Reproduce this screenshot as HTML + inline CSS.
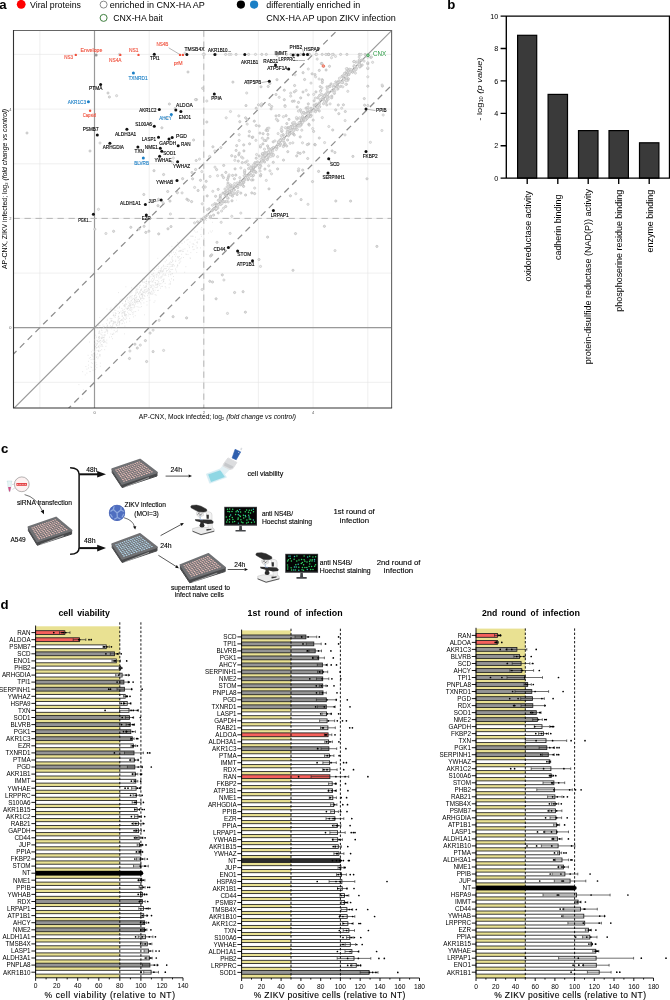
<!DOCTYPE html>
<html lang="en"><head><meta charset="utf-8"><title>Figure</title>
<style>html,body{margin:0;padding:0;background:#fff}body{width:670px;height:1000px;overflow:hidden;font-family:"Liberation Sans",sans-serif}svg{display:block}text{white-space:pre}#pc text{stroke:#000;stroke-width:.12px}</style>
</head><body>
<svg width="670" height="1000" viewBox="0 0 670 1000" font-family="'Liberation Sans', Arial, sans-serif">
<rect width="670" height="1000" fill="#fff"/>
<g id="pa"><text x="-0.7" y="9" font-size="13.2" fill="#000" font-weight="bold">a</text>
<circle cx="21.2" cy="4.3" r="4.4" fill="#f00"/>
<text x="30" y="7.6" font-size="8.8" fill="#000" textLength="51" lengthAdjust="spacingAndGlyphs">Viral proteins</text>
<circle cx="103.6" cy="4.6" r="3.5" fill="#fff" stroke="#8a8a8a" stroke-width="1"/>
<text x="109.8" y="7.6" font-size="8.8" fill="#000" textLength="95" lengthAdjust="spacingAndGlyphs">enriched in CNX-HA AP</text>
<circle cx="103.6" cy="17.9" r="3.5" fill="#fff" stroke="#3f7f3f" stroke-width="1"/>
<text x="113.2" y="20.9" font-size="8.8" fill="#000" textLength="49.6" lengthAdjust="spacingAndGlyphs">CNX-HA bait</text>
<circle cx="240.9" cy="4.6" r="4.1" fill="#000"/>
<circle cx="254.1" cy="4.6" r="4.1" fill="#1a7fc6"/>
<text x="266.3" y="7.6" font-size="8.8" fill="#000" textLength="94" lengthAdjust="spacingAndGlyphs">differentially enriched in</text>
<text x="266.3" y="20.9" font-size="8.8" fill="#000" textLength="129.4" lengthAdjust="spacingAndGlyphs">CNX-HA AP upon ZIKV infection</text>
<clipPath id="ca"><rect x="13.5" y="30.5" width="378.1" height="377.5"/></clipPath>
<g clip-path="url(#ca)">
<path d="M39.9 30.5V408.0M13.5 382.3H391.6M94.5 30.5V408.0M13.5 327.7H391.6M149.2 30.5V408.0M13.5 273.1H391.6M203.8 30.5V408.0M13.5 218.4H391.6M258.4 30.5V408.0M13.5 163.8H391.6M313.1 30.5V408.0M13.5 109.1H391.6M367.8 30.5V408.0M13.5 54.4H391.6" stroke="#e4e4e4" stroke-width="0.6" fill="none"/>
<path d="M94.5 30.5V408.0M13.5 327.7H391.6" stroke="#999" stroke-width="1.2" fill="none"/>
<path d="M203.8 30.5V408.0M13.5 218.4H391.6" stroke="#b4b4b4" stroke-width="1" stroke-dasharray="6.3 4.7" fill="none"/>
<path d="M197.3 243h.01M126.2 317.3h.01M136.3 301.7h.01M152.1 284.8h.01M110.9 318.8h.01M137.3 292.2h.01M138.4 293.8h.01M93.7 359.1h.01M172 273.7h.01M157 275.3h.01M117.8 308h.01M134.6 295.9h.01M158.8 281.7h.01M128.1 300.8h.01M127.6 308.6h.01M97.2 347.3h.01M155.1 287.6h.01M144.5 295.7h.01M145.6 287.3h.01M97.1 350.6h.01M191.1 236.2h.01M142.6 279h.01M125.4 301.4h.01M210.2 231.1h.01M135 304.4h.01M98.6 351.4h.01M119.8 318.3h.01M85.2 374.9h.01M171.9 259.1h.01M122.9 310.5h.01M113.9 321.4h.01M175.8 260.2h.01M91.9 354.5h.01M157.4 284.8h.01M88.1 355.3h.01M119.7 312.6h.01M101.4 344.9h.01M188 254.5h.01M197.5 242h.01M126.8 308.6h.01M166.6 260.2h.01M130.5 296.5h.01M159 270.8h.01M113.2 315.4h.01M96.4 347.7h.01M93.5 353.5h.01M152.5 281.4h.01M212.6 222.3h.01M155 300.9h.01M118.8 316.3h.01M201.9 220.1h.01M148.2 293.4h.01M144.2 298.7h.01M144.9 281.9h.01M130 301.6h.01M124.5 311.5h.01M95.8 335.2h.01M153.4 276.2h.01M134.5 295.5h.01M180.8 261.2h.01M127.9 306.6h.01M91 359.6h.01M135.9 295.5h.01M197.6 231.9h.01M128.2 302.6h.01M107.6 326.6h.01M99.2 333.2h.01M104.2 341.4h.01M131.2 303.2h.01M99.8 332.8h.01M193.1 249.7h.01M132.3 312.7h.01M141.2 294.4h.01M183.4 257.5h.01M187.7 244.3h.01M130.1 302.8h.01M150.5 293.1h.01M159.3 272.4h.01M136.9 296.6h.01M99 350.3h.01M158.7 268.3h.01M164.3 268.4h.01M151.8 286h.01M107.7 331.7h.01M134.4 300.1h.01M119.6 301h.01M127.5 297.8h.01M177.7 242.4h.01M191 236.2h.01M162.6 286.4h.01M156 280.5h.01M161.6 277.8h.01M138.1 289.2h.01M135 288.2h.01M112.7 325.2h.01M136.9 299.3h.01M211.5 217.1h.01M170.6 271.7h.01M124.5 313.7h.01M123.1 318.4h.01M107.2 320.6h.01M151.6 291.4h.01M150.9 276.3h.01M99 345.9h.01M152.8 275.8h.01M115.2 306h.01M185.8 254.1h.01M142.6 298.1h.01M193 236.4h.01M121 320.5h.01M124.6 312.6h.01M148.5 288.3h.01M173 260.7h.01M157.3 287.3h.01M106 342.2h.01M144.6 287.3h.01M139.6 287.3h.01M124.9 326.1h.01M115.8 310.3h.01M196 232.2h.01M126.7 318.6h.01M111.6 336.7h.01M153.3 273.1h.01M142.1 296.2h.01M134.7 299.2h.01M163.3 265.1h.01M157.3 283.7h.01M149.2 284.2h.01M172.6 261.6h.01M146.5 281.7h.01M116.3 306.1h.01M127.4 297.9h.01M118.8 313.6h.01M144.8 292.2h.01M99.8 317.4h.01M91.3 355.2h.01M142.6 291.6h.01M100.4 350.7h.01M89.3 358.3h.01M148.1 290.5h.01M119.5 325h.01M153.5 290.3h.01M118.2 319.3h.01M102.8 335.2h.01M98.5 350.4h.01M119.8 321.4h.01M130.7 307.5h.01M112.3 334.5h.01M128.1 316h.01M99.7 355.6h.01M138.2 307.1h.01M93.2 354.1h.01M131.5 311.2h.01M161 268.6h.01M176.2 254.1h.01M196.8 248h.01M94.8 350.1h.01M164.1 275.3h.01M177.7 264.8h.01M170 266.8h.01M106.3 330.8h.01M154.2 278.7h.01M201.7 227.4h.01M100 356.2h.01M157.6 284.4h.01M175.7 256.2h.01M113.1 312.9h.01M156.1 295.2h.01M102.9 324.9h.01M112.4 326.4h.01M113.8 314.5h.01M141.7 294.1h.01M137 306.6h.01M172.7 265h.01M111.5 321.2h.01M134 301.9h.01M170.5 281.8h.01M153.7 273.8h.01M97.6 353.9h.01M158.2 282h.01M119.6 322.1h.01M149.1 297.6h.01M144.9 296.3h.01M179.2 263.3h.01M142.9 298h.01M94.7 360.8h.01M98.5 346.4h.01M165.1 283.4h.01M131.6 307.7h.01M173.3 252.2h.01M146.7 281.6h.01M110 322.1h.01M172.6 256.6h.01M111.1 318.7h.01M90.4 357.5h.01M211.2 215.7h.01M96.8 364.7h.01M160.6 278h.01M169.5 255.4h.01M142.7 281.6h.01M95 343.7h.01M173.7 279.9h.01M96.3 348h.01M100.3 366.3h.01M125.3 304.7h.01M167.1 270.5h.01M151.2 287.1h.01M169.4 271.1h.01M122.7 303.4h.01M129.3 305.6h.01M97.8 328.8h.01M126.7 304.4h.01M155.1 275h.01M124.3 304.5h.01M153.4 280.7h.01M116.5 324.8h.01M119.5 312.6h.01M143.7 291.2h.01M131 305.3h.01M158.9 272.4h.01M140.7 285.2h.01M197.5 247.8h.01M129.1 306.1h.01M128 308.5h.01M98.8 339.3h.01M142.4 294.6h.01M157.7 280.5h.01M110.4 325.8h.01M136.5 297.6h.01M163.1 270.8h.01M134.5 299.7h.01M120.8 299.4h.01M169.1 268.2h.01M143.1 292.6h.01M152 292.8h.01M174.6 254.5h.01M180.4 250.6h.01M125.6 300.8h.01M122.4 320h.01M144.6 290h.01M131 293.2h.01M91.3 362.7h.01M179.8 247.6h.01M141 303.9h.01M159.5 262.9h.01M101.5 330.1h.01M179.6 250.7h.01M119.3 323.2h.01M134.9 302.4h.01M97.2 344.1h.01M137.3 301.4h.01M130.3 306.2h.01M134.3 305.5h.01M150.1 281.4h.01M139.9 285.7h.01M171.4 278.8h.01M122.6 323.3h.01M103.6 342.4h.01M135.7 303.2h.01M152.7 288.7h.01M179.1 251.5h.01M163.7 269.4h.01M93.6 359.3h.01M152.8 289.7h.01M192.5 247h.01M141.4 294.3h.01M122.9 312.8h.01M150 292.3h.01M122.7 310.1h.01M161.1 286.4h.01M137.2 289.2h.01M184.7 272.3h.01M155.8 284.9h.01M117.6 330.7h.01M160.4 271.5h.01M173.4 276.5h.01M116.1 304h.01M124.3 323h.01M88.6 361.3h.01M169.9 263.8h.01M115.3 317.3h.01M85.9 366.5h.01M89.5 342h.01M129.8 298.9h.01M169.1 287.7h.01M135.7 292.2h.01M151.5 280h.01M102.8 346.5h.01M98.5 337.7h.01M168.6 276.2h.01M153.9 279.7h.01M134.3 297h.01M180.5 258.8h.01M107.5 325.3h.01M124.6 319.1h.01M175.7 261.5h.01M198.1 239.3h.01M140.8 298.7h.01M195.3 227.1h.01M118.2 317.3h.01M152.1 294.2h.01M132.1 304.4h.01M96.9 356.9h.01M148.4 288.7h.01M171.3 264.9h.01M135 302.1h.01M138.7 299.4h.01M186.6 254.3h.01M99.4 336.8h.01M102.8 340.9h.01M116 324.2h.01M101.8 338.6h.01M182.3 251.6h.01M144 278.2h.01M107.3 319.3h.01M117.6 323.6h.01M236.4 200.2h.01M117.7 328.9h.01M114.2 330.3h.01M150.8 287.2h.01M162.1 271.5h.01M145.8 283.4h.01M107.7 330.6h.01M101 346.5h.01M156.6 274.6h.01M139.6 300.7h.01M93 350.2h.01M177.8 256.8h.01M165.1 266.3h.01M125.5 301.2h.01M131.1 300.5h.01M145.4 293.1h.01M115.5 313.8h.01M98.5 346.9h.01M145.9 286.1h.01M98.6 333.2h.01M151.8 281.9h.01M100.3 354.8h.01M136 290.4h.01M130 295.1h.01M201.1 229.1h.01M104.3 332.3h.01M100.1 343.1h.01M117.5 321.2h.01M100.4 340.7h.01M119.5 306.8h.01M151.8 286h.01M170.8 274.9h.01M194 244.6h.01M110.9 309.4h.01M227 202h.01M208.6 233.1h.01M130.2 304.9h.01M82.7 371.7h.01M138.7 294.2h.01M141.5 306.6h.01M86.9 369.1h.01M142.4 296.7h.01M129.5 309.3h.01M109.1 327h.01M161.6 270.8h.01M171.3 251.1h.01M123 313.1h.01M146.1 285.9h.01M118 325.6h.01M111.9 320.8h.01M136.5 289.1h.01M157.5 290.5h.01M118.2 320.4h.01M90.9 367h.01M158.4 290.3h.01M99.4 354.4h.01M141.8 289.2h.01M194.1 249.4h.01M137 301h.01M102.2 337.6h.01M97.1 340.8h.01M176.9 267.1h.01M141 290.3h.01M156.3 277.2h.01M172 257.8h.01M137 291h.01M124.7 305.7h.01M104.2 326.3h.01M78 414.4h.01M97.9 358.7h.01M134.2 307.1h.01M129.3 306.1h.01M149.8 277.3h.01M132.9 314.6h.01M141.8 294.5h.01M163.7 280.3h.01M112.4 338.7h.01M129.2 296.9h.01M94.4 351.4h.01M171.2 253.1h.01M143.1 287.9h.01M156.3 287.6h.01M190.3 258.6h.01M171.9 246.4h.01M132.6 302.6h.01M164.2 279.1h.01M98 341.2h.01M149.5 282h.01M140.1 297.7h.01M95.9 354.9h.01M178.8 251.2h.01M110.7 321h.01M161.3 269.1h.01M125.3 314.4h.01M172.7 266.4h.01M184.9 248.9h.01M113.6 323.5h.01M99 341.7h.01M133.3 303.9h.01M171.7 269.6h.01M129.4 318.4h.01M119.6 307.8h.01M153.1 291h.01M83.3 389.8h.01M111.2 326.5h.01M98.1 342.1h.01M142.9 282.4h.01M112.4 334.2h.01M104.2 336.9h.01M126.4 322.1h.01M101.3 337.4h.01M137.9 301.2h.01M115.4 332h.01M124.9 315.4h.01M115.2 312.6h.01M169.2 256.2h.01M137.3 292.3h.01M159.6 285.4h.01M155.4 282.5h.01M108.6 313.3h.01M158.9 283.5h.01M153.1 288.2h.01M150.4 293.8h.01M125.5 319.4h.01M125.9 303.5h.01M167.8 266.5h.01M206.6 220.5h.01M113.5 321.7h.01M158.1 272.3h.01M127 299.3h.01M163.7 271.1h.01M153.7 285.2h.01M175.6 269h.01M78.9 384.6h.01M119.6 321.7h.01M105 341.7h.01M137.9 303.2h.01M115.3 322h.01M116.2 313.4h.01M161.6 267.4h.01M204.2 238.4h.01M82.1 399h.01M129 310.5h.01M147.4 295.7h.01M135.8 298.3h.01M125.4 306.1h.01M96.1 343.2h.01M104.7 341h.01M163.7 281.5h.01M171.2 252.1h.01M138.9 301.6h.01M111.6 320.7h.01M140.4 289.9h.01M130.2 308.1h.01M154.1 286.2h.01M140.1 292.1h.01M116.6 325h.01M148.4 292.4h.01M102.2 336.9h.01M162.5 275h.01M179.4 259.2h.01M103.3 339.8h.01M154.1 292.2h.01M102.1 332.6h.01M174.5 265.9h.01M173.6 280h.01M128.5 307.8h.01M172.8 265.9h.01M122.1 316.5h.01M113.8 334.1h.01M118.1 311.4h.01M135.8 297.6h.01M129.9 304h.01M141.7 290.1h.01M116.5 327.4h.01M162.3 270.9h.01M168.4 269.6h.01M122.9 298.9h.01M101.7 349.7h.01M166.2 268.4h.01M175.9 270.1h.01M135.7 311.6h.01M102.4 345h.01M146.7 283.6h.01M190 242.1h.01M92.2 359.2h.01M155.1 294.6h.01M131.7 300.2h.01M107.4 333.2h.01M152.6 269.3h.01M101.8 328.4h.01M148.6 281.7h.01M178.7 246.1h.01M142.1 300.6h.01M106.9 309h.01M92.9 356.4h.01M100.8 334h.01M95.6 366.1h.01M192.2 243.9h.01M130.3 314.5h.01M101.3 334.8h.01M102.1 341.5h.01M105.6 332h.01M126.4 299.1h.01M98.5 337.7h.01M199.7 239.1h.01M115.1 322.7h.01M109.9 309.9h.01M145.1 291.3h.01M186.9 240.1h.01M185.9 266.7h.01M120.7 320.4h.01M146.5 286.1h.01M142.4 293.7h.01M157.8 258.3h.01M150.1 270.7h.01M103.7 340.4h.01M99.7 347.9h.01M143.9 292.7h.01M99.9 325.4h.01M182 243.4h.01M141.5 294h.01M104 342.5h.01M129.1 314.5h.01M124.5 333.9h.01M133.2 313h.01M171.6 262.5h.01M97.3 341h.01M93 370.2h.01M150.6 285.4h.01M132 292.1h.01M140.6 290.9h.01M156.8 284.7h.01M132.6 299.4h.01M163 266.8h.01M103.3 327.3h.01M140.5 299.2h.01M111.7 328.8h.01M104.1 335.2h.01M161.7 280.7h.01M156.9 268.9h.01M93.7 357.1h.01M98.6 327.9h.01M148.6 273.3h.01M176.7 250.1h.01M114.5 310.1h.01M131.8 301.2h.01M98.8 346.9h.01M223.8 196.2h.01M157.8 286.3h.01M166.4 271.7h.01M163.6 281.5h.01M167.3 264.5h.01M157.6 274h.01M125.4 301.7h.01M163.4 274h.01M140 307.3h.01M183.4 251.4h.01M113.5 315.6h.01M124.9 315.7h.01M161.7 276.2h.01M181.2 250.3h.01M144.2 282.5h.01M115.6 322.2h.01M134 311.7h.01M119.1 318.5h.01M200.9 234.5h.01M169.3 280h.01M183.1 249.3h.01M149.7 292.9h.01M119.4 312.8h.01M179.4 256.5h.01M193.4 243.8h.01M158.7 266.3h.01M140.7 302.4h.01M177.5 265.8h.01M128.8 308.1h.01M163.5 265.8h.01M114.8 321.8h.01M103.3 337.5h.01M159.6 273.5h.01M148.9 281.9h.01M200.1 218.4h.01M127.8 308.7h.01M139.8 295.3h.01M97 340.3h.01M90.1 371.5h.01M96.4 357.4h.01M154.3 275.9h.01M101.3 344.7h.01M173.1 264.3h.01M190.1 257.8h.01M131 297.8h.01M196.1 245.9h.01M143.7 285.8h.01M177.8 265.7h.01M133.3 304.8h.01M170.2 269.6h.01M105.9 346.3h.01M158.5 276h.01M124.2 309.5h.01M133.5 316.9h.01M159.1 277.5h.01M141.1 294.9h.01M132.2 307.8h.01M165.1 274.8h.01M169.1 284.2h.01M100.8 342.8h.01M160.4 270.3h.01M160 283.9h.01M112.8 323.6h.01M152.3 274.4h.01M99.2 341.6h.01M190.8 252.6h.01M127.4 312.2h.01M134.5 299h.01M178.2 258h.01M132 298h.01M160.5 288.2h.01M98.5 325.5h.01M121.6 319.8h.01M100.8 340.3h.01M132 309.8h.01M176.4 271.9h.01M151.1 294.1h.01M168.8 274.5h.01M105.2 335.1h.01M109.3 323h.01M123.8 305.8h.01M156.7 276.8h.01M148.9 289.4h.01M139.2 301.4h.01M158.4 272.3h.01M135.3 294.7h.01M139.4 300.7h.01M181.7 254.3h.01M119.4 322.8h.01M144.8 290h.01M192.7 236.2h.01M144.4 314.8h.01M162.5 271.9h.01M118.4 322.1h.01M200.5 247.9h.01M90 371.6h.01M98.8 336.7h.01M102 330.7h.01M196.8 252.5h.01M154.3 270.5h.01M128.7 305.7h.01M97.4 343.5h.01M151.7 274.5h.01M141.4 289.1h.01M115.7 315.2h.01M94.7 339.9h.01M104.7 349.7h.01M149.1 278.6h.01M145.8 289.6h.01M139.2 293.1h.01M131.8 296.2h.01M96 362.6h.01M135.8 293.7h.01M103.9 327.2h.01M139.4 296.5h.01M152.5 278.4h.01M117.1 331.9h.01M99.5 340.8h.01M169.1 272.1h.01M148.7 283.1h.01M118.4 292.6h.01M79 397.4h.01M135 300.4h.01M160.8 276.8h.01M175.4 252.7h.01M114.1 315.5h.01M116 327.6h.01M124.2 305.4h.01M172.7 269.4h.01M99.1 331.6h.01M135.2 315.7h.01M106.8 340.1h.01M147 284.3h.01M100.3 363.1h.01M152.9 282.1h.01M123.1 312.1h.01M129.9 304.2h.01M154.4 277.3h.01M177.9 257h.01M94.7 352h.01M171.2 266.5h.01M158.9 278.9h.01M125.9 286.8h.01M184.5 242h.01M146.6 286.9h.01M182.1 251h.01M119.9 322.9h.01M107.3 325.4h.01M181.5 257.9h.01M210.3 217.6h.01M162.9 282.7h.01M170.4 284.2h.01M123.5 317.7h.01M103.1 337.6h.01M131.6 287.8h.01M188 239.5h.01M96.8 367.6h.01M122.5 316h.01M95.4 369.3h.01M142.5 295.3h.01M170.7 274.4h.01M98.8 351.4h.01M121.9 308.4h.01M180.4 251.3h.01M137.2 301.9h.01M96.5 337.2h.01M96 327.8h.01M88.5 365.1h.01M165.3 274.1h.01M114.2 316.8h.01M172.4 273.7h.01M169.7 262.9h.01M116.9 325.5h.01M123.3 321.3h.01M167 270.5h.01M142.1 280.7h.01M148.1 293.9h.01M95.6 346.7h.01M170 264.5h.01M109.4 337.2h.01M88.6 368h.01M119.2 324.4h.01M153 293.8h.01M211.2 232.2h.01M126 315.4h.01M99.4 338.5h.01M212.5 230.9h.01M146.1 281.6h.01M132.4 304.9h.01M104.1 339.2h.01M104.1 337.6h.01M189.1 245.9h.01M129.8 321.2h.01M116.5 331.3h.01M118.9 321.2h.01M195 240h.01M118.5 316.3h.01M153.6 276.2h.01M147.3 290.1h.01M147 305h.01M106.2 329.7h.01M165.9 287.9h.01M195.5 237.2h.01M138.6 299.5h.01M107 329.4h.01M101.2 338.6h.01M146.9 288.9h.01M130.4 305.2h.01M133.6 298.7h.01M139.4 301.4h.01M98.3 357.1h.01M165.7 268.7h.01M144.2 279.4h.01M136.6 293h.01M146.4 291.3h.01M170.5 261.9h.01M140.8 299h.01M106.6 323.7h.01M179.9 262.4h.01M125.5 311.3h.01M111 308h.01M96.7 345.1h.01M137 286.7h.01M102 338.6h.01M123.1 320.1h.01M154.9 282.7h.01M144 292.6h.01M173.2 264.7h.01M146.4 280.1h.01M125.1 315.2h.01M122 299.2h.01M125.2 308h.01M161 283.7h.01M140.2 292.8h.01M124.9 313.2h.01M165.2 261.8h.01M141.5 298.2h.01M121 311.2h.01M96.3 345h.01M154 302.4h.01M143.9 302.9h.01M143.7 295h.01M121.4 313.2h.01M112 318.7h.01M129.3 303.7h.01M143.5 298.8h.01M134.9 299.6h.01M133.8 307.9h.01M122 315.1h.01M149.7 289.8h.01M144.9 287.3h.01M113.8 333.2h.01M163 279.8h.01M165.2 286.6h.01M168.3 254.8h.01M131 309.2h.01M130.5 310.4h.01M100 345.1h.01M162.1 276.7h.01M86.9 373.1h.01M124.4 306.5h.01M127.1 307.9h.01M167 266.3h.01M134.8 301.9h.01M107.1 330.8h.01M99.8 337.3h.01M113.7 322.5h.01M139.7 291.9h.01M138.3 310.2h.01M135.8 300.7h.01M118.8 319h.01M132.2 295.6h.01M170.1 283.4h.01M104.8 334.8h.01M139.8 297.4h.01M196.7 242.3h.01M155.8 283.4h.01M123.8 311.7h.01M160.2 270.4h.01M114.4 322.9h.01M137.1 299.6h.01M192.9 246.6h.01M201.6 236.3h.01M92.9 355.4h.01M163.2 279.2h.01M204.8 245.9h.01M115.2 306.6h.01M146.9 301.5h.01M189.5 247.6h.01M121.9 323.8h.01M158 284.5h.01M134.8 306.7h.01M92.3 363.4h.01M146.3 292.1h.01M128.8 313.3h.01M168.4 264.2h.01M208.9 217.5h.01M161 272.2h.01M127.2 309.5h.01M155.1 290.1h.01M147.3 291.6h.01M172.5 260.1h.01M99.1 351.3h.01M99.7 331h.01M91.7 367.5h.01M159.8 274.8h.01M136.5 302.1h.01M109.5 323.1h.01M112.2 320.9h.01M124.4 314.6h.01M106.6 326.9h.01M125.9 316.1h.01M121.7 319.9h.01M187.7 251h.01M149.9 300.2h.01M110 318.3h.01M115.6 315.5h.01M178.2 257.1h.01M150.9 287.7h.01M149 282.2h.01M165.9 275.5h.01M194.3 230.8h.01M99.4 336.4h.01M110.8 333.9h.01M91.4 351.8h.01M155.9 285h.01M126.6 314.5h.01M117.2 322.5h.01M113.1 324.8h.01M159 272.8h.01M129.2 297.4h.01M122.7 312.8h.01M178.9 260.6h.01M106.9 343.1h.01M95.5 346.6h.01M223.7 207.6h.01" stroke="#d6d6d6" stroke-width="0.65" stroke-linecap="round" fill="none"/>
<path d="M13.5 408.7L391.6 30.6" stroke="#999" stroke-width="1.2" fill="none"/>
<path d="M13.5 354L391.6 -24M13.5 463.3L391.6 85.3" stroke="#8c8c8c" stroke-width="1.25" stroke-dasharray="6.3 4.7" stroke-dashoffset="2" fill="none"/>
<g fill="#e2e2e2" stroke="#b4b4b4" stroke-width="0.6"><circle cx="359.5" cy="63.7" r="1.1"/><circle cx="293.8" cy="125.1" r="1.1"/><circle cx="329.5" cy="86" r="1.1"/><circle cx="230.5" cy="184.8" r="1.1"/><circle cx="283.9" cy="138.5" r="1.1"/><circle cx="297.3" cy="118.8" r="1.1"/><circle cx="291.1" cy="127.1" r="1.1"/><circle cx="226.1" cy="195.3" r="1.1"/><circle cx="251.9" cy="170.1" r="1.1"/><circle cx="220.3" cy="197" r="1.1"/><circle cx="292.6" cy="123.3" r="1.1"/><circle cx="278.3" cy="142" r="1.1"/><circle cx="231.6" cy="187.1" r="1.1"/><circle cx="330.1" cy="86.4" r="1.1"/><circle cx="319.6" cy="95.4" r="1.1"/><circle cx="253.4" cy="168.6" r="1.1"/><circle cx="326.9" cy="92.6" r="1.1"/><circle cx="237.3" cy="185.9" r="1.1"/><circle cx="302.8" cy="117.9" r="1.1"/><circle cx="302.4" cy="116.8" r="1.1"/><circle cx="359.3" cy="61.8" r="1.1"/><circle cx="337.7" cy="85.8" r="1.1"/><circle cx="314.1" cy="100.8" r="1.1"/><circle cx="230.4" cy="194.4" r="1.1"/><circle cx="352.5" cy="71.8" r="1.1"/><circle cx="289.2" cy="133" r="1.1"/><circle cx="342.6" cy="82.6" r="1.1"/><circle cx="313.8" cy="110.3" r="1.1"/><circle cx="232.5" cy="196.1" r="1.1"/><circle cx="353.9" cy="66.5" r="1.1"/><circle cx="323.5" cy="103.7" r="1.1"/><circle cx="293.6" cy="134.1" r="1.1"/><circle cx="346.3" cy="75.5" r="1.1"/><circle cx="310.6" cy="109.7" r="1.1"/><circle cx="248" cy="179.7" r="1.1"/><circle cx="277.1" cy="147.9" r="1.1"/><circle cx="244.8" cy="180.1" r="1.1"/><circle cx="243.4" cy="182.5" r="1.1"/><circle cx="267.6" cy="145.9" r="1.1"/><circle cx="225.6" cy="194.8" r="1.1"/><circle cx="311" cy="108.2" r="1.1"/><circle cx="210.4" cy="217.6" r="1.1"/><circle cx="243.7" cy="182.4" r="1.1"/><circle cx="313.2" cy="120.1" r="1.1"/><circle cx="319.3" cy="111" r="1.1"/><circle cx="365.1" cy="54.4" r="1.1"/><circle cx="327.5" cy="95" r="1.1"/><circle cx="310" cy="115.1" r="1.1"/><circle cx="245.7" cy="177.5" r="1.1"/><circle cx="213.1" cy="209.6" r="1.1"/><circle cx="338.6" cy="81" r="1.1"/><circle cx="253.3" cy="168.8" r="1.1"/><circle cx="252.6" cy="176.2" r="1.1"/><circle cx="326" cy="102.3" r="1.1"/><circle cx="337" cy="83.7" r="1.1"/><circle cx="283.1" cy="135.3" r="1.1"/><circle cx="230.9" cy="191.4" r="1.1"/><circle cx="238.9" cy="183.2" r="1.1"/><circle cx="311.2" cy="115.4" r="1.1"/><circle cx="221" cy="201.2" r="1.1"/><circle cx="301.9" cy="122.3" r="1.1"/><circle cx="280.1" cy="140.1" r="1.1"/><circle cx="276.4" cy="146.7" r="1.1"/><circle cx="234.4" cy="189.9" r="1.1"/><circle cx="256.1" cy="165" r="1.1"/><circle cx="272.8" cy="154" r="1.1"/><circle cx="254.9" cy="163.4" r="1.1"/><circle cx="301.2" cy="119.9" r="1.1"/><circle cx="301.3" cy="124.8" r="1.1"/><circle cx="273.4" cy="147.5" r="1.1"/><circle cx="322.7" cy="98.3" r="1.1"/><circle cx="253" cy="170.8" r="1.1"/><circle cx="264.6" cy="161.9" r="1.1"/><circle cx="334.4" cy="87.7" r="1.1"/><circle cx="207.2" cy="215.2" r="1.1"/><circle cx="356.5" cy="68.3" r="1.1"/><circle cx="304.9" cy="113.3" r="1.1"/><circle cx="303.9" cy="120.5" r="1.1"/><circle cx="259.2" cy="156" r="1.1"/><circle cx="249.1" cy="175.1" r="1.1"/><circle cx="293" cy="129.8" r="1.1"/><circle cx="352.6" cy="72.2" r="1.1"/><circle cx="234.4" cy="178.8" r="1.1"/><circle cx="291.3" cy="128.4" r="1.1"/><circle cx="335.8" cy="81.8" r="1.1"/><circle cx="328.8" cy="92.1" r="1.1"/><circle cx="346" cy="73.6" r="1.1"/><circle cx="284" cy="145.1" r="1.1"/><circle cx="349" cy="73.9" r="1.1"/><circle cx="233.9" cy="193.6" r="1.1"/><circle cx="237.1" cy="194.5" r="1.1"/><circle cx="225.4" cy="201.8" r="1.1"/><circle cx="217" cy="207.8" r="1.1"/><circle cx="228.6" cy="189.4" r="1.1"/><circle cx="205.2" cy="216.8" r="1.1"/><circle cx="254.1" cy="171.8" r="1.1"/><circle cx="360.4" cy="65.4" r="1.1"/><circle cx="295.9" cy="124.5" r="1.1"/><circle cx="216.4" cy="204.1" r="1.1"/><circle cx="341.9" cy="76.5" r="1.1"/><circle cx="325.3" cy="94.6" r="1.1"/><circle cx="307.9" cy="112.5" r="1.1"/><circle cx="323" cy="99.4" r="1.1"/><circle cx="264.9" cy="152.3" r="1.1"/><circle cx="302.9" cy="120.7" r="1.1"/><circle cx="370.7" cy="57.4" r="1.1"/><circle cx="343.7" cy="78.5" r="1.1"/><circle cx="301.5" cy="120" r="1.1"/><circle cx="222.9" cy="193.2" r="1.1"/><circle cx="366.1" cy="55.3" r="1.1"/><circle cx="348.4" cy="78.8" r="1.1"/><circle cx="216" cy="209.1" r="1.1"/><circle cx="291.3" cy="129.4" r="1.1"/><circle cx="212" cy="210.9" r="1.1"/><circle cx="317.9" cy="97.7" r="1.1"/><circle cx="288.4" cy="131.4" r="1.1"/><circle cx="222.6" cy="201.2" r="1.1"/><circle cx="306.3" cy="119.2" r="1.1"/><circle cx="307.4" cy="112.4" r="1.1"/><circle cx="262.1" cy="160.3" r="1.1"/><circle cx="209.1" cy="208.8" r="1.1"/><circle cx="231.2" cy="192.1" r="1.1"/><circle cx="246.7" cy="175.7" r="1.1"/><circle cx="355.7" cy="62.2" r="1.1"/><circle cx="300.5" cy="123.3" r="1.1"/><circle cx="282.5" cy="140.1" r="1.1"/><circle cx="218.2" cy="212.9" r="1.1"/><circle cx="263.4" cy="160" r="1.1"/><circle cx="253.5" cy="167.7" r="1.1"/><circle cx="240.2" cy="184.9" r="1.1"/><circle cx="290.1" cy="133.8" r="1.1"/><circle cx="327.2" cy="98.9" r="1.1"/><circle cx="289.9" cy="128.5" r="1.1"/><circle cx="319" cy="103" r="1.1"/><circle cx="317.8" cy="109.5" r="1.1"/><circle cx="228.1" cy="198.2" r="1.1"/><circle cx="255.9" cy="172.4" r="1.1"/><circle cx="249.8" cy="173.5" r="1.1"/><circle cx="323.8" cy="100.3" r="1.1"/><circle cx="255.1" cy="171.3" r="1.1"/><circle cx="324.6" cy="95.6" r="1.1"/><circle cx="307.8" cy="112.7" r="1.1"/><circle cx="264" cy="156.7" r="1.1"/><circle cx="283.7" cy="138.7" r="1.1"/><circle cx="214.8" cy="203.7" r="1.1"/><circle cx="347.7" cy="72.7" r="1.1"/><circle cx="358.8" cy="64.6" r="1.1"/><circle cx="271.4" cy="154.2" r="1.1"/><circle cx="259.8" cy="163.6" r="1.1"/><circle cx="289" cy="134" r="1.1"/><circle cx="299.7" cy="122.7" r="1.1"/><circle cx="283.2" cy="134.7" r="1.1"/><circle cx="271.5" cy="149.1" r="1.1"/><circle cx="268" cy="158" r="1.1"/><circle cx="360.9" cy="66" r="1.1"/><circle cx="336.8" cy="86.7" r="1.1"/><circle cx="288" cy="127.7" r="1.1"/><circle cx="308.5" cy="112.9" r="1.1"/><circle cx="218.3" cy="200.3" r="1.1"/><circle cx="334.4" cy="93.4" r="1.1"/><circle cx="281.4" cy="138.8" r="1.1"/><circle cx="229.8" cy="186.9" r="1.1"/><circle cx="232.5" cy="186.9" r="1.1"/><circle cx="262.5" cy="154.6" r="1.1"/><circle cx="279.8" cy="145.6" r="1.1"/><circle cx="256.2" cy="158.2" r="1.1"/><circle cx="320.8" cy="90.6" r="1.1"/><circle cx="300.4" cy="124.7" r="1.1"/><circle cx="320.2" cy="99.6" r="1.1"/><circle cx="304.1" cy="118.3" r="1.1"/><circle cx="338.2" cy="82.4" r="1.1"/><circle cx="243.6" cy="186.4" r="1.1"/><circle cx="345.2" cy="79.8" r="1.1"/><circle cx="347.8" cy="80.3" r="1.1"/><circle cx="331.9" cy="90.8" r="1.1"/><circle cx="244.7" cy="171.2" r="1.1"/><circle cx="251.8" cy="170.1" r="1.1"/><circle cx="250.9" cy="166.8" r="1.1"/><circle cx="343" cy="75.7" r="1.1"/><circle cx="242.6" cy="185.1" r="1.1"/><circle cx="220.7" cy="204.5" r="1.1"/><circle cx="294.3" cy="135" r="1.1"/><circle cx="262.9" cy="160.9" r="1.1"/><circle cx="311" cy="112" r="1.1"/><circle cx="216.4" cy="205.4" r="1.1"/><circle cx="257.3" cy="161.9" r="1.1"/><circle cx="267.4" cy="152.4" r="1.1"/><circle cx="316.2" cy="104.1" r="1.1"/><circle cx="253.5" cy="175.3" r="1.1"/><circle cx="326.5" cy="96.1" r="1.1"/><circle cx="331.8" cy="96.1" r="1.1"/><circle cx="292.8" cy="133.1" r="1.1"/><circle cx="348.6" cy="70.8" r="1.1"/><circle cx="354.9" cy="70.3" r="1.1"/><circle cx="322.9" cy="97.4" r="1.1"/><circle cx="259.7" cy="168.2" r="1.1"/><circle cx="277.9" cy="144.5" r="1.1"/><circle cx="299.8" cy="122.5" r="1.1"/><circle cx="214.1" cy="208.4" r="1.1"/><circle cx="353.8" cy="61.7" r="1.1"/><circle cx="359.4" cy="59.8" r="1.1"/><circle cx="253.4" cy="167.1" r="1.1"/><circle cx="248.3" cy="164.7" r="1.1"/><circle cx="337.8" cy="86.8" r="1.1"/><circle cx="297.9" cy="125.5" r="1.1"/><circle cx="231.5" cy="190.7" r="1.1"/><circle cx="358.9" cy="64.7" r="1.1"/><circle cx="346.5" cy="71.5" r="1.1"/><circle cx="256.1" cy="166" r="1.1"/><circle cx="269.6" cy="151.7" r="1.1"/><circle cx="235.8" cy="175.1" r="1.1"/><circle cx="261.7" cy="161.1" r="1.1"/><circle cx="308.7" cy="110.4" r="1.1"/><circle cx="296.1" cy="127.7" r="1.1"/><circle cx="213.6" cy="215.1" r="1.1"/><circle cx="267.3" cy="159.7" r="1.1"/><circle cx="271.7" cy="148.8" r="1.1"/><circle cx="286.9" cy="133.4" r="1.1"/><circle cx="293.7" cy="127.8" r="1.1"/><circle cx="327.6" cy="97.1" r="1.1"/><circle cx="349.7" cy="69.3" r="1.1"/><circle cx="225" cy="194" r="1.1"/><circle cx="346.3" cy="74.6" r="1.1"/><circle cx="231.3" cy="194.6" r="1.1"/><circle cx="201.1" cy="220.5" r="1.1"/><circle cx="350.8" cy="71.6" r="1.1"/><circle cx="225.7" cy="206.5" r="1.1"/><circle cx="319.3" cy="104.3" r="1.1"/><circle cx="260.5" cy="165.8" r="1.1"/><circle cx="227.8" cy="192.3" r="1.1"/><circle cx="288.4" cy="135.8" r="1.1"/><circle cx="220.4" cy="195.2" r="1.1"/><circle cx="371.4" cy="57" r="1.1"/><circle cx="270.9" cy="151.7" r="1.1"/><circle cx="280.6" cy="143.9" r="1.1"/><circle cx="308.6" cy="117.1" r="1.1"/><circle cx="348.8" cy="74.7" r="1.1"/><circle cx="331.1" cy="83.9" r="1.1"/><circle cx="284.2" cy="142.4" r="1.1"/><circle cx="362.2" cy="65" r="1.1"/><circle cx="317.7" cy="107.3" r="1.1"/><circle cx="304.1" cy="119.8" r="1.1"/><circle cx="248.5" cy="178.7" r="1.1"/><circle cx="314.1" cy="105.1" r="1.1"/><circle cx="346.4" cy="78.9" r="1.1"/><circle cx="288.1" cy="127.9" r="1.1"/><circle cx="361.9" cy="60" r="1.1"/><circle cx="359.9" cy="67" r="1.1"/><circle cx="229.6" cy="191.8" r="1.1"/><circle cx="290.1" cy="133.6" r="1.1"/><circle cx="294.5" cy="128.1" r="1.1"/><circle cx="250.8" cy="168.8" r="1.1"/><circle cx="286.7" cy="128.2" r="1.1"/><circle cx="326.7" cy="100.9" r="1.1"/><circle cx="263.6" cy="156.3" r="1.1"/><circle cx="263.7" cy="153.7" r="1.1"/><circle cx="293.1" cy="127" r="1.1"/><circle cx="268.6" cy="155.1" r="1.1"/><circle cx="237.7" cy="187.6" r="1.1"/><circle cx="337.8" cy="89.1" r="1.1"/><circle cx="236.1" cy="150.4" r="1.1"/><circle cx="287.8" cy="151.7" r="1.1"/><circle cx="241.7" cy="182.5" r="1.1"/><circle cx="240.8" cy="193.1" r="1.1"/><circle cx="210.6" cy="216.2" r="1.1"/><circle cx="296.7" cy="155.9" r="1.1"/><circle cx="232.6" cy="175.4" r="1.1"/><circle cx="220.2" cy="198.3" r="1.1"/><circle cx="271.7" cy="106.5" r="1.1"/><circle cx="292.4" cy="101.3" r="1.1"/><circle cx="307.7" cy="158.5" r="1.1"/><circle cx="186.9" cy="199.2" r="1.1"/><circle cx="302.7" cy="170.1" r="1.1"/><circle cx="308.7" cy="143.9" r="1.1"/><circle cx="232" cy="200.8" r="1.1"/><circle cx="260.4" cy="147" r="1.1"/><circle cx="322.3" cy="82.6" r="1.1"/><circle cx="327" cy="86.8" r="1.1"/><circle cx="224.8" cy="192.4" r="1.1"/><circle cx="269.4" cy="104.6" r="1.1"/><circle cx="283.5" cy="160.1" r="1.1"/><circle cx="235.3" cy="156.7" r="1.1"/><circle cx="260.5" cy="176" r="1.1"/><circle cx="253" cy="179.9" r="1.1"/><circle cx="277.8" cy="120.7" r="1.1"/><circle cx="334" cy="90.1" r="1.1"/><circle cx="346.4" cy="84.3" r="1.1"/><circle cx="335.7" cy="109.9" r="1.1"/><circle cx="322.2" cy="79.7" r="1.1"/><circle cx="298" cy="152.8" r="1.1"/><circle cx="262.4" cy="153.6" r="1.1"/><circle cx="249.4" cy="131.5" r="1.1"/><circle cx="347.4" cy="68.8" r="1.1"/><circle cx="338.3" cy="105" r="1.1"/><circle cx="215.9" cy="209.6" r="1.1"/><circle cx="266" cy="140.6" r="1.1"/><circle cx="264.3" cy="140.4" r="1.1"/><circle cx="267.3" cy="128.5" r="1.1"/><circle cx="300.2" cy="153.4" r="1.1"/><circle cx="329.5" cy="66.3" r="1.1"/><circle cx="243.7" cy="144.9" r="1.1"/><circle cx="315" cy="74.6" r="1.1"/><circle cx="256.2" cy="108.2" r="1.1"/><circle cx="284.3" cy="99.7" r="1.1"/><circle cx="225.8" cy="172.4" r="1.1"/><circle cx="294.2" cy="101.1" r="1.1"/><circle cx="191.6" cy="201.6" r="1.1"/><circle cx="263.1" cy="133.7" r="1.1"/><circle cx="285.2" cy="144.2" r="1.1"/><circle cx="245.6" cy="195" r="1.1"/><circle cx="294.4" cy="91.8" r="1.1"/><circle cx="245.5" cy="162.3" r="1.1"/><circle cx="313.6" cy="131.4" r="1.1"/><circle cx="260.8" cy="174.6" r="1.1"/><circle cx="319.3" cy="138" r="1.1"/><circle cx="289.4" cy="134" r="1.1"/><circle cx="245" cy="175.3" r="1.1"/><circle cx="338.8" cy="113.7" r="1.1"/><circle cx="249.6" cy="143.8" r="1.1"/><circle cx="307.3" cy="144.6" r="1.1"/><circle cx="270.2" cy="151.9" r="1.1"/><circle cx="303.1" cy="72.7" r="1.1"/><circle cx="291.2" cy="126.3" r="1.1"/><circle cx="307.1" cy="117.7" r="1.1"/><circle cx="245.6" cy="117.8" r="1.1"/><circle cx="333.6" cy="86" r="1.1"/><circle cx="249.1" cy="136" r="1.1"/><circle cx="252.2" cy="137.4" r="1.1"/><circle cx="298.5" cy="102.4" r="1.1"/><circle cx="283.4" cy="146.5" r="1.1"/><circle cx="303.8" cy="112.4" r="1.1"/><circle cx="316.1" cy="109.8" r="1.1"/><circle cx="273.2" cy="141.8" r="1.1"/><circle cx="228.7" cy="176.2" r="1.1"/><circle cx="236.7" cy="145.6" r="1.1"/><circle cx="222.1" cy="175.3" r="1.1"/><circle cx="303.7" cy="152.2" r="1.1"/><circle cx="268.8" cy="151.7" r="1.1"/><circle cx="266.1" cy="130.3" r="1.1"/><circle cx="267.9" cy="138.2" r="1.1"/><circle cx="242.3" cy="162.6" r="1.1"/><circle cx="231.7" cy="155.7" r="1.1"/><circle cx="286.1" cy="115.7" r="1.1"/><circle cx="308.3" cy="103.9" r="1.1"/><circle cx="223.9" cy="201.7" r="1.1"/><circle cx="203.3" cy="187.2" r="1.1"/><circle cx="281.7" cy="131.5" r="1.1"/><circle cx="300.7" cy="97.9" r="1.1"/><circle cx="264.9" cy="169.1" r="1.1"/><circle cx="234.5" cy="186.7" r="1.1"/><circle cx="244.6" cy="172.9" r="1.1"/><circle cx="321.3" cy="63.5" r="1.1"/><circle cx="251.8" cy="192.9" r="1.1"/><circle cx="206.2" cy="181.3" r="1.1"/><circle cx="345.3" cy="111.5" r="1.1"/><circle cx="226.3" cy="191.1" r="1.1"/><circle cx="218.2" cy="189.4" r="1.1"/><circle cx="200.5" cy="180.3" r="1.1"/><circle cx="300.4" cy="109.8" r="1.1"/><circle cx="308.8" cy="124.2" r="1.1"/><circle cx="267.6" cy="130.7" r="1.1"/><circle cx="240.3" cy="181.1" r="1.1"/><circle cx="192.6" cy="178.8" r="1.1"/><circle cx="320.2" cy="86.6" r="1.1"/><circle cx="315.5" cy="111.7" r="1.1"/><circle cx="326.8" cy="104.9" r="1.1"/><circle cx="298.4" cy="170.8" r="1.1"/><circle cx="331.7" cy="97.8" r="1.1"/><circle cx="343.4" cy="104.8" r="1.1"/><circle cx="340.8" cy="86.3" r="1.1"/><circle cx="307.3" cy="107.9" r="1.1"/><circle cx="277.6" cy="168.9" r="1.1"/><circle cx="228.1" cy="177.9" r="1.1"/><circle cx="259.2" cy="126" r="1.1"/><circle cx="215.6" cy="196.3" r="1.1"/><circle cx="235.1" cy="168.9" r="1.1"/><circle cx="268.4" cy="148" r="1.1"/><circle cx="228" cy="183" r="1.1"/><circle cx="286.7" cy="146" r="1.1"/><circle cx="271.1" cy="108.9" r="1.1"/><circle cx="289" cy="119.4" r="1.1"/><circle cx="217" cy="242.3" r="1.1"/><circle cx="223.5" cy="177.6" r="1.1"/><circle cx="300.2" cy="136.9" r="1.1"/><circle cx="310.6" cy="116.5" r="1.1"/><circle cx="319.7" cy="106.7" r="1.1"/><circle cx="287.3" cy="131.3" r="1.1"/><circle cx="254.6" cy="193.6" r="1.1"/><circle cx="308.3" cy="94.8" r="1.1"/><circle cx="286.5" cy="54.4" r="1.1"/><circle cx="258.5" cy="104.8" r="1.1"/><circle cx="287.6" cy="140" r="1.1"/><circle cx="248.6" cy="168.5" r="1.1"/><circle cx="306" cy="108.1" r="1.1"/><circle cx="332.1" cy="150.9" r="1.1"/><circle cx="255" cy="162.7" r="1.1"/><circle cx="315.9" cy="91.9" r="1.1"/><circle cx="297.2" cy="107" r="1.1"/><circle cx="227.5" cy="179.8" r="1.1"/><circle cx="322.4" cy="80.6" r="1.1"/><circle cx="326.1" cy="70" r="1.1"/><circle cx="197.6" cy="221.8" r="1.1"/><circle cx="251.6" cy="180" r="1.1"/><circle cx="290.7" cy="126.8" r="1.1"/><circle cx="267.9" cy="134.4" r="1.1"/><circle cx="207.2" cy="195.9" r="1.1"/><circle cx="286.8" cy="123.6" r="1.1"/><circle cx="309.2" cy="125.1" r="1.1"/><circle cx="238.3" cy="161.1" r="1.1"/><circle cx="220.8" cy="147.6" r="1.1"/><circle cx="262.9" cy="143.9" r="1.1"/><circle cx="344.5" cy="73.4" r="1.1"/><circle cx="273.3" cy="162.3" r="1.1"/><circle cx="312.1" cy="73.8" r="1.1"/><circle cx="212.9" cy="146.8" r="1.1"/><circle cx="269.9" cy="83.5" r="1.1"/><circle cx="196.5" cy="99.6" r="1.1"/><circle cx="232.9" cy="82.1" r="1.1"/><circle cx="259.9" cy="133.1" r="1.1"/><circle cx="261.2" cy="105.9" r="1.1"/><circle cx="290.9" cy="54.4" r="1.1"/><circle cx="177.4" cy="192.7" r="1.1"/><circle cx="276" cy="94.5" r="1.1"/><circle cx="277" cy="79.7" r="1.1"/><circle cx="294.6" cy="85.5" r="1.1"/><circle cx="109.4" cy="97" r="1.1"/><circle cx="340.6" cy="54.4" r="1.1"/><circle cx="198.1" cy="190.5" r="1.1"/><circle cx="166.4" cy="118.1" r="1.1"/><circle cx="171" cy="226.6" r="1.1"/><circle cx="167.7" cy="191.5" r="1.1"/><circle cx="304.6" cy="79.5" r="1.1"/><circle cx="276" cy="115.9" r="1.1"/><circle cx="322" cy="63.6" r="1.1"/><circle cx="254.3" cy="121.2" r="1.1"/><circle cx="256.3" cy="125.5" r="1.1"/><circle cx="268.2" cy="86.5" r="1.1"/><circle cx="168" cy="228.8" r="1.1"/><circle cx="238.8" cy="154.9" r="1.1"/><circle cx="322.2" cy="54.4" r="1.1"/><circle cx="285" cy="105.7" r="1.1"/><circle cx="113.6" cy="231.3" r="1.1"/><circle cx="239.8" cy="121.7" r="1.1"/><circle cx="266.3" cy="54.4" r="1.1"/><circle cx="171.8" cy="180.7" r="1.1"/><circle cx="145.8" cy="232.4" r="1.1"/><circle cx="144.1" cy="226.3" r="1.1"/><circle cx="202.6" cy="88.3" r="1.1"/><circle cx="279" cy="115.5" r="1.1"/><circle cx="277.1" cy="55.3" r="1.1"/><circle cx="158" cy="205.7" r="1.1"/><circle cx="319.3" cy="70.4" r="1.1"/><circle cx="170" cy="201.1" r="1.1"/><circle cx="216.6" cy="169.6" r="1.1"/><circle cx="284.3" cy="90.2" r="1.1"/><circle cx="246" cy="105.6" r="1.1"/><circle cx="303" cy="92" r="1.1"/><circle cx="261" cy="86.8" r="1.1"/><circle cx="195.5" cy="99.6" r="1.1"/><circle cx="139" cy="229" r="1.1"/><circle cx="206.8" cy="122" r="1.1"/><circle cx="151.2" cy="123.6" r="1.1"/><circle cx="223.7" cy="165.4" r="1.1"/><circle cx="94.8" cy="229.2" r="1.1"/><circle cx="195.6" cy="169.5" r="1.1"/><circle cx="158.5" cy="199.3" r="1.1"/><circle cx="219.5" cy="98" r="1.1"/><circle cx="163.6" cy="174.5" r="1.1"/><circle cx="243.9" cy="150.9" r="1.1"/><circle cx="192" cy="172.5" r="1.1"/><circle cx="239.2" cy="153.1" r="1.1"/><circle cx="247.2" cy="119.7" r="1.1"/><circle cx="193.6" cy="140" r="1.1"/><circle cx="188.4" cy="200.3" r="1.1"/><circle cx="143.8" cy="194.5" r="1.1"/><circle cx="182.6" cy="178.7" r="1.1"/><circle cx="316.1" cy="54.4" r="1.1"/><circle cx="158.7" cy="233.9" r="1.1"/><circle cx="154" cy="170.7" r="1.1"/><circle cx="148.9" cy="231.2" r="1.1"/><circle cx="252.8" cy="137.1" r="1.1"/><circle cx="196.2" cy="160.5" r="1.1"/><circle cx="130.8" cy="227.3" r="1.1"/><circle cx="267.6" cy="237.1" r="1.1"/><circle cx="301.1" cy="199.6" r="1.1"/><circle cx="290.4" cy="195.8" r="1.1"/><circle cx="335.8" cy="201" r="1.1"/><circle cx="210.5" cy="256" r="1.1"/><circle cx="350.6" cy="201.1" r="1.1"/><circle cx="318.6" cy="171.4" r="1.1"/><circle cx="367" cy="178.8" r="1.1"/><circle cx="269" cy="188.9" r="1.1"/><circle cx="352.9" cy="156.4" r="1.1"/><circle cx="364.6" cy="105.2" r="1.1"/><circle cx="312.5" cy="181.6" r="1.1"/><circle cx="364.3" cy="98.6" r="1.1"/><circle cx="211.7" cy="254.9" r="1.1"/><circle cx="382.4" cy="86.1" r="1.1"/><circle cx="222.3" cy="274.9" r="1.1"/><circle cx="209.8" cy="281.3" r="1.1"/><circle cx="314.7" cy="144.5" r="1.1"/><circle cx="334.9" cy="152.5" r="1.1"/><circle cx="243.1" cy="291.7" r="1.1"/><circle cx="376.9" cy="246.4" r="1.1"/><circle cx="324.4" cy="226.3" r="1.1"/><circle cx="332.7" cy="130" r="1.1"/><circle cx="315.2" cy="144.8" r="1.1"/><circle cx="359.3" cy="54.4" r="1.1"/><circle cx="328.9" cy="54.4" r="1.1"/><circle cx="308.6" cy="54.4" r="1.1"/><circle cx="236.1" cy="54.4" r="1.1"/><circle cx="333.3" cy="54.4" r="1.1"/><circle cx="225.6" cy="54.4" r="1.1"/><circle cx="300.6" cy="54.4" r="1.1"/><circle cx="328.2" cy="54.4" r="1.1"/><circle cx="309.6" cy="54.4" r="1.1"/><circle cx="328.6" cy="54.4" r="1.1"/><circle cx="302.9" cy="54.4" r="1.1"/><circle cx="295.4" cy="54.4" r="1.1"/><circle cx="248.6" cy="54.4" r="1.1"/><circle cx="346.9" cy="54.4" r="1.1"/><circle cx="261.8" cy="54.4" r="1.1"/><circle cx="367.8" cy="68.6" r="1.1"/><circle cx="367.8" cy="55.2" r="1.1"/><circle cx="367.8" cy="63.9" r="1.1"/><circle cx="367.8" cy="86.2" r="1.1"/><circle cx="367.8" cy="62.8" r="1.1"/><circle cx="367.8" cy="105.5" r="1.1"/><circle cx="173.1" cy="316.7" r="1.1"/><circle cx="186.6" cy="317.9" r="1.1"/><circle cx="150.1" cy="333.1" r="1.1"/><circle cx="145.4" cy="340.6" r="1.1"/><circle cx="134.9" cy="344.2" r="1.1"/><circle cx="137.3" cy="348" r="1.1"/><circle cx="129.5" cy="358.5" r="1.1"/><circle cx="153.1" cy="351.6" r="1.1"/><circle cx="146.6" cy="361.5" r="1.1"/><circle cx="212.5" cy="282" r="1.1"/><circle cx="234.6" cy="292.5" r="1.1"/><circle cx="216.1" cy="298.8" r="1.1"/><circle cx="245.4" cy="312.2" r="1.1"/><circle cx="295.5" cy="233.6" r="1.1"/><circle cx="259" cy="259.5" r="1.1"/><circle cx="293" cy="270.3" r="1.1"/><circle cx="161.9" cy="127.8" r="1.1"/><circle cx="169.4" cy="104" r="1.1"/><circle cx="90" cy="151" r="1.1"/><circle cx="27" cy="133" r="1.1"/><circle cx="188" cy="72" r="1.1"/><circle cx="108" cy="93" r="1.1"/></g>
<g fill="#ebebeb" stroke="#c2c2c2" stroke-width="0.65"><circle cx="294.2" cy="124.2" r="1.1"/><circle cx="230.2" cy="194.8" r="1.1"/><circle cx="364.1" cy="61.1" r="1.1"/><circle cx="262.6" cy="157.9" r="1.1"/><circle cx="334" cy="92.4" r="1.1"/><circle cx="227.9" cy="184.6" r="1.1"/><circle cx="269" cy="149.6" r="1.1"/><circle cx="255" cy="165.2" r="1.1"/><circle cx="354.2" cy="65.6" r="1.1"/><circle cx="354.7" cy="66.6" r="1.1"/><circle cx="272.8" cy="151" r="1.1"/><circle cx="355.9" cy="69.7" r="1.1"/><circle cx="290.2" cy="128.1" r="1.1"/><circle cx="268.9" cy="156.2" r="1.1"/><circle cx="258.1" cy="163.1" r="1.1"/><circle cx="265" cy="158.8" r="1.1"/><circle cx="300.1" cy="126.1" r="1.1"/><circle cx="358.6" cy="64.9" r="1.1"/><circle cx="234.6" cy="183.6" r="1.1"/><circle cx="297" cy="129.4" r="1.1"/><circle cx="302.7" cy="122.5" r="1.1"/><circle cx="203.4" cy="218" r="1.1"/><circle cx="261.8" cy="161.1" r="1.1"/><circle cx="268.5" cy="152.3" r="1.1"/><circle cx="294.2" cy="129.4" r="1.1"/><circle cx="262.2" cy="157.1" r="1.1"/><circle cx="249.4" cy="176.3" r="1.1"/><circle cx="308" cy="107.2" r="1.1"/><circle cx="338.8" cy="87.2" r="1.1"/><circle cx="324.3" cy="96.1" r="1.1"/><circle cx="228.2" cy="201.9" r="1.1"/><circle cx="233.6" cy="190.2" r="1.1"/><circle cx="212.5" cy="205.2" r="1.1"/><circle cx="340.2" cy="81.9" r="1.1"/><circle cx="359.3" cy="64.4" r="1.1"/><circle cx="341.2" cy="82.1" r="1.1"/><circle cx="317.5" cy="107.1" r="1.1"/><circle cx="301.4" cy="112.1" r="1.1"/><circle cx="279.2" cy="141" r="1.1"/><circle cx="359.2" cy="57" r="1.1"/><circle cx="327" cy="89.5" r="1.1"/><circle cx="302.7" cy="114.5" r="1.1"/><circle cx="222" cy="203.5" r="1.1"/><circle cx="257" cy="163.3" r="1.1"/><circle cx="263" cy="158.2" r="1.1"/><circle cx="355.4" cy="73.1" r="1.1"/><circle cx="276.3" cy="149.6" r="1.1"/><circle cx="334.9" cy="90.8" r="1.1"/><circle cx="342.4" cy="82.3" r="1.1"/><circle cx="229.3" cy="189" r="1.1"/><circle cx="359.3" cy="66.2" r="1.1"/><circle cx="236.5" cy="192.9" r="1.1"/><circle cx="224.9" cy="189.1" r="1.1"/><circle cx="250.8" cy="168.2" r="1.1"/><circle cx="346.7" cy="77.1" r="1.1"/><circle cx="346.4" cy="68.7" r="1.1"/><circle cx="244.2" cy="175.8" r="1.1"/><circle cx="307.1" cy="118.2" r="1.1"/><circle cx="309.6" cy="109.4" r="1.1"/><circle cx="238" cy="191.5" r="1.1"/><circle cx="291" cy="130.3" r="1.1"/><circle cx="218.4" cy="204.6" r="1.1"/><circle cx="251" cy="175.4" r="1.1"/><circle cx="299.6" cy="117.8" r="1.1"/><circle cx="344" cy="79.7" r="1.1"/><circle cx="260.9" cy="159.4" r="1.1"/><circle cx="294.5" cy="125.5" r="1.1"/><circle cx="349.8" cy="72.7" r="1.1"/><circle cx="298.4" cy="126.1" r="1.1"/><circle cx="346.1" cy="80.6" r="1.1"/><circle cx="265.7" cy="154.5" r="1.1"/><circle cx="342" cy="82.4" r="1.1"/><circle cx="305.2" cy="119.6" r="1.1"/><circle cx="314.2" cy="107.3" r="1.1"/><circle cx="217.9" cy="208" r="1.1"/><circle cx="334.3" cy="84.4" r="1.1"/><circle cx="270" cy="150.3" r="1.1"/><circle cx="327.1" cy="97.1" r="1.1"/><circle cx="260.8" cy="166.3" r="1.1"/><circle cx="253.3" cy="165" r="1.1"/><circle cx="322.4" cy="94.8" r="1.1"/><circle cx="283.1" cy="140.4" r="1.1"/><circle cx="261.1" cy="163.2" r="1.1"/><circle cx="217.8" cy="205.9" r="1.1"/><circle cx="330.3" cy="97" r="1.1"/><circle cx="299.1" cy="126" r="1.1"/><circle cx="354.1" cy="61.4" r="1.1"/><circle cx="342.8" cy="86.8" r="1.1"/><circle cx="313.6" cy="110.8" r="1.1"/><circle cx="305.9" cy="119.3" r="1.1"/><circle cx="268.8" cy="155.7" r="1.1"/><circle cx="315.4" cy="98.1" r="1.1"/><circle cx="294.2" cy="130.4" r="1.1"/><circle cx="357" cy="61.8" r="1.1"/><circle cx="227.6" cy="190.3" r="1.1"/><circle cx="287.5" cy="132.2" r="1.1"/><circle cx="290.1" cy="143.3" r="1.1"/><circle cx="204.7" cy="219" r="1.1"/><circle cx="333.5" cy="87.5" r="1.1"/><circle cx="232.8" cy="185.8" r="1.1"/><circle cx="351.2" cy="69.7" r="1.1"/><circle cx="301.8" cy="130.2" r="1.1"/><circle cx="216.3" cy="208.6" r="1.1"/><circle cx="281.2" cy="135.7" r="1.1"/><circle cx="345.8" cy="84.2" r="1.1"/><circle cx="328" cy="87.8" r="1.1"/><circle cx="328.2" cy="99.2" r="1.1"/><circle cx="226.6" cy="201.1" r="1.1"/><circle cx="328" cy="93.6" r="1.1"/><circle cx="327.5" cy="94.1" r="1.1"/><circle cx="264.5" cy="149.2" r="1.1"/><circle cx="321.1" cy="94.5" r="1.1"/><circle cx="308" cy="113.8" r="1.1"/><circle cx="319.3" cy="107.2" r="1.1"/><circle cx="293.3" cy="130.2" r="1.1"/><circle cx="273" cy="155.9" r="1.1"/><circle cx="280.5" cy="140.5" r="1.1"/><circle cx="345.7" cy="76.2" r="1.1"/><circle cx="207.5" cy="209.7" r="1.1"/><circle cx="278.8" cy="142.2" r="1.1"/><circle cx="297.3" cy="129.7" r="1.1"/><circle cx="294.5" cy="122.3" r="1.1"/><circle cx="273.5" cy="154.9" r="1.1"/><circle cx="251.3" cy="172.5" r="1.1"/><circle cx="307.2" cy="110.1" r="1.1"/><circle cx="301.5" cy="112.1" r="1.1"/><circle cx="227.2" cy="197.4" r="1.1"/><circle cx="259.6" cy="166.7" r="1.1"/><circle cx="265.1" cy="155.3" r="1.1"/><circle cx="237.2" cy="182.9" r="1.1"/><circle cx="296.8" cy="119" r="1.1"/><circle cx="296" cy="90.6" r="1.1"/><circle cx="241.5" cy="157" r="1.1"/><circle cx="247.2" cy="124.1" r="1.1"/><circle cx="281.9" cy="127.3" r="1.1"/><circle cx="372.6" cy="62.3" r="1.1"/><circle cx="321.9" cy="87.8" r="1.1"/><circle cx="278.1" cy="133.6" r="1.1"/><circle cx="305.6" cy="120.1" r="1.1"/><circle cx="296.5" cy="117.5" r="1.1"/><circle cx="260.5" cy="145.6" r="1.1"/><circle cx="239.8" cy="177.7" r="1.1"/><circle cx="290.7" cy="93.2" r="1.1"/><circle cx="262.3" cy="138.2" r="1.1"/><circle cx="283.4" cy="116.7" r="1.1"/><circle cx="266.3" cy="180.4" r="1.1"/><circle cx="260.1" cy="171.1" r="1.1"/><circle cx="215" cy="167.2" r="1.1"/><circle cx="244.7" cy="170.2" r="1.1"/><circle cx="221.2" cy="222.3" r="1.1"/><circle cx="271.5" cy="173.8" r="1.1"/><circle cx="240.8" cy="213.1" r="1.1"/><circle cx="223.5" cy="208.3" r="1.1"/><circle cx="269.9" cy="170.8" r="1.1"/><circle cx="274.9" cy="140.9" r="1.1"/><circle cx="270.6" cy="151.9" r="1.1"/><circle cx="227" cy="187" r="1.1"/><circle cx="256.6" cy="154.5" r="1.1"/><circle cx="268.9" cy="128.1" r="1.1"/><circle cx="319.1" cy="79" r="1.1"/><circle cx="330.1" cy="103.9" r="1.1"/><circle cx="202.2" cy="203.8" r="1.1"/><circle cx="347.8" cy="91.3" r="1.1"/><circle cx="292.5" cy="127.2" r="1.1"/><circle cx="282" cy="130.6" r="1.1"/><circle cx="290.7" cy="96.1" r="1.1"/><circle cx="279.2" cy="97.3" r="1.1"/><circle cx="231.8" cy="216.3" r="1.1"/><circle cx="287.3" cy="134.2" r="1.1"/><circle cx="210.1" cy="176.5" r="1.1"/><circle cx="163.1" cy="202.7" r="1.1"/><circle cx="212.8" cy="191.3" r="1.1"/><circle cx="294.8" cy="127.3" r="1.1"/><circle cx="276.4" cy="119.2" r="1.1"/><circle cx="324.6" cy="142.6" r="1.1"/><circle cx="293.1" cy="122.8" r="1.1"/><circle cx="270.7" cy="156.5" r="1.1"/><circle cx="299" cy="122.8" r="1.1"/><circle cx="316.1" cy="54.4" r="1.1"/><circle cx="240.8" cy="167.9" r="1.1"/><circle cx="239.2" cy="140.5" r="1.1"/><circle cx="242.9" cy="158.1" r="1.1"/><circle cx="285.4" cy="127.7" r="1.1"/><circle cx="221.6" cy="211" r="1.1"/><circle cx="281.2" cy="129.4" r="1.1"/><circle cx="255.9" cy="140.3" r="1.1"/><circle cx="261.6" cy="103.8" r="1.1"/><circle cx="253.9" cy="172" r="1.1"/><circle cx="229.1" cy="174.9" r="1.1"/><circle cx="254.7" cy="188.1" r="1.1"/><circle cx="268.7" cy="165.8" r="1.1"/><circle cx="322.3" cy="117.6" r="1.1"/><circle cx="298.4" cy="111.1" r="1.1"/><circle cx="312.7" cy="128.6" r="1.1"/><circle cx="320.5" cy="91.4" r="1.1"/><circle cx="341.7" cy="108.2" r="1.1"/><circle cx="306.2" cy="90.3" r="1.1"/><circle cx="311" cy="83.1" r="1.1"/><circle cx="302.5" cy="142.8" r="1.1"/><circle cx="194.6" cy="187.4" r="1.1"/><circle cx="292.8" cy="142.8" r="1.1"/><circle cx="277.6" cy="156.7" r="1.1"/><circle cx="313.7" cy="94.4" r="1.1"/><circle cx="285.1" cy="106.5" r="1.1"/><circle cx="247.3" cy="161" r="1.1"/><circle cx="339.5" cy="78.2" r="1.1"/><circle cx="194.6" cy="222.9" r="1.1"/><circle cx="182.1" cy="192.9" r="1.1"/><circle cx="105.9" cy="233.5" r="1.1"/><circle cx="335.5" cy="56.4" r="1.1"/><circle cx="206.8" cy="101" r="1.1"/><circle cx="316.7" cy="54.4" r="1.1"/><circle cx="246.7" cy="93" r="1.1"/><circle cx="326" cy="54.4" r="1.1"/><circle cx="98.5" cy="209.3" r="1.1"/><circle cx="217.6" cy="175.7" r="1.1"/><circle cx="226.2" cy="117.8" r="1.1"/><circle cx="214.8" cy="151" r="1.1"/><circle cx="231" cy="54.4" r="1.1"/><circle cx="323.8" cy="66.4" r="1.1"/><circle cx="172.4" cy="162.5" r="1.1"/><circle cx="173.3" cy="158" r="1.1"/><circle cx="116.6" cy="95.7" r="1.1"/><circle cx="315.6" cy="76.8" r="1.1"/><circle cx="205.3" cy="187" r="1.1"/><circle cx="317.2" cy="59.1" r="1.1"/><circle cx="119.4" cy="54.4" r="1.1"/><circle cx="248.8" cy="83" r="1.1"/><circle cx="199.5" cy="159.1" r="1.1"/><circle cx="238.8" cy="115.9" r="1.1"/><circle cx="230.5" cy="111.5" r="1.1"/><circle cx="239.2" cy="134.7" r="1.1"/><circle cx="201.8" cy="171.6" r="1.1"/><circle cx="308.3" cy="69" r="1.1"/><circle cx="175.2" cy="108.3" r="1.1"/><circle cx="234.8" cy="160.3" r="1.1"/><circle cx="209.6" cy="156.4" r="1.1"/><circle cx="361.1" cy="54.4" r="1.1"/><circle cx="295.1" cy="74.8" r="1.1"/><circle cx="332.1" cy="54.4" r="1.1"/><circle cx="170.4" cy="214" r="1.1"/><circle cx="331.5" cy="57.7" r="1.1"/><circle cx="370.4" cy="142.3" r="1.1"/><circle cx="328.8" cy="126.5" r="1.1"/><circle cx="295.8" cy="193.7" r="1.1"/><circle cx="230.1" cy="233.4" r="1.1"/><circle cx="383.2" cy="115" r="1.1"/><circle cx="381.9" cy="130.5" r="1.1"/><circle cx="345" cy="134.9" r="1.1"/><circle cx="202.1" cy="289.5" r="1.1"/><circle cx="345.1" cy="120.6" r="1.1"/><circle cx="382.1" cy="85" r="1.1"/><circle cx="298.7" cy="168.8" r="1.1"/><circle cx="260.5" cy="266.4" r="1.1"/><circle cx="307.3" cy="54.4" r="1.1"/><circle cx="204.4" cy="54.4" r="1.1"/><circle cx="215.8" cy="54.4" r="1.1"/><circle cx="229.1" cy="54.4" r="1.1"/><circle cx="203.2" cy="54.4" r="1.1"/><circle cx="255.5" cy="54.4" r="1.1"/><circle cx="325.9" cy="54.4" r="1.1"/><circle cx="367.8" cy="67.8" r="1.1"/><circle cx="367.8" cy="76.8" r="1.1"/><circle cx="367.8" cy="57.2" r="1.1"/><circle cx="159.1" cy="320.3" r="1.1"/><circle cx="153.1" cy="330.1" r="1.1"/><circle cx="140.3" cy="345.1" r="1.1"/><circle cx="129.9" cy="351" r="1.1"/><circle cx="163.6" cy="350.4" r="1.1"/><circle cx="223.9" cy="280" r="1.1"/><circle cx="227.5" cy="313.4" r="1.1"/><circle cx="335" cy="250.6" r="1.1"/><circle cx="308" cy="204.3" r="1.1"/><circle cx="100" cy="143" r="1.1"/><circle cx="185" cy="53" r="1.1"/></g>
</g>
<path d="M13.5 30.5H391.6V408.0" stroke="#666" stroke-width="1.1" fill="none"/>
<path d="M13.5 30.0V408.0H392.1" stroke="#333" stroke-width="1.1" fill="none"/>
<path d="M168.7 47.8L180 54.6M156.3 201.3L160.5 200.3M261.5 82.6L268.5 81.3M367 109.2L375.5 110.6M298.5 60.5L305 60.5M302.3 48.5L304 54M319 48.5L316 52M329.5 160L330.5 162" stroke="#999" stroke-width="0.7" fill="none"/>
<circle cx="75.8" cy="54.9" r="1.2" fill="#f0503c"/>
<circle cx="96.1" cy="54.9" r="1.5" fill="#999"/>
<circle cx="120.3" cy="54.9" r="1.2" fill="#f0503c"/>
<circle cx="138.5" cy="54.9" r="1.2" fill="#f0503c"/>
<circle cx="154.3" cy="54.2" r="1.5" fill="#111"/>
<circle cx="180" cy="54.9" r="1.2" fill="#f0503c"/>
<circle cx="182.9" cy="54.9" r="1.2" fill="#f0503c"/>
<circle cx="186.9" cy="54.6" r="1.5" fill="#111"/>
<circle cx="133.4" cy="73.1" r="1.5" fill="#1a7fc6"/>
<circle cx="100.6" cy="84.5" r="1.5" fill="#111"/>
<circle cx="88.4" cy="101.8" r="1.5" fill="#1a7fc6"/>
<circle cx="90.1" cy="110.7" r="1.2" fill="#f0503c"/>
<circle cx="159.3" cy="109.5" r="1.5" fill="#111"/>
<circle cx="175.8" cy="109.9" r="1.5" fill="#111"/>
<circle cx="180.9" cy="111.4" r="1.5" fill="#111"/>
<circle cx="171.3" cy="114.4" r="1.5" fill="#1a7fc6"/>
<circle cx="154.3" cy="126.3" r="1.5" fill="#111"/>
<circle cx="97.3" cy="134.9" r="1.5" fill="#111"/>
<circle cx="126.9" cy="129.2" r="1.5" fill="#111"/>
<circle cx="158.5" cy="137.2" r="1.5" fill="#111"/>
<circle cx="172.2" cy="137.5" r="1.5" fill="#111"/>
<circle cx="169" cy="139" r="1.5" fill="#111"/>
<circle cx="178.2" cy="145.7" r="1.5" fill="#111"/>
<circle cx="109.9" cy="143.2" r="1.5" fill="#111"/>
<circle cx="137.9" cy="146.9" r="1.5" fill="#111"/>
<circle cx="160.3" cy="148.3" r="1.5" fill="#111"/>
<circle cx="161.8" cy="151.3" r="1.5" fill="#111"/>
<circle cx="159.6" cy="156.3" r="1.5" fill="#111"/>
<circle cx="143.3" cy="158.1" r="1.5" fill="#1a7fc6"/>
<circle cx="177.6" cy="161.7" r="1.5" fill="#111"/>
<circle cx="177" cy="180.4" r="1.5" fill="#111"/>
<circle cx="145.4" cy="204.6" r="1.5" fill="#111"/>
<circle cx="161.2" cy="200.1" r="1.5" fill="#111"/>
<circle cx="146.3" cy="215.1" r="1.5" fill="#111"/>
<circle cx="93.4" cy="214.2" r="1.5" fill="#111"/>
<circle cx="214.9" cy="54.6" r="1.5" fill="#111"/>
<circle cx="244.8" cy="54.6" r="1.5" fill="#111"/>
<circle cx="293.1" cy="54.9" r="1.5" fill="#111"/>
<circle cx="297.9" cy="54.9" r="1.5" fill="#111"/>
<circle cx="303.6" cy="54.6" r="1.5" fill="#111"/>
<circle cx="307.5" cy="54.6" r="1.5" fill="#111"/>
<circle cx="275.5" cy="65.1" r="1.5" fill="#111"/>
<circle cx="288.7" cy="69" r="1.5" fill="#111"/>
<circle cx="269.3" cy="81.2" r="1.5" fill="#111"/>
<circle cx="214.3" cy="94" r="1.5" fill="#111"/>
<circle cx="366" cy="109" r="1.5" fill="#111"/>
<circle cx="366" cy="151.5" r="1.5" fill="#111"/>
<circle cx="328.7" cy="158.7" r="1.5" fill="#111"/>
<circle cx="328" cy="173" r="1.5" fill="#111"/>
<circle cx="273.4" cy="210.6" r="1.5" fill="#111"/>
<circle cx="228.4" cy="247.6" r="1.5" fill="#111"/>
<circle cx="237.6" cy="250.9" r="1.5" fill="#111"/>
<circle cx="252.5" cy="260.7" r="1.5" fill="#111"/>
<text x="64.2" y="58.9" font-size="4.7" fill="#f0503c" textLength="8.8" lengthAdjust="spacingAndGlyphs" stroke="#f0503c" stroke-width="0.12">NS3</text>
<text x="80.6" y="51.8" font-size="4.7" fill="#f0503c" textLength="21.8" lengthAdjust="spacingAndGlyphs" stroke="#f0503c" stroke-width="0.12">Envelope</text>
<text x="109" y="61.6" font-size="4.7" fill="#f0503c" textLength="12.5" lengthAdjust="spacingAndGlyphs" stroke="#f0503c" stroke-width="0.12">NS4A</text>
<text x="129" y="52.4" font-size="4.7" fill="#f0503c" textLength="9.5" lengthAdjust="spacingAndGlyphs" stroke="#f0503c" stroke-width="0.12">NS1</text>
<text x="149.9" y="60" font-size="4.7" fill="#000" textLength="9.8" lengthAdjust="spacingAndGlyphs" stroke="#000" stroke-width="0.12">TPI1</text>
<text x="156.4" y="46.4" font-size="4.7" fill="#f0503c" textLength="12" lengthAdjust="spacingAndGlyphs" stroke="#f0503c" stroke-width="0.12">NS4B</text>
<text x="173.7" y="65.2" font-size="4.7" fill="#f0503c" textLength="9" lengthAdjust="spacingAndGlyphs" stroke="#f0503c" stroke-width="0.12">prM</text>
<text x="184.5" y="50.9" font-size="4.7" fill="#000" textLength="20" lengthAdjust="spacingAndGlyphs" stroke="#000" stroke-width="0.12">TMSB4X</text>
<text x="128.4" y="79.6" font-size="4.7" fill="#1a7fc6" textLength="19.4" lengthAdjust="spacingAndGlyphs" stroke="#1a7fc6" stroke-width="0.12">TXNRD1</text>
<text x="89" y="89.9" font-size="4.7" fill="#000" textLength="13.4" lengthAdjust="spacingAndGlyphs" stroke="#000" stroke-width="0.12">PTMA</text>
<text x="67.8" y="104.4" font-size="4.7" fill="#1a7fc6" textLength="18.2" lengthAdjust="spacingAndGlyphs" stroke="#1a7fc6" stroke-width="0.12">AKR1C3</text>
<text x="82.7" y="117.2" font-size="4.7" fill="#f0503c" textLength="13.1" lengthAdjust="spacingAndGlyphs" stroke="#f0503c" stroke-width="0.12">Capsid</text>
<text x="139.3" y="112.1" font-size="4.7" fill="#000" textLength="17.1" lengthAdjust="spacingAndGlyphs" stroke="#000" stroke-width="0.12">AKR1C2</text>
<text x="176.1" y="106.8" font-size="4.7" fill="#000" textLength="16.7" lengthAdjust="spacingAndGlyphs" stroke="#000" stroke-width="0.12">ALDOA</text>
<text x="178.8" y="118.8" font-size="4.7" fill="#000" textLength="12.2" lengthAdjust="spacingAndGlyphs" stroke="#000" stroke-width="0.12">ENO1</text>
<text x="159.3" y="120.2" font-size="4.7" fill="#1a7fc6" textLength="12.6" lengthAdjust="spacingAndGlyphs" stroke="#1a7fc6" stroke-width="0.12">AHCY</text>
<text x="135.2" y="125.5" font-size="4.7" fill="#000" textLength="16.7" lengthAdjust="spacingAndGlyphs" stroke="#000" stroke-width="0.12">S100A6</text>
<text x="82.7" y="131" font-size="4.7" fill="#000" textLength="15.8" lengthAdjust="spacingAndGlyphs" stroke="#000" stroke-width="0.12">PSMB7</text>
<text x="114.9" y="136" font-size="4.7" fill="#000" textLength="21.4" lengthAdjust="spacingAndGlyphs" stroke="#000" stroke-width="0.12">ALDH3A1</text>
<text x="141.8" y="140.7" font-size="4.7" fill="#000" textLength="14.2" lengthAdjust="spacingAndGlyphs" stroke="#000" stroke-width="0.12">LASP1</text>
<text x="176.1" y="137.7" font-size="4.7" fill="#000" textLength="10.9" lengthAdjust="spacingAndGlyphs" stroke="#000" stroke-width="0.12">PGD</text>
<text x="159.3" y="144.5" font-size="4.7" fill="#000" textLength="16.8" lengthAdjust="spacingAndGlyphs" stroke="#000" stroke-width="0.12">GAPDH</text>
<text x="180.9" y="145.5" font-size="4.7" fill="#000" textLength="9.7" lengthAdjust="spacingAndGlyphs" stroke="#000" stroke-width="0.12">RAN</text>
<text x="102.7" y="149.3" font-size="4.7" fill="#000" textLength="21.2" lengthAdjust="spacingAndGlyphs" stroke="#000" stroke-width="0.12">ARHGDIA</text>
<text x="134.6" y="153.1" font-size="4.7" fill="#000" textLength="9.4" lengthAdjust="spacingAndGlyphs" stroke="#000" stroke-width="0.12">TXN</text>
<text x="144.8" y="149.2" font-size="4.7" fill="#000" textLength="13.1" lengthAdjust="spacingAndGlyphs" stroke="#000" stroke-width="0.12">NME1</text>
<text x="163.3" y="155.3" font-size="4.7" fill="#000" textLength="12.4" lengthAdjust="spacingAndGlyphs" stroke="#000" stroke-width="0.12">SOD1</text>
<text x="154.5" y="161.8" font-size="4.7" fill="#000" textLength="17.1" lengthAdjust="spacingAndGlyphs" stroke="#000" stroke-width="0.12">YWHAE</text>
<text x="134.3" y="164.6" font-size="4.7" fill="#1a7fc6" textLength="14.7" lengthAdjust="spacingAndGlyphs" stroke="#1a7fc6" stroke-width="0.12">BLVRB</text>
<text x="173.1" y="167.7" font-size="4.7" fill="#000" textLength="17.2" lengthAdjust="spacingAndGlyphs" stroke="#000" stroke-width="0.12">YWHAZ</text>
<text x="156.1" y="183.8" font-size="4.7" fill="#000" textLength="17" lengthAdjust="spacingAndGlyphs" stroke="#000" stroke-width="0.12">YWHAB</text>
<text x="120" y="205.3" font-size="4.7" fill="#000" textLength="20.9" lengthAdjust="spacingAndGlyphs" stroke="#000" stroke-width="0.12">ALDH1A1</text>
<text x="148.4" y="203" font-size="4.7" fill="#000" textLength="7.7" lengthAdjust="spacingAndGlyphs" stroke="#000" stroke-width="0.12">JUP</text>
<text x="141.8" y="219.5" font-size="4.7" fill="#000" textLength="8.9" lengthAdjust="spacingAndGlyphs" stroke="#000" stroke-width="0.12">EZR</text>
<text x="78.2" y="222.1" font-size="4.7" fill="#000" textLength="13.4" lengthAdjust="spacingAndGlyphs" stroke="#000" stroke-width="0.12">PGK1...</text>
<text x="208" y="51.5" font-size="4.7" fill="#000" textLength="23.3" lengthAdjust="spacingAndGlyphs" stroke="#000" stroke-width="0.12">AKR1B10...</text>
<text x="240.9" y="63.8" font-size="4.7" fill="#000" textLength="17.3" lengthAdjust="spacingAndGlyphs" stroke="#000" stroke-width="0.12">AKR1B1</text>
<text x="274.6" y="54.8" font-size="4.7" fill="#000" textLength="12.6" lengthAdjust="spacingAndGlyphs" stroke="#000" stroke-width="0.12">IMMT</text>
<text x="289.6" y="48.9" font-size="4.7" fill="#000" textLength="12.5" lengthAdjust="spacingAndGlyphs" stroke="#000" stroke-width="0.12">PHB2</text>
<text x="303.9" y="50.9" font-size="4.7" fill="#000" textLength="15.5" lengthAdjust="spacingAndGlyphs" stroke="#000" stroke-width="0.12">HSPA9</text>
<text x="263.3" y="62.9" font-size="4.7" fill="#000" textLength="14.9" lengthAdjust="spacingAndGlyphs" stroke="#000" stroke-width="0.12">RAB21</text>
<text x="278.5" y="61.4" font-size="4.7" fill="#000" textLength="20" lengthAdjust="spacingAndGlyphs" stroke="#000" stroke-width="0.12">LRPPRC...</text>
<text x="267.2" y="70.4" font-size="4.7" fill="#000" textLength="20.3" lengthAdjust="spacingAndGlyphs" stroke="#000" stroke-width="0.12">ATP5F1A</text>
<text x="244.2" y="84.4" font-size="4.7" fill="#000" textLength="17" lengthAdjust="spacingAndGlyphs" stroke="#000" stroke-width="0.12">ATP5PB</text>
<text x="211.3" y="99.6" font-size="4.7" fill="#000" textLength="10.5" lengthAdjust="spacingAndGlyphs" stroke="#000" stroke-width="0.12">PPIA</text>
<text x="376.1" y="112.1" font-size="4.7" fill="#000" textLength="10.5" lengthAdjust="spacingAndGlyphs" stroke="#000" stroke-width="0.12">PPIB</text>
<text x="362.7" y="158.2" font-size="4.7" fill="#000" textLength="14.9" lengthAdjust="spacingAndGlyphs" stroke="#000" stroke-width="0.12">FKBP2</text>
<text x="329.9" y="166" font-size="4.7" fill="#000" textLength="9.5" lengthAdjust="spacingAndGlyphs" stroke="#000" stroke-width="0.12">SCD</text>
<text x="322.4" y="179.2" font-size="4.7" fill="#000" textLength="22.4" lengthAdjust="spacingAndGlyphs" stroke="#000" stroke-width="0.12">SERPINH1</text>
<text x="270.7" y="216.8" font-size="4.7" fill="#000" textLength="18" lengthAdjust="spacingAndGlyphs" stroke="#000" stroke-width="0.12">LRPAP1</text>
<text x="213.4" y="250.8" font-size="4.7" fill="#000" textLength="12" lengthAdjust="spacingAndGlyphs" stroke="#000" stroke-width="0.12">CD44</text>
<text x="237.3" y="256.1" font-size="4.7" fill="#000" textLength="14" lengthAdjust="spacingAndGlyphs" stroke="#000" stroke-width="0.12">STOM</text>
<text x="236.7" y="266.2" font-size="4.7" fill="#000" textLength="17.9" lengthAdjust="spacingAndGlyphs" stroke="#000" stroke-width="0.12">ATP1B1</text>
<circle cx="323.3" cy="66" r="1.25" fill="#f7b5a8" stroke="#ee5a40" stroke-width="0.8"/>
<circle cx="368" cy="55.3" r="1.3" fill="#9fd0a8" stroke="#2f9e48" stroke-width="0.8"/>
<text x="372.9" y="55.7" font-size="7.2" fill="#2f9e48" textLength="13.2" lengthAdjust="spacingAndGlyphs">CNX</text>
<text x="94.5" y="414.3" font-size="4" fill="#555" text-anchor="middle">0</text>
<text x="11.6" y="329.1" font-size="4" fill="#555" text-anchor="end">0</text>
<text x="203.8" y="414.3" font-size="4" fill="#555" text-anchor="middle">2</text>
<text x="11.6" y="219.8" font-size="4" fill="#555" text-anchor="end">2</text>
<text x="313.1" y="414.3" font-size="4" fill="#555" text-anchor="middle">4</text>
<text x="11.6" y="110.5" font-size="4" fill="#555" text-anchor="end">4</text>
<text x="138.8" y="418.7" font-size="6.6" fill="#000" textLength="157.3" lengthAdjust="spacingAndGlyphs">AP-CNX, Mock infected; log<tspan font-size="4" dy="1">2</tspan><tspan dy="-1"> </tspan><tspan font-style="italic">(fold change vs control)</tspan></text>
<text x="0" y="0" font-size="6.6" fill="#000" textLength="160" lengthAdjust="spacingAndGlyphs" transform="translate(7.4 269) rotate(-90)">AP-CNX, ZIKV infected; log<tspan font-size="4" dy="1">2</tspan><tspan dy="-1"> </tspan><tspan font-style="italic">(fold change vs control)</tspan></text></g>
<g id="pb"><text x="447.2" y="9" font-size="13.2" fill="#000" font-weight="bold">b</text>
<rect x="517.6" y="35.3" width="19.1" height="142.8" fill="#3a3a3a" stroke="#000" stroke-width="1.2"/>
<rect x="548.1" y="94.4" width="19.4" height="83.7" fill="#3a3a3a" stroke="#000" stroke-width="1.2"/>
<rect x="578.5" y="130.6" width="19.5" height="47.5" fill="#3a3a3a" stroke="#000" stroke-width="1.2"/>
<rect x="609" y="130.6" width="19.4" height="47.5" fill="#3a3a3a" stroke="#000" stroke-width="1.2"/>
<rect x="639.5" y="142.8" width="19.4" height="35.3" fill="#3a3a3a" stroke="#000" stroke-width="1.2"/>
<path d="M506.3 16.1H669.5V178.1H506.3ZM500.6 178.1H506.3M500.6 145.7H506.3M500.6 113.3H506.3M500.6 80.9H506.3M500.6 48.5H506.3M500.6 16.1H506.3M527.2 178.1v6M557.8 178.1v6M588.2 178.1v6M618.7 178.1v6M649.2 178.1v6" stroke="#000" stroke-width="1.35" fill="none"/>
<text x="498.3" y="180.7" font-size="7.2" fill="#000" text-anchor="end">0</text>
<text x="498.3" y="148.3" font-size="7.2" fill="#000" text-anchor="end">2</text>
<text x="498.3" y="115.9" font-size="7.2" fill="#000" text-anchor="end">4</text>
<text x="498.3" y="83.5" font-size="7.2" fill="#000" text-anchor="end">6</text>
<text x="498.3" y="51.1" font-size="7.2" fill="#000" text-anchor="end">8</text>
<text x="498.3" y="18.7" font-size="7.2" fill="#000" text-anchor="end">10</text>
<text x="0" y="0" font-size="7.6" fill="#000" textLength="63.5" lengthAdjust="spacingAndGlyphs" transform="translate(481.9 120.8) rotate(-90)">- log<tspan font-size="4.6" dy="1.2">10</tspan><tspan dy="-1.2"> </tspan><tspan font-style="italic">(p value)</tspan></text>
<text x="0" y="0" font-size="9" fill="#000" text-anchor="end" textLength="90.6" lengthAdjust="spacingAndGlyphs" transform="translate(530.6 191) rotate(-90)">oxidoreductase activity</text>
<text x="0" y="0" font-size="9" fill="#000" text-anchor="end" textLength="65.4" lengthAdjust="spacingAndGlyphs" transform="translate(561.1 194.6) rotate(-90)">cadherin binding</text>
<text x="0" y="0" font-size="9" fill="#000" text-anchor="end" textLength="175.2" lengthAdjust="spacingAndGlyphs" transform="translate(591.4 189) rotate(-90)">protein-disulfide reductase (NAD(P)) activity</text>
<text x="0" y="0" font-size="9" fill="#000" text-anchor="end" textLength="121.9" lengthAdjust="spacingAndGlyphs" transform="translate(622 189.8) rotate(-90)">phosphoserine residue binding</text>
<text x="0" y="0" font-size="9" fill="#000" text-anchor="end" textLength="62.7" lengthAdjust="spacingAndGlyphs" transform="translate(652.5 189.8) rotate(-90)">enzyme binding</text></g>
<g id="pc"><text x="0.9" y="453" font-size="13" fill="#000" font-weight="bold">c</text>
<path d="M7.2 481h4.7v.9h-.5l-.2 4.6-1.2 5.2h-.9l-1.2-5.2-.2-4.6h-.5z" fill="#e9f6f6" stroke="#a9cfd2" stroke-width="0.35"/>
<path d="M8.1 487h2.9l-1 4.6h-.9z" fill="#cf4f86"/>
<path d="M12 484.6l2.6-.6M12.4 489.4l2.4-1.2" stroke="#99a" stroke-width="0.35"/>
<circle cx="21.8" cy="484.3" r="7.4" fill="#fdf1f1" stroke="#777" stroke-width="0.55"/>
<rect x="16.4" y="483" width="10.5" height="2.8" fill="#e23c3f"/>
<path d="M17 484.4H26.4" stroke="#f8c6c6" stroke-width="0.9" stroke-dasharray="1 0.6"/>
<path d="M24.6 494.6Q36 497 42.5 511" stroke="#111" stroke-width="0.6" fill="none"/>
<path d="M44 514.2L40.6 511.3L44 509.8Z" fill="#111"/>
<text x="16.9" y="505.2" font-size="6.9" fill="#000" textLength="55.2" lengthAdjust="spacingAndGlyphs">siRNA transfection</text>
<text x="10.4" y="542.4" font-size="6.9" fill="#000" textLength="15.3" lengthAdjust="spacingAndGlyphs">A549</text>
<polygon points="28.4,527 37.3,541.6 71.6,530.4 71.6,534.1 37.3,545.3 28.4,530.7" fill="#48494b" stroke="#48494b" stroke-width="1" stroke-linejoin="round"/><path d="M40.3 544.7L63.6 535.7" stroke="#d8d8d8" stroke-width="0.6"/><polygon points="28.4,527 56,517.4 71.6,530.4 37.3,541.6" fill="#707174" stroke="#707174" stroke-width="1.6" stroke-linejoin="round"/><path d="M31.2 527.7L32.4 527.2L33.1 528.2L31.8 528.6ZM32.2 529.2L33.5 528.8L34.1 529.7L32.8 530.1ZM33.2 530.8L34.5 530.3L35.1 531.3L33.8 531.7ZM34.2 532.3L35.6 531.9L36.2 532.8L34.8 533.3ZM35.2 533.9L36.6 533.4L37.2 534.4L35.8 534.8ZM36.2 535.4L37.6 535.0L38.3 535.9L36.8 536.4ZM37.2 537.0L38.7 536.5L39.3 537.5L37.8 537.9ZM38.2 538.6L39.7 538.1L40.3 539.0L38.8 539.5ZM33.3 526.9L34.5 526.5L35.2 527.4L33.9 527.9ZM34.3 528.5L35.6 528.0L36.3 529.0L35.0 529.4ZM35.4 530.0L36.7 529.6L37.4 530.5L36.0 530.9ZM36.5 531.6L37.8 531.1L38.5 532.0L37.1 532.5ZM37.5 533.1L38.9 532.6L39.6 533.6L38.2 534.0ZM38.6 534.7L40.0 534.2L40.7 535.1L39.2 535.6ZM39.6 536.2L41.1 535.7L41.7 536.6L40.3 537.1ZM40.7 537.7L42.2 537.3L42.8 538.2L41.3 538.7ZM35.4 526.2L36.6 525.8L37.3 526.7L36.0 527.1ZM36.5 527.7L37.8 527.3L38.5 528.2L37.2 528.7ZM37.6 529.3L38.9 528.8L39.6 529.7L38.3 530.2ZM38.7 530.8L40.1 530.3L40.8 531.3L39.4 531.7ZM39.8 532.3L41.2 531.9L41.9 532.8L40.5 533.3ZM40.9 533.9L42.4 533.4L43.0 534.3L41.6 534.8ZM42.1 535.4L43.5 534.9L44.2 535.8L42.7 536.3ZM43.2 536.9L44.6 536.4L45.3 537.4L43.8 537.9ZM37.5 525.5L38.7 525.1L39.4 526.0L38.2 526.4ZM38.6 527.0L39.9 526.6L40.6 527.5L39.3 527.9ZM39.8 528.5L41.1 528.1L41.8 529.0L40.5 529.4ZM41.0 530.0L42.3 529.6L43.0 530.5L41.7 531.0ZM42.1 531.6L43.5 531.1L44.2 532.0L42.8 532.5ZM43.3 533.1L44.7 532.6L45.4 533.5L44.0 534.0ZM44.5 534.6L45.9 534.1L46.6 535.0L45.2 535.5ZM45.6 536.1L47.1 535.6L47.8 536.5L46.3 537.0ZM39.6 524.8L40.8 524.3L41.6 525.2L40.3 525.7ZM40.8 526.3L42.1 525.8L42.8 526.7L41.5 527.2ZM42.0 527.8L43.3 527.3L44.1 528.2L42.7 528.7ZM43.2 529.3L44.6 528.8L45.3 529.7L43.9 530.2ZM44.4 530.8L45.8 530.3L46.6 531.2L45.2 531.7ZM45.7 532.3L47.1 531.8L47.8 532.7L46.4 533.2ZM46.9 533.8L48.3 533.3L49.1 534.2L47.6 534.7ZM48.1 535.3L49.6 534.8L50.3 535.7L48.8 536.2ZM41.6 524.0L42.9 523.6L43.7 524.5L42.4 524.9ZM42.9 525.5L44.2 525.1L45.0 526.0L43.7 526.4ZM44.2 527.0L45.5 526.6L46.3 527.5L45.0 527.9ZM45.5 528.5L46.8 528.1L47.6 529.0L46.2 529.4ZM46.7 530.0L48.1 529.6L48.9 530.4L47.5 530.9ZM48.0 531.5L49.4 531.0L50.2 531.9L48.8 532.4ZM49.3 533.0L50.7 532.5L51.5 533.4L50.1 533.9ZM50.6 534.5L52.0 534.0L52.8 534.9L51.3 535.4ZM43.7 523.3L45.0 522.9L45.8 523.8L44.5 524.2ZM45.1 524.8L46.4 524.4L47.2 525.2L45.9 525.7ZM46.4 526.3L47.7 525.8L48.5 526.7L47.2 527.2ZM47.7 527.8L49.1 527.3L49.9 528.2L48.5 528.6ZM49.0 529.2L50.4 528.8L51.2 529.7L49.8 530.1ZM50.4 530.7L51.8 530.3L52.6 531.1L51.2 531.6ZM51.7 532.2L53.2 531.7L54.0 532.6L52.5 533.1ZM53.0 533.7L54.5 533.2L55.3 534.1L53.8 534.6ZM45.8 522.6L47.1 522.2L47.9 523.0L46.7 523.5ZM47.2 524.1L48.5 523.6L49.3 524.5L48.0 524.9ZM48.6 525.5L49.9 525.1L50.8 526.0L49.4 526.4ZM50.0 527.0L51.3 526.5L52.2 527.4L50.8 527.9ZM51.4 528.5L52.7 528.0L53.6 528.9L52.2 529.3ZM52.7 529.9L54.2 529.5L55.0 530.3L53.6 530.8ZM54.1 531.4L55.6 530.9L56.4 531.8L54.9 532.3ZM55.5 532.9L57.0 532.4L57.8 533.3L56.3 533.8ZM47.9 521.9L49.2 521.4L50.1 522.3L48.8 522.7ZM49.4 523.3L50.6 522.9L51.5 523.8L50.2 524.2ZM50.8 524.8L52.1 524.3L53.0 525.2L51.7 525.7ZM52.2 526.2L53.6 525.8L54.5 526.7L53.1 527.1ZM53.7 527.7L55.0 527.2L55.9 528.1L54.5 528.6ZM55.1 529.1L56.5 528.7L57.4 529.5L56.0 530.0ZM56.5 530.6L58.0 530.1L58.9 531.0L57.4 531.5ZM58.0 532.1L59.4 531.6L60.3 532.4L58.8 532.9ZM50.0 521.1L51.3 520.7L52.2 521.6L50.9 522.0ZM51.5 522.6L52.8 522.2L53.7 523.0L52.4 523.5ZM53.0 524.0L54.3 523.6L55.2 524.4L53.9 524.9ZM54.5 525.5L55.8 525.0L56.7 525.9L55.4 526.3ZM56.0 526.9L57.4 526.5L58.3 527.3L56.9 527.8ZM57.5 528.4L58.9 527.9L59.8 528.8L58.3 529.2ZM58.9 529.8L60.4 529.3L61.3 530.2L59.8 530.7ZM60.4 531.2L61.9 530.8L62.8 531.6L61.3 532.1ZM52.1 520.4L53.4 520.0L54.3 520.8L53.0 521.3ZM53.7 521.9L54.9 521.4L55.9 522.3L54.6 522.7ZM55.2 523.3L56.5 522.8L57.5 523.7L56.1 524.1ZM56.7 524.7L58.1 524.3L59.0 525.1L57.7 525.6ZM58.3 526.1L59.7 525.7L60.6 526.5L59.2 527.0ZM59.8 527.6L61.2 527.1L62.2 528.0L60.7 528.4ZM61.4 529.0L62.8 528.5L63.7 529.4L62.3 529.9ZM62.9 530.4L64.4 529.9L65.3 530.8L63.8 531.3ZM54.2 519.7L55.5 519.3L56.4 520.1L55.2 520.6ZM55.8 521.1L57.1 520.7L58.1 521.5L56.8 522.0ZM57.4 522.5L58.7 522.1L59.7 522.9L58.3 523.4ZM59.0 524.0L60.3 523.5L61.3 524.3L59.9 524.8ZM60.6 525.4L62.0 524.9L62.9 525.8L61.5 526.2ZM62.2 526.8L63.6 526.3L64.6 527.2L63.1 527.6ZM63.8 528.2L65.2 527.7L66.2 528.6L64.7 529.1ZM65.4 529.6L66.8 529.1L67.8 530.0L66.3 530.5Z" fill="#eec0bb"/>
<path d="M70.1 467.7Q79.1 467.7 79.1 474.5V547.5Q79.1 554.3 70.1 554.3" stroke="#111" stroke-width="1.5" fill="none"/>
<path d="M79.1 474.3H99" stroke="#111" stroke-width="2"/>
<path d="M106 474.3L97.2 471.0V477.6Z" fill="#111"/>
<path d="M79.1 548.1H99" stroke="#111" stroke-width="2"/>
<path d="M106 548.1L97.2 544.8000000000001V551.4Z" fill="#111"/>
<text x="86.3" y="472" font-size="6.9" fill="#000" textLength="11.1" lengthAdjust="spacingAndGlyphs">48h</text>
<text x="84" y="543" font-size="6.9" fill="#000" textLength="11.6" lengthAdjust="spacingAndGlyphs">48h</text>
<polygon points="112.2,469 122.1,484 157,472.4 157,476 122.1,487.6 112.2,472.6" fill="#48494b" stroke="#48494b" stroke-width="1" stroke-linejoin="round"/><path d="M125.1 487L149 477.6" stroke="#d8d8d8" stroke-width="0.6"/><polygon points="112.2,469 140,459.5 157,472.4 122.1,484" fill="#707174" stroke="#707174" stroke-width="1.6" stroke-linejoin="round"/><path d="M115.1 469.7L116.4 469.3L117.0 470.2L115.8 470.7ZM116.2 471.3L117.5 470.9L118.2 471.8L116.9 472.3ZM117.3 472.9L118.7 472.4L119.4 473.4L118.0 473.8ZM118.4 474.5L119.8 474.0L120.5 475.0L119.1 475.4ZM119.6 476.1L121.0 475.6L121.7 476.6L120.2 477.0ZM120.7 477.7L122.1 477.2L122.8 478.1L121.4 478.6ZM121.8 479.3L123.3 478.8L124.0 479.7L122.5 480.2ZM122.9 480.9L124.4 480.4L125.1 481.3L123.6 481.8ZM117.2 469.0L118.5 468.5L119.2 469.5L117.9 469.9ZM118.4 470.6L119.7 470.1L120.4 471.1L119.1 471.5ZM119.6 472.1L120.9 471.7L121.6 472.6L120.3 473.1ZM120.7 473.7L122.1 473.3L122.8 474.2L121.4 474.7ZM121.9 475.3L123.3 474.8L124.0 475.8L122.6 476.2ZM123.1 476.9L124.5 476.4L125.2 477.3L123.8 477.8ZM124.2 478.5L125.7 478.0L126.4 478.9L125.0 479.4ZM125.4 480.0L126.9 479.5L127.7 480.5L126.1 481.0ZM119.3 468.3L120.6 467.8L121.3 468.8L120.1 469.2ZM120.5 469.8L121.8 469.4L122.6 470.3L121.3 470.8ZM121.8 471.4L123.1 470.9L123.9 471.9L122.5 472.3ZM123.0 472.9L124.4 472.5L125.1 473.4L123.7 473.9ZM124.2 474.5L125.6 474.0L126.4 475.0L125.0 475.4ZM125.5 476.1L126.9 475.6L127.7 476.5L126.2 477.0ZM126.7 477.6L128.2 477.1L128.9 478.1L127.4 478.6ZM127.9 479.2L129.4 478.7L130.2 479.6L128.7 480.1ZM121.4 467.5L122.7 467.1L123.5 468.0L122.2 468.5ZM122.7 469.1L124.0 468.6L124.8 469.6L123.5 470.0ZM124.0 470.6L125.3 470.2L126.1 471.1L124.8 471.6ZM125.3 472.2L126.7 471.7L127.4 472.6L126.1 473.1ZM126.6 473.7L128.0 473.3L128.8 474.2L127.3 474.7ZM127.9 475.3L129.3 474.8L130.1 475.7L128.6 476.2ZM129.1 476.8L130.6 476.3L131.4 477.2L129.9 477.7ZM130.4 478.4L131.9 477.9L132.7 478.8L131.2 479.3ZM123.5 466.8L124.8 466.4L125.6 467.3L124.3 467.7ZM124.9 468.4L126.2 467.9L127.0 468.8L125.7 469.3ZM126.2 469.9L127.6 469.4L128.4 470.3L127.0 470.8ZM127.6 471.4L128.9 470.9L129.8 471.9L128.4 472.3ZM128.9 472.9L130.3 472.5L131.1 473.4L129.7 473.9ZM130.3 474.5L131.7 474.0L132.5 474.9L131.1 475.4ZM131.6 476.0L133.1 475.5L133.9 476.4L132.4 476.9ZM132.9 477.5L134.4 477.0L135.3 477.9L133.7 478.4ZM125.6 466.1L126.9 465.7L127.8 466.6L126.5 467.0ZM127.0 467.6L128.3 467.2L129.2 468.1L127.9 468.5ZM128.4 469.1L129.8 468.7L130.6 469.6L129.3 470.0ZM129.8 470.6L131.2 470.2L132.1 471.1L130.7 471.5ZM131.2 472.2L132.6 471.7L133.5 472.6L132.1 473.1ZM132.6 473.7L134.1 473.2L134.9 474.1L133.5 474.6ZM134.0 475.2L135.5 474.7L136.4 475.6L134.9 476.1ZM135.4 476.7L137.0 476.2L137.8 477.1L136.3 477.6ZM127.8 465.4L129.0 465.0L129.9 465.8L128.6 466.3ZM129.2 466.9L130.5 466.4L131.4 467.3L130.1 467.8ZM130.7 468.4L132.0 467.9L132.9 468.8L131.5 469.3ZM132.1 469.9L133.5 469.4L134.4 470.3L133.0 470.8ZM133.6 471.4L135.0 470.9L135.9 471.8L134.5 472.3ZM135.0 472.9L136.5 472.4L137.4 473.3L135.9 473.8ZM136.5 474.4L138.0 473.9L138.9 474.8L137.4 475.3ZM138.0 475.9L139.5 475.4L140.4 476.2L138.8 476.8ZM129.9 464.7L131.1 464.2L132.1 465.1L130.8 465.6ZM131.4 466.1L132.7 465.7L133.6 466.6L132.3 467.0ZM132.9 467.6L134.2 467.2L135.2 468.1L133.8 468.5ZM134.4 469.1L135.8 468.6L136.7 469.5L135.3 470.0ZM135.9 470.6L137.3 470.1L138.2 471.0L136.8 471.5ZM137.4 472.1L138.9 471.6L139.8 472.5L138.3 472.9ZM138.9 473.5L140.4 473.0L141.3 473.9L139.9 474.4ZM140.5 475.0L142.0 474.5L142.9 475.4L141.4 475.9ZM132.0 463.9L133.2 463.5L134.2 464.4L132.9 464.8ZM133.5 465.4L134.8 465.0L135.8 465.8L134.5 466.3ZM135.1 466.9L136.4 466.4L137.4 467.3L136.1 467.7ZM136.7 468.3L138.1 467.9L139.0 468.7L137.6 469.2ZM138.3 469.8L139.7 469.3L140.6 470.2L139.2 470.7ZM139.8 471.3L141.3 470.8L142.2 471.6L140.8 472.1ZM141.4 472.7L142.9 472.2L143.8 473.1L142.3 473.6ZM143.0 474.2L144.5 473.7L145.4 474.6L143.9 475.1ZM134.1 463.2L135.3 462.8L136.3 463.7L135.1 464.1ZM135.7 464.7L137.0 464.2L138.0 465.1L136.7 465.5ZM137.3 466.1L138.7 465.7L139.7 466.5L138.3 467.0ZM139.0 467.6L140.3 467.1L141.3 468.0L139.9 468.4ZM140.6 469.0L142.0 468.5L143.0 469.4L141.6 469.9ZM142.2 470.5L143.7 470.0L144.7 470.8L143.2 471.3ZM143.8 471.9L145.3 471.4L146.3 472.3L144.8 472.8ZM145.5 473.3L147.0 472.8L148.0 473.7L146.4 474.2ZM136.2 462.5L137.5 462.1L138.5 462.9L137.2 463.4ZM137.9 463.9L139.2 463.5L140.2 464.3L138.9 464.8ZM139.6 465.4L140.9 464.9L141.9 465.8L140.6 466.2ZM141.2 466.8L142.6 466.3L143.6 467.2L142.3 467.7ZM142.9 468.2L144.3 467.8L145.4 468.6L143.9 469.1ZM144.6 469.7L146.0 469.2L147.1 470.0L145.6 470.5ZM146.3 471.1L147.8 470.6L148.8 471.4L147.3 471.9ZM148.0 472.5L149.5 472.0L150.5 472.9L149.0 473.4ZM138.3 461.8L139.6 461.4L140.6 462.2L139.3 462.6ZM140.0 463.2L141.3 462.8L142.4 463.6L141.1 464.0ZM141.8 464.6L143.1 464.2L144.2 465.0L142.8 465.5ZM143.5 466.0L144.9 465.6L146.0 466.4L144.6 466.9ZM145.3 467.4L146.7 467.0L147.7 467.8L146.3 468.3ZM147.0 468.9L148.4 468.4L149.5 469.2L148.0 469.7ZM148.7 470.3L150.2 469.8L151.3 470.6L149.8 471.1ZM150.5 471.7L152.0 471.2L153.1 472.0L151.5 472.5Z" fill="#eec0bb"/>
<polygon points="112.2,544 122.1,558.9 157,547.2 157,550.8 122.1,562.5 112.2,547.6" fill="#48494b" stroke="#48494b" stroke-width="1" stroke-linejoin="round"/><path d="M125.1 561.9L149 552.4" stroke="#d8d8d8" stroke-width="0.6"/><polygon points="112.2,544 140,533.8 157,547.2 122.1,558.9" fill="#707174" stroke="#707174" stroke-width="1.6" stroke-linejoin="round"/><path d="M115.1 544.6L116.4 544.2L117.0 545.1L115.8 545.6ZM116.2 546.2L117.5 545.8L118.2 546.7L116.9 547.2ZM117.3 547.8L118.7 547.3L119.4 548.3L118.0 548.8ZM118.4 549.4L119.8 548.9L120.5 549.9L119.1 550.4ZM119.6 551.0L121.0 550.5L121.7 551.5L120.2 552.0ZM120.7 552.6L122.1 552.1L122.8 553.0L121.4 553.5ZM121.8 554.2L123.3 553.7L124.0 554.6L122.5 555.1ZM122.9 555.8L124.4 555.3L125.1 556.2L123.6 556.7ZM117.2 543.9L118.5 543.4L119.2 544.4L117.9 544.8ZM118.4 545.5L119.7 545.0L120.4 545.9L119.1 546.4ZM119.6 547.0L120.9 546.6L121.6 547.5L120.3 548.0ZM120.7 548.6L122.1 548.1L122.8 549.1L121.4 549.6ZM121.9 550.2L123.3 549.7L124.0 550.6L122.6 551.1ZM123.1 551.8L124.5 551.3L125.2 552.2L123.8 552.7ZM124.2 553.3L125.7 552.8L126.4 553.8L125.0 554.3ZM125.4 554.9L126.9 554.4L127.7 555.4L126.1 555.9ZM119.3 543.1L120.6 542.6L121.3 543.6L120.1 544.0ZM120.5 544.7L121.8 544.2L122.6 545.1L121.3 545.6ZM121.8 546.2L123.1 545.8L123.9 546.7L122.5 547.2ZM123.0 547.8L124.4 547.3L125.1 548.3L123.7 548.7ZM124.2 549.4L125.6 548.9L126.4 549.8L125.0 550.3ZM125.5 550.9L126.9 550.4L127.7 551.4L126.2 551.9ZM126.7 552.5L128.2 552.0L128.9 552.9L127.4 553.4ZM127.9 554.1L129.4 553.6L130.2 554.5L128.7 555.0ZM121.4 542.3L122.7 541.9L123.5 542.8L122.2 543.3ZM122.7 543.9L124.0 543.4L124.8 544.4L123.5 544.8ZM124.0 545.5L125.3 545.0L126.1 545.9L124.8 546.4ZM125.3 547.0L126.7 546.5L127.4 547.5L126.1 547.9ZM126.6 548.6L128.0 548.1L128.8 549.0L127.3 549.5ZM127.9 550.1L129.3 549.6L130.1 550.5L128.6 551.0ZM129.1 551.7L130.6 551.2L131.4 552.1L129.9 552.6ZM130.4 553.2L131.9 552.7L132.7 553.6L131.2 554.2ZM123.5 541.6L124.8 541.1L125.6 542.0L124.3 542.5ZM124.9 543.1L126.2 542.7L127.0 543.6L125.7 544.0ZM126.2 544.7L127.6 544.2L128.4 545.1L127.0 545.6ZM127.6 546.2L128.9 545.7L129.8 546.6L128.4 547.1ZM128.9 547.7L130.3 547.3L131.1 548.2L129.7 548.7ZM130.3 549.3L131.7 548.8L132.5 549.7L131.1 550.2ZM131.6 550.8L133.1 550.3L133.9 551.2L132.4 551.8ZM132.9 552.4L134.4 551.9L135.3 552.8L133.7 553.3ZM125.6 540.8L126.9 540.3L127.8 541.3L126.5 541.7ZM127.0 542.3L128.3 541.9L129.2 542.8L127.9 543.3ZM128.4 543.9L129.8 543.4L130.6 544.3L129.3 544.8ZM129.8 545.4L131.2 544.9L132.1 545.8L130.7 546.3ZM131.2 546.9L132.6 546.4L133.5 547.4L132.1 547.8ZM132.6 548.5L134.1 548.0L134.9 548.9L133.5 549.4ZM134.0 550.0L135.5 549.5L136.4 550.4L134.9 550.9ZM135.4 551.5L137.0 551.0L137.8 551.9L136.3 552.4ZM127.8 540.0L129.0 539.6L129.9 540.5L128.6 541.0ZM129.2 541.6L130.5 541.1L131.4 542.0L130.1 542.5ZM130.7 543.1L132.0 542.6L132.9 543.5L131.5 544.0ZM132.1 544.6L133.5 544.1L134.4 545.0L133.0 545.5ZM133.6 546.1L135.0 545.6L135.9 546.5L134.5 547.0ZM135.0 547.6L136.5 547.1L137.4 548.0L135.9 548.5ZM136.5 549.2L138.0 548.7L138.9 549.6L137.4 550.1ZM138.0 550.7L139.5 550.2L140.4 551.1L138.8 551.6ZM129.9 539.3L131.1 538.8L132.1 539.7L130.8 540.2ZM131.4 540.8L132.7 540.3L133.6 541.2L132.3 541.7ZM132.9 542.3L134.2 541.8L135.2 542.7L133.8 543.2ZM134.4 543.8L135.8 543.3L136.7 544.2L135.3 544.7ZM135.9 545.3L137.3 544.8L138.2 545.7L136.8 546.2ZM137.4 546.8L138.9 546.3L139.8 547.2L138.3 547.7ZM138.9 548.3L140.4 547.8L141.3 548.7L139.9 549.2ZM140.5 549.8L142.0 549.3L142.9 550.2L141.4 550.7ZM132.0 538.5L133.2 538.0L134.2 538.9L132.9 539.4ZM133.5 540.0L134.8 539.5L135.8 540.4L134.5 540.9ZM135.1 541.5L136.4 541.0L137.4 541.9L136.1 542.4ZM136.7 543.0L138.1 542.5L139.0 543.4L137.6 543.9ZM138.3 544.5L139.7 544.0L140.6 544.9L139.2 545.4ZM139.8 546.0L141.3 545.5L142.2 546.4L140.8 546.9ZM141.4 547.5L142.9 547.0L143.8 547.9L142.3 548.4ZM143.0 549.0L144.5 548.5L145.4 549.4L143.9 549.9ZM134.1 537.7L135.3 537.3L136.3 538.2L135.1 538.6ZM135.7 539.2L137.0 538.8L138.0 539.6L136.7 540.1ZM137.3 540.7L138.7 540.2L139.7 541.1L138.3 541.6ZM139.0 542.2L140.3 541.7L141.3 542.6L139.9 543.1ZM140.6 543.7L142.0 543.2L143.0 544.1L141.6 544.6ZM142.2 545.2L143.7 544.7L144.7 545.5L143.2 546.0ZM143.8 546.6L145.3 546.1L146.3 547.0L144.8 547.5ZM145.5 548.1L147.0 547.6L148.0 548.5L146.4 549.0ZM136.2 537.0L137.5 536.5L138.5 537.4L137.2 537.9ZM137.9 538.4L139.2 538.0L140.2 538.9L138.9 539.3ZM139.6 539.9L140.9 539.4L141.9 540.3L140.6 540.8ZM141.2 541.4L142.6 540.9L143.6 541.8L142.3 542.3ZM142.9 542.9L144.3 542.4L145.4 543.2L143.9 543.7ZM144.6 544.3L146.0 543.8L147.1 544.7L145.6 545.2ZM146.3 545.8L147.8 545.3L148.8 546.2L147.3 546.7ZM148.0 547.3L149.5 546.8L150.5 547.6L149.0 548.2ZM138.3 536.2L139.6 535.7L140.6 536.6L139.3 537.1ZM140.0 537.7L141.3 537.2L142.4 538.1L141.1 538.5ZM141.8 539.1L143.1 538.7L144.2 539.5L142.8 540.0ZM143.5 540.6L144.9 540.1L146.0 541.0L144.6 541.5ZM145.3 542.0L146.7 541.6L147.7 542.4L146.3 542.9ZM147.0 543.5L148.4 543.0L149.5 543.9L148.0 544.4ZM148.7 545.0L150.2 544.5L151.3 545.3L149.8 545.8ZM150.5 546.4L152.0 545.9L153.1 546.8L151.5 547.3Z" fill="#b7dcf2"/>
<text x="170.5" y="471.7" font-size="6.9" fill="#000" textLength="11.6" lengthAdjust="spacingAndGlyphs">24h</text>
<path d="M165.6 476.1L188.6 476.1" stroke="#111" stroke-width="0.7"/><path d="M192 476.1L188.6 477.6L188.6 474.6Z" fill="#111"/>
<circle cx="117" cy="512.9" r="8" fill="#4f6ec0"/>
<path d="M117 512.9l-3.6-3.4M117 512.9l3.8-3M117 512.9l.4 4.6M113.4 509.5l-2.6 1.6M113.4 509.5l.6-2.8M120.8 509.9l.4-2.6M120.8 509.9l2.6 1.4M117.4 517.5l-2.8 1.6M117.4 517.5l2.8 1.4M110.6 514.6l1.6 2.4M123.6 514.4l-1.4 2.6" stroke="#8ea9de" stroke-width="1.3" stroke-linecap="round" fill="none"/>
<circle cx="117" cy="512.9" r="7.7" fill="none" stroke="#4a66b8" stroke-width="0.7"/>
<text x="124.4" y="507.2" font-size="6.9" fill="#000" textLength="41.6" lengthAdjust="spacingAndGlyphs">ZIKV infection</text>
<text x="134.3" y="515.6" font-size="6.9" fill="#000" textLength="24.5" lengthAdjust="spacingAndGlyphs">(MOI=3)</text>
<path d="M123.9 517.7Q133 520 134.6 527" stroke="#111" stroke-width="0.6" fill="none"/>
<path d="M135.2 529.6L133 526.6L136.3 526.3Z" fill="#111"/>
<text x="160.2" y="547.9" font-size="6.9" fill="#000" textLength="11.5" lengthAdjust="spacingAndGlyphs">24h</text>
<path d="M160.6 535.6L180.9 524.6" stroke="#111" stroke-width="0.7"/><path d="M183.9 523L181.6 525.9L180.2 523.3Z" fill="#111"/>
<path d="M158.4 555.3L176 566.4" stroke="#111" stroke-width="0.7"/><path d="M178.9 568.2L175.2 567.7L176.8 565.1Z" fill="#111"/>
<polygon points="206.3,474 220.9,468.7 226.5,477.3 209.7,483.3" fill="#d5ecf3" stroke="#d5ecf3" stroke-width="0.6" stroke-linejoin="round"/>
<polygon points="208.2,474.6 220.4,470.2 224.8,477 211,482" fill="#8fd7e4"/>
<polygon points="219.5,469.5 223.3,464.6 230,469.4 225,474.5" fill="#e4f1f5"/>
<polygon points="228,457.9 236.9,462.4 232.8,468.7 229.9,469.5 223.1,466.1 223.5,463.9" fill="#dcdddf" stroke="#dcdddf" stroke-width="0.9" stroke-linejoin="round"/>
<polygon points="224,465.4 230.2,468.6 232.6,468 233.4,466.6 225,462.6" fill="#c6c8cb"/>
<polygon points="235.1,449.3 240.7,451.9 236.2,459.8 232.1,457.9" fill="#2f5fae" stroke="#2f5fae" stroke-width="0.6" stroke-linejoin="round"/>
<path d="M238 452.2l1.4 .7" stroke="#c8cfdd" stroke-width="0.8"/>
<polygon points="240.2,449.6 241,447.6 242.4,448.3 241.6,450.4" fill="#d9dce0"/>
<text x="247.4" y="475.7" font-size="6.9" fill="#000" textLength="35.8" lengthAdjust="spacingAndGlyphs">cell viability</text>
<g transform="translate(0 0)">
<path d="M192.6 528.6L198 527.2L212.5 527.6L214.2 529V531.5L201 535L192.6 531.6Z" fill="#ececec" stroke="#b0b0b0" stroke-width="0.4"/>
<path d="M192.6 531.2L201 534.6L214.2 531.2" stroke="#4a4a4a" stroke-width="0.9" fill="none"/>
<path d="M206.3 529.2L211.4 528.4V529.8L206.6 530.8Z" fill="#333"/>
<path d="M207.6 523.6L212.1 522.4L212.6 528.4L208.4 528.9Z" fill="#ededed" stroke="#b5b5b5" stroke-width="0.3"/>
<path d="M203 511.4L209.4 511.9Q212 512.3 212 515V523H207.6L206.4 513Z" fill="#f3f3f3" stroke="#b5b5b5" stroke-width="0.4"/>
<path d="M206.4 514.7H208.8V518.8H206.7Z" fill="#333"/>
<path d="M196.4 512.4L203.2 511.8L203.6 515.4L199.2 517.6L196.8 515.2Z" fill="#e9e9e9" stroke="#aaa" stroke-width="0.3"/>
<path d="M197.4 514.6L199.6 512.8M199.4 515.8L202.4 513.4M198.6 513.2L200.8 515.4" stroke="#444" stroke-width="0.5"/>
<path d="M199.6 516.6L200.9 516.4L200.7 519.2H199.8Z" fill="#bcd"/>
<path d="M194.9 519.2L211.4 519.8L213.6 521.8L213 523.4L207.8 524L195.6 520.9Z" fill="#2e2e2e"/>
<path d="M199.8 519.6L203 519.7" stroke="#9ab0d8" stroke-width="0.7"/>
<path d="M200.4 521.6h3.3v2.6h-3.3z" fill="#2e2e2e"/>
<ellipse cx="202" cy="525.4" rx="2.5" ry="2.1" fill="#2a2a2a"/>
<path d="M190.8 506.3L191.8 505.4L196.5 505.1L201 506.2L206.5 509.2L206.9 510.9L204 512L198.4 511.8L193.4 509.1L191 507.7Z" fill="#2c2c2c" stroke="#2c2c2c" stroke-width="0.5" stroke-linejoin="round"/>
</g>
<rect x="224.2" y="506.8" width="32.8" height="18.9" fill="#3d3f42"/><rect x="225" y="507.6" width="31.2" height="16.9" fill="#050505"/><path d="M239.4 525.7h2.4l.3 4.2h3.6v1.7h-10.2v-1.7h3.6z" fill="#45474a"/><path d="M227.5 509.3h.01M227.9 511.5h.01M226.3 517.1h.01M227.5 519.9h.01M226.7 522.1h.01M229.7 509.1h.01M229.5 511.7h.01M229.6 516.5h.01M229.6 519.2h.01M229.4 521.9h.01M232.7 509.3h.01M232.0 511.6h.01M232.3 517.6h.01M232.9 519.5h.01M232.7 521.9h.01M236.1 511.7h.01M235.6 514.6h.01M234.6 521.5h.01M237.3 510.5h.01M238.2 517.9h.01M238.0 519.2h.01M240.6 512.1h.01M239.8 515.4h.01M240.4 516.4h.01M240.9 519.7h.01M241.5 522.1h.01M243.4 515.3h.01M243.7 517.9h.01M242.9 522.7h.01M246.6 510.1h.01M245.3 511.8h.01M245.7 516.7h.01M246.9 520.1h.01M246.6 522.9h.01M249.3 510.3h.01M248.5 512.2h.01M248.7 515.2h.01M249.3 518.9h.01M248.3 522.3h.01M251.4 510.2h.01M250.5 512.9h.01M250.6 519.2h.01M251.5 522.5h.01M253.5 511.7h.01M254.4 522.0h.01" stroke="#2fd565" stroke-width="1.5" stroke-linecap="round"/><path d="M230.7 515.0h.01M238.3 511.8h.01M238.3 514.7h.01M238.4 523.1h.01M239.8 509.6h.01M245.3 515.4h.01M249.1 516.9h.01M253.4 509.3h.01M253.4 520.0h.01" stroke="#35c6c0" stroke-width="1.45" stroke-linecap="round"/>
<text x="261.9" y="516.4" font-size="6.9" fill="#000" textLength="31.1" lengthAdjust="spacingAndGlyphs">anti NS4B/</text>
<text x="261.9" y="524.2" font-size="6.9" fill="#000" textLength="50.2" lengthAdjust="spacingAndGlyphs">Hoechst staining</text>
<text x="333.4" y="514.4" font-size="7.8" fill="#000" textLength="41.4" lengthAdjust="spacingAndGlyphs">1st round of</text>
<text x="339.8" y="522.5" font-size="7.8" fill="#000" textLength="29.2" lengthAdjust="spacingAndGlyphs">infection</text>
<polygon points="180.4,564.9 189.7,578.9 225.2,567.6 225.2,571.5 189.7,582.8 180.4,568.8" fill="#48494b" stroke="#48494b" stroke-width="1" stroke-linejoin="round"/><path d="M192.7 582.2L217.2 573.1" stroke="#d8d8d8" stroke-width="0.6"/><polygon points="180.4,564.9 208.5,553.8 225.2,567.6 189.7,578.9" fill="#707174" stroke="#707174" stroke-width="1.6" stroke-linejoin="round"/><path d="M183.3 565.4L184.5 564.9L185.2 565.8L183.9 566.3ZM184.3 566.9L185.6 566.4L186.3 567.3L184.9 567.8ZM185.4 568.4L186.7 567.9L187.4 568.8L186.0 569.3ZM186.4 569.9L187.8 569.4L188.5 570.3L187.1 570.8ZM187.5 571.4L188.9 570.9L189.6 571.8L188.1 572.3ZM188.5 572.9L190.0 572.4L190.6 573.3L189.2 573.8ZM189.6 574.4L191.1 573.9L191.7 574.8L190.2 575.3ZM190.6 575.9L192.2 575.4L192.8 576.3L191.3 576.8ZM185.4 564.6L186.7 564.1L187.4 565.0L186.1 565.5ZM186.5 566.1L187.8 565.6L188.5 566.5L187.2 567.0ZM187.6 567.6L189.0 567.1L189.7 568.0L188.3 568.5ZM188.7 569.1L190.1 568.6L190.8 569.5L189.4 570.0ZM189.9 570.6L191.3 570.1L192.0 571.0L190.5 571.5ZM191.0 572.1L192.4 571.6L193.1 572.5L191.6 573.0ZM192.1 573.6L193.6 573.1L194.3 574.0L192.7 574.5ZM193.2 575.1L194.7 574.6L195.4 575.5L193.9 576.0ZM187.5 563.8L188.8 563.3L189.5 564.2L188.2 564.7ZM188.7 565.3L190.0 564.8L190.7 565.7L189.4 566.2ZM189.9 566.8L191.2 566.3L192.0 567.2L190.6 567.7ZM191.0 568.3L192.4 567.8L193.2 568.7L191.8 569.2ZM192.2 569.8L193.6 569.3L194.4 570.2L192.9 570.7ZM193.4 571.3L194.9 570.8L195.6 571.7L194.1 572.2ZM194.6 572.8L196.1 572.3L196.8 573.2L195.3 573.7ZM195.7 574.3L197.3 573.8L198.0 574.7L196.4 575.2ZM189.7 562.9L190.9 562.4L191.7 563.3L190.4 563.8ZM190.9 564.4L192.2 563.9L193.0 564.8L191.6 565.3ZM192.1 565.9L193.5 565.4L194.2 566.3L192.9 566.8ZM193.4 567.4L194.7 566.9L195.5 567.8L194.1 568.3ZM194.6 568.9L196.0 568.4L196.8 569.3L195.3 569.8ZM195.8 570.4L197.3 569.9L198.0 570.8L196.6 571.3ZM197.1 571.9L198.6 571.4L199.3 572.3L197.8 572.8ZM198.3 573.4L199.8 572.9L200.6 573.8L199.0 574.3ZM191.8 562.1L193.1 561.6L193.9 562.5L192.6 563.0ZM193.1 563.6L194.4 563.1L195.2 564.0L193.9 564.5ZM194.4 565.1L195.7 564.6L196.5 565.5L195.2 566.0ZM195.7 566.6L197.1 566.1L197.9 567.0L196.4 567.5ZM197.0 568.1L198.4 567.6L199.2 568.5L197.7 569.0ZM198.3 569.6L199.7 569.1L200.5 570.0L199.0 570.5ZM199.5 571.1L201.0 570.6L201.8 571.5L200.3 572.0ZM200.8 572.6L202.4 572.1L203.2 573.0L201.6 573.5ZM193.9 561.3L195.2 560.8L196.0 561.7L194.7 562.2ZM195.3 562.8L196.6 562.3L197.4 563.2L196.1 563.7ZM196.6 564.3L198.0 563.8L198.8 564.7L197.4 565.2ZM198.0 565.8L199.4 565.3L200.2 566.2L198.8 566.7ZM199.3 567.3L200.8 566.8L201.6 567.7L200.1 568.2ZM200.7 568.8L202.1 568.3L203.0 569.2L201.5 569.7ZM202.0 570.3L203.5 569.8L204.4 570.7L202.8 571.2ZM203.4 571.8L204.9 571.2L205.7 572.1L204.2 572.6ZM196.1 560.5L197.3 560.0L198.2 560.9L196.9 561.4ZM197.5 562.0L198.8 561.5L199.7 562.4L198.3 562.8ZM198.9 563.4L200.2 562.9L201.1 563.8L199.7 564.3ZM200.3 564.9L201.7 564.4L202.5 565.3L201.1 565.8ZM201.7 566.4L203.1 565.9L204.0 566.8L202.5 567.3ZM203.1 567.9L204.6 567.4L205.4 568.3L204.0 568.8ZM204.5 569.4L206.0 568.9L206.9 569.8L205.4 570.3ZM205.9 570.9L207.5 570.4L208.3 571.3L206.8 571.8ZM198.2 559.6L199.5 559.1L200.4 560.0L199.1 560.5ZM199.7 561.1L201.0 560.6L201.9 561.5L200.5 562.0ZM201.1 562.6L202.5 562.1L203.4 563.0L202.0 563.5ZM202.6 564.1L204.0 563.6L204.9 564.5L203.5 565.0ZM204.1 565.6L205.5 565.1L206.4 566.0L205.0 566.5ZM205.5 567.1L207.0 566.6L207.9 567.5L206.4 568.0ZM207.0 568.6L208.5 568.1L209.4 569.0L207.9 569.5ZM208.5 570.1L210.0 569.6L210.9 570.5L209.4 571.0ZM200.3 558.8L201.6 558.3L202.6 559.2L201.3 559.7ZM201.9 560.3L203.2 559.8L204.1 560.7L202.8 561.2ZM203.4 561.8L204.7 561.3L205.7 562.2L204.3 562.7ZM204.9 563.3L206.3 562.8L207.2 563.7L205.8 564.2ZM206.4 564.8L207.9 564.3L208.8 565.2L207.4 565.7ZM208.0 566.3L209.4 565.8L210.4 566.7L208.9 567.2ZM209.5 567.8L211.0 567.3L211.9 568.1L210.4 568.6ZM211.0 569.2L212.6 568.7L213.5 569.6L211.9 570.1ZM202.5 558.0L203.7 557.5L204.7 558.4L203.4 558.9ZM204.1 559.5L205.4 559.0L206.3 559.9L205.0 560.4ZM205.6 561.0L207.0 560.5L208.0 561.4L206.6 561.9ZM207.2 562.5L208.6 562.0L209.6 562.8L208.2 563.3ZM208.8 563.9L210.2 563.4L211.2 564.3L209.8 564.8ZM210.4 565.4L211.9 564.9L212.8 565.8L211.4 566.3ZM212.0 566.9L213.5 566.4L214.5 567.3L212.9 567.8ZM213.6 568.4L215.1 567.9L216.1 568.8L214.5 569.3ZM204.6 557.2L205.9 556.7L206.9 557.6L205.6 558.1ZM206.2 558.6L207.6 558.2L208.6 559.0L207.2 559.5ZM207.9 560.1L209.2 559.6L210.3 560.5L208.9 561.0ZM209.5 561.6L210.9 561.1L211.9 562.0L210.5 562.5ZM211.2 563.1L212.6 562.6L213.6 563.5L212.2 564.0ZM212.8 564.6L214.3 564.1L215.3 565.0L213.8 565.5ZM214.5 566.1L216.0 565.6L217.0 566.5L215.5 567.0ZM216.1 567.6L217.6 567.1L218.7 568.0L217.1 568.5ZM206.7 556.3L208.0 555.8L209.1 556.7L207.8 557.2ZM208.4 557.8L209.8 557.3L210.8 558.2L209.5 558.7ZM210.1 559.3L211.5 558.8L212.5 559.7L211.2 560.2ZM211.9 560.8L213.2 560.3L214.3 561.2L212.9 561.7ZM213.6 562.3L215.0 561.8L216.0 562.7L214.6 563.2ZM215.3 563.8L216.7 563.3L217.8 564.2L216.3 564.7ZM217.0 565.2L218.5 564.7L219.5 565.6L218.0 566.1ZM218.7 566.7L220.2 566.2L221.2 567.1L219.7 567.6Z" fill="#eec0bb"/>
<text x="234.2" y="566.9" font-size="6.9" fill="#000" textLength="11.1" lengthAdjust="spacingAndGlyphs">24h</text>
<path d="M227.7 569.5L244.6 569.5" stroke="#111" stroke-width="0.7"/><path d="M248 569.5L244.6 571L244.6 568Z" fill="#111"/>
<g transform="translate(65.1 47.6)">
<path d="M192.6 528.6L198 527.2L212.5 527.6L214.2 529V531.5L201 535L192.6 531.6Z" fill="#ececec" stroke="#b0b0b0" stroke-width="0.4"/>
<path d="M192.6 531.2L201 534.6L214.2 531.2" stroke="#4a4a4a" stroke-width="0.9" fill="none"/>
<path d="M206.3 529.2L211.4 528.4V529.8L206.6 530.8Z" fill="#333"/>
<path d="M207.6 523.6L212.1 522.4L212.6 528.4L208.4 528.9Z" fill="#ededed" stroke="#b5b5b5" stroke-width="0.3"/>
<path d="M203 511.4L209.4 511.9Q212 512.3 212 515V523H207.6L206.4 513Z" fill="#f3f3f3" stroke="#b5b5b5" stroke-width="0.4"/>
<path d="M206.4 514.7H208.8V518.8H206.7Z" fill="#333"/>
<path d="M196.4 512.4L203.2 511.8L203.6 515.4L199.2 517.6L196.8 515.2Z" fill="#e9e9e9" stroke="#aaa" stroke-width="0.3"/>
<path d="M197.4 514.6L199.6 512.8M199.4 515.8L202.4 513.4M198.6 513.2L200.8 515.4" stroke="#444" stroke-width="0.5"/>
<path d="M199.6 516.6L200.9 516.4L200.7 519.2H199.8Z" fill="#bcd"/>
<path d="M194.9 519.2L211.4 519.8L213.6 521.8L213 523.4L207.8 524L195.6 520.9Z" fill="#2e2e2e"/>
<path d="M199.8 519.6L203 519.7" stroke="#9ab0d8" stroke-width="0.7"/>
<path d="M200.4 521.6h3.3v2.6h-3.3z" fill="#2e2e2e"/>
<ellipse cx="202" cy="525.4" rx="2.5" ry="2.1" fill="#2a2a2a"/>
<path d="M190.8 506.3L191.8 505.4L196.5 505.1L201 506.2L206.5 509.2L206.9 510.9L204 512L198.4 511.8L193.4 509.1L191 507.7Z" fill="#2c2c2c" stroke="#2c2c2c" stroke-width="0.5" stroke-linejoin="round"/>
</g>
<rect x="285.2" y="553.8" width="32.9" height="19" fill="#3d3f42"/><rect x="286" y="554.6" width="31.3" height="17" fill="#050505"/><path d="M300.4 572.8h2.4l.3 4.2h3.6v1.7h-10.2v-1.7h3.6z" fill="#45474a"/><path d="M288.4 559.7h.01M287.6 561.0h.01M287.5 564.9h.01M287.8 567.0h.01M287.7 569.0h.01M290.3 558.4h.01M291.4 560.9h.01M291.1 567.7h.01M291.6 570.1h.01M294.1 559.2h.01M296.9 555.9h.01M296.8 560.9h.01M295.8 564.8h.01M295.5 569.9h.01M299.0 560.0h.01M298.8 567.3h.01M301.6 559.6h.01M302.4 562.5h.01M301.3 563.5h.01M302.4 567.6h.01M302.0 569.7h.01M304.1 555.9h.01M304.1 559.8h.01M304.9 561.3h.01M303.6 564.8h.01M304.9 567.4h.01M303.5 570.2h.01M307.0 562.0h.01M306.8 567.5h.01M309.7 556.2h.01M310.2 560.1h.01M309.6 561.4h.01M309.8 563.9h.01M309.1 566.5h.01M310.7 569.4h.01M312.9 556.9h.01M312.2 559.7h.01M312.0 561.0h.01M311.6 566.4h.01M313.0 569.6h.01M315.6 556.7h.01M315.6 564.7h.01M314.6 566.2h.01" stroke="#2fd565" stroke-width="1.5" stroke-linecap="round"/><path d="M288.9 556.1h.01M290.2 556.1h.01M294.5 556.5h.01M294.4 567.0h.01M293.8 569.9h.01M296.2 566.9h.01M298.2 564.2h.01M298.8 570.2h.01M307.7 556.9h.01M307.3 569.4h.01M314.5 559.5h.01M314.5 561.1h.01" stroke="#35c6c0" stroke-width="1.45" stroke-linecap="round"/>
<text x="319.7" y="565.2" font-size="6.9" fill="#000" textLength="32.5" lengthAdjust="spacingAndGlyphs">anti NS4B/</text>
<text x="319.7" y="573" font-size="6.9" fill="#000" textLength="51" lengthAdjust="spacingAndGlyphs">Hoechst staining</text>
<text x="376.7" y="564.6" font-size="7.8" fill="#000" textLength="43.7" lengthAdjust="spacingAndGlyphs">2nd round of</text>
<text x="383.8" y="573.2" font-size="7.8" fill="#000" textLength="29.4" lengthAdjust="spacingAndGlyphs">infection</text>
<text x="170.9" y="590.2" font-size="6.9" fill="#000" textLength="59.1" lengthAdjust="spacingAndGlyphs">supernatant used to</text>
<text x="174.8" y="597.4" font-size="6.9" fill="#000" textLength="49" lengthAdjust="spacingAndGlyphs">infect naive cells</text></g>
<g id="pd"><text x="0.4" y="608.9" font-size="13.2" fill="#000" font-weight="bold">d</text>
<rect x="35.6" y="626.3" width="84.2" height="351.5" fill="#e9e192"/>
<rect x="35.6" y="870.8" width="105.6" height="4.8" fill="#000"/>
<circle cx="141.2" cy="873.2" r="2.1" fill="#000"/>
<g stroke="#1e1e1e" stroke-width="0.85"><rect x="35.6" y="630.7" width="29.2" height="3.8" fill="#f5605c"/><rect x="35.6" y="637.8" width="43.9" height="3.8" fill="#f5605c"/><rect x="35.6" y="644.9" width="70.6" height="3.8" fill="#ffffff"/><rect x="35.6" y="651.9" width="78.9" height="3.8" fill="#949494"/><rect x="35.6" y="659" width="80.7" height="3.8" fill="#ffffff"/><rect x="35.6" y="666.1" width="85" height="3.8" fill="#ffffff"/><rect x="35.6" y="673.2" width="86.5" height="3.8" fill="#ffffff"/><rect x="35.6" y="680.2" width="88.3" height="3.8" fill="#949494"/><rect x="35.6" y="687.3" width="88.8" height="3.8" fill="#949494"/><rect x="35.6" y="694.4" width="89.6" height="3.8" fill="#ffffff"/><rect x="35.6" y="701.5" width="91.6" height="3.8" fill="#ffffff"/><rect x="35.6" y="708.5" width="93.4" height="3.8" fill="#ffffff"/><rect x="35.6" y="715.6" width="93.9" height="3.8" fill="#949494"/><rect x="35.6" y="722.7" width="94.7" height="3.8" fill="#949494"/><rect x="35.6" y="729.8" width="95.2" height="3.8" fill="#949494"/><rect x="35.6" y="736.8" width="96.7" height="3.8" fill="#949494"/><rect x="35.6" y="743.9" width="97.7" height="3.8" fill="#ffffff"/><rect x="35.6" y="751" width="98.4" height="3.8" fill="#949494"/><rect x="35.6" y="758.1" width="98.7" height="3.8" fill="#ffffff"/><rect x="35.6" y="765.1" width="99.2" height="3.8" fill="#949494"/><rect x="35.6" y="772.2" width="99.7" height="3.8" fill="#ffffff"/><rect x="35.6" y="779.3" width="100.2" height="3.8" fill="#ffffff"/><rect x="35.6" y="786.4" width="100.5" height="3.8" fill="#ffffff"/><rect x="35.6" y="793.4" width="100.7" height="3.8" fill="#ffffff"/><rect x="35.6" y="800.5" width="101" height="3.8" fill="#ffffff"/><rect x="35.6" y="807.6" width="101.5" height="3.8" fill="#ffffff"/><rect x="35.6" y="814.7" width="102.4" height="3.8" fill="#ffffff"/><rect x="35.6" y="821.7" width="102.8" height="3.8" fill="#ffffff"/><rect x="35.6" y="828.8" width="103" height="3.8" fill="#ffffff"/><rect x="35.6" y="835.9" width="103.5" height="3.8" fill="#ffffff"/><rect x="35.6" y="843" width="104" height="3.8" fill="#ffffff"/><rect x="35.6" y="850" width="104.6" height="3.8" fill="#ffffff"/><rect x="35.6" y="857.1" width="105.1" height="3.8" fill="#ffffff"/><rect x="35.6" y="864.2" width="105.3" height="3.8" fill="#ffffff"/><rect x="35.6" y="878.3" width="106.1" height="3.8" fill="#ffffff"/><rect x="35.6" y="885.4" width="106.6" height="3.8" fill="#ffffff"/><rect x="35.6" y="892.5" width="106.8" height="3.8" fill="#ffffff"/><rect x="35.6" y="899.6" width="106.8" height="3.8" fill="#949494"/><rect x="35.6" y="906.6" width="107.9" height="3.8" fill="#ffffff"/><rect x="35.6" y="913.7" width="108.1" height="3.8" fill="#ffffff"/><rect x="35.6" y="920.8" width="109.1" height="3.8" fill="#949494"/><rect x="35.6" y="927.9" width="109.1" height="3.8" fill="#949494"/><rect x="35.6" y="934.9" width="109.9" height="3.8" fill="#ffffff"/><rect x="35.6" y="942" width="111.7" height="3.8" fill="#ffffff"/><rect x="35.6" y="949.1" width="112.9" height="3.8" fill="#ffffff"/><rect x="35.6" y="956.1" width="113.7" height="3.8" fill="#ffffff"/><rect x="35.6" y="963.2" width="114.3" height="3.8" fill="#949494"/><rect x="35.6" y="970.3" width="115.5" height="3.8" fill="#ffffff"/></g>
<path d="M59.5 632.6H70M70 631.3v2.6M59.5 631.3v2.6M73.2 639.7H85.8M85.8 638.4v2.6M73.2 638.4v2.6M103 646.8H109.3M109.3 645.5v2.6M103 645.5v2.6M110.3 653.8H118.7M118.7 652.5v2.6M110.3 652.5v2.6M112 660.9H120.5M120.5 659.6v2.6M112 659.6v2.6M119.5 668H121.6M121.6 666.7v2.6M119.5 666.7v2.6M115.7 675.1H128.4M128.4 673.8v2.6M115.7 673.8v2.6M119.7 682.1H128.2M128.2 680.8v2.6M119.7 680.8v2.6M117 689.2H131.7M131.7 687.9v2.6M117 687.9v2.6M123.6 696.3H126.9M126.9 695v2.6M123.6 695v2.6M123.6 703.4H130.9M130.9 702.1v2.6M123.6 702.1v2.6M119.5 710.4H138.5M138.5 709.1v2.6M119.5 709.1v2.6M125.5 717.5H133.6M133.6 716.2v2.6M125.5 716.2v2.6M126.1 724.6H134.4M134.4 723.3v2.6M126.1 723.3v2.6M126.2 731.6H135.4M135.4 730.4v2.6M126.2 730.4v2.6M130.5 738.7H134.1M134.1 737.4v2.6M130.5 737.4v2.6M131 745.8H135.7M135.7 744.5v2.6M131 744.5v2.6M124.5 752.9H143.4M143.4 751.6v2.6M124.5 751.6v2.6M130.5 760H138.1M138.1 758.7v2.6M130.5 758.7v2.6M127.4 767H142.2M142.2 765.7v2.6M127.4 765.7v2.6M132.8 774.1H137.8M137.8 772.8v2.6M132.8 772.8v2.6M133.9 781.2H137.8M137.8 779.9v2.6M133.9 779.9v2.6M131.6 788.2H140.5M140.5 787v2.6M131.6 787v2.6M133.1 795.3H139.4M139.4 794v2.6M133.1 794v2.6M132.2 802.4H141M141 801.1v2.6M132.2 801.1v2.6M134.7 809.5H139.5M139.5 808.2v2.6M134.7 808.2v2.6M134.5 816.6H141.5M141.5 815.3v2.6M134.5 815.3v2.6M133.7 823.6H143M143 822.3v2.6M133.7 822.3v2.6M135.8 830.7H141.4M141.4 829.4v2.6M135.8 829.4v2.6M135.4 837.8H142.8M142.8 836.5v2.6M135.4 836.5v2.6M137.2 844.9H142M142 843.6v2.6M137.2 843.6v2.6M138.2 851.9H142.1M142.1 850.6v2.6M138.2 850.6v2.6M136.5 859H144.8M144.8 857.7v2.6M136.5 857.7v2.6M133.5 866.1H148.3M148.3 864.8v2.6M133.5 864.8v2.6M138.6 880.2H144.9M144.9 878.9v2.6M138.6 878.9v2.6M139.2 887.3H145.1M145.1 886v2.6M139.2 886v2.6M140.5 894.4H144.3M144.3 893.1v2.6M140.5 893.1v2.6M139.5 901.5H145.2M145.2 900.2v2.6M139.5 900.2v2.6M138.8 908.5H148.3M148.3 907.2v2.6M138.8 907.2v2.6M140.7 915.6H146.8M146.8 914.3v2.6M140.7 914.3v2.6M142.8 922.7H146.6M146.6 921.4v2.6M142.8 921.4v2.6M142.4 929.8H146.9M146.9 928.5v2.6M142.4 928.5v2.6M138.2 936.8H152.9M152.9 935.5v2.6M138.2 935.5v2.6M142.7 943.9H151.9M151.9 942.6v2.6M142.7 942.6v2.6M144.1 951H152.8M152.8 949.7v2.6M144.1 949.7v2.6M146.4 958H152.2M152.2 956.8v2.6M146.4 956.8v2.6M142.5 965.1H157.2M157.2 963.8v2.6M142.5 963.8v2.6M143.7 972.2H158.5M158.5 970.9v2.6M143.7 970.9v2.6" stroke="#222" stroke-width="0.65" fill="none"/>
<path d="M65.8 632.6h.01M62 632.6h.01M63.6 632.6h.01M53.8 632.6h.01M91.2 639.7h.01M89 639.7h.01M78.7 639.7h.01M79.7 639.7h.01M103.8 646.8h.01M111.4 646.8h.01M106.9 646.8h.01M104.6 646.8h.01M117.6 653.8h.01M121.2 653.8h.01M117.2 653.8h.01M105.9 653.8h.01M126.7 660.9h.01M115.4 660.9h.01M114.1 660.9h.01M115.4 660.9h.01M119.3 668h.01M121.9 668h.01M119.6 668h.01M126.1 675.1h.01M129.1 675.1h.01M118.8 675.1h.01M133.1 682.1h.01M129.1 682.1h.01M128.6 682.1h.01M117.1 682.1h.01M142.1 689.2h.01M110.5 689.2h.01M108.7 689.2h.01M131.7 689.2h.01M130 696.3h.01M127.3 696.3h.01M126.4 696.3h.01M124.6 703.4h.01M123.4 703.4h.01M130.5 703.4h.01M121.2 703.4h.01M131.1 710.4h.01M137.4 710.4h.01M105.1 710.4h.01M133.3 710.4h.01M140.3 717.5h.01M132.9 717.5h.01M122.2 717.5h.01M121.6 724.6h.01M133.9 724.6h.01M129.2 724.6h.01M132.7 724.6h.01M126.1 731.6h.01M132.8 731.6h.01M126.7 731.6h.01M123.5 731.6h.01M137.8 738.7h.01M136.6 738.7h.01M131.3 738.7h.01M133.7 745.8h.01M132.6 745.8h.01M137.4 745.8h.01M149.8 752.9h.01M147.6 752.9h.01M114.4 752.9h.01M134.8 760h.01M129.9 760h.01M138.2 760h.01M151.3 767h.01M138.2 767h.01M142.2 767h.01M141.6 774.1h.01M135.6 774.1h.01M140.4 774.1h.01M132.4 774.1h.01M140.7 781.2h.01M135 781.2h.01M131.4 781.2h.01M125.1 788.2h.01M139.8 788.2h.01M137.3 788.2h.01M128 788.2h.01M142.2 795.3h.01M136.1 795.3h.01M130.6 795.3h.01M130.6 795.3h.01M134.8 802.4h.01M143.4 802.4h.01M135.9 802.4h.01M144.2 809.5h.01M142.2 809.5h.01M134.8 809.5h.01M139.2 809.5h.01M144.7 816.6h.01M139.4 816.6h.01M131.4 816.6h.01M136 823.6h.01M135.7 823.6h.01M143.8 823.6h.01M132.3 823.6h.01M144.1 830.7h.01M136.5 830.7h.01M136.2 830.7h.01M134.1 830.7h.01M136.9 837.8h.01M145.1 837.8h.01M134.5 837.8h.01M142.4 837.8h.01M146 844.9h.01M142.6 844.9h.01M140.8 844.9h.01M136.4 851.9h.01M139.7 851.9h.01M140.3 851.9h.01M142.5 851.9h.01M140.3 859h.01M147.3 859h.01M142.5 859h.01M134.8 859h.01M145.3 866.1h.01M140.2 866.1h.01M144.8 866.1h.01M138.3 880.2h.01M143.1 880.2h.01M140.3 880.2h.01M141.3 880.2h.01M149.6 887.3h.01M147.8 887.3h.01M143.2 887.3h.01M144.7 894.4h.01M146.7 894.4h.01M138.2 894.4h.01M140.7 894.4h.01M139.3 901.5h.01M147.7 901.5h.01M139.3 901.5h.01M146.2 908.5h.01M150 908.5h.01M148 908.5h.01M151.5 915.6h.01M142.4 915.6h.01M147.4 915.6h.01M148.5 922.7h.01M144 922.7h.01M140.6 922.7h.01M150.9 929.8h.01M145.4 929.8h.01M144.2 929.8h.01M140.8 929.8h.01M149.3 936.8h.01M155.4 936.8h.01M135.6 936.8h.01M142.2 936.8h.01M150.1 943.9h.01M145.2 943.9h.01M140.7 943.9h.01M159.2 951h.01M156 951h.01M150.1 951h.01M156.3 958h.01M149.9 958h.01M150.9 958h.01M145.3 958h.01M166.7 965.1h.01M157.7 965.1h.01M154.3 965.1h.01M165.3 972.2h.01M153.9 972.2h.01M141.1 972.2h.01" stroke="#000" stroke-width="1.7" stroke-linecap="round" fill="none"/>
<path d="M119.8 622.3V977.8M140.9 622.3V977.8" stroke="#000" stroke-width="0.9" stroke-dasharray="2.4 1.8" fill="none"/>
<path d="M35.6 625.5V977.8H183M31.4 632.6H35.6M31.4 639.7H35.6M31.4 646.8H35.6M31.4 653.8H35.6M31.4 660.9H35.6M31.4 668H35.6M31.4 675.1H35.6M31.4 682.1H35.6M31.4 689.2H35.6M31.4 696.3H35.6M31.4 703.4H35.6M31.4 710.4H35.6M31.4 717.5H35.6M31.4 724.6H35.6M31.4 731.6H35.6M31.4 738.7H35.6M31.4 745.8H35.6M31.4 752.9H35.6M31.4 760H35.6M31.4 767H35.6M31.4 774.1H35.6M31.4 781.2H35.6M31.4 788.2H35.6M31.4 795.3H35.6M31.4 802.4H35.6M31.4 809.5H35.6M31.4 816.6H35.6M31.4 823.6H35.6M31.4 830.7H35.6M31.4 837.8H35.6M31.4 844.9H35.6M31.4 851.9H35.6M31.4 859H35.6M31.4 866.1H35.6M31.4 873.2H35.6M31.4 880.2H35.6M31.4 887.3H35.6M31.4 894.4H35.6M31.4 901.5H35.6M31.4 908.5H35.6M31.4 915.6H35.6M31.4 922.7H35.6M31.4 929.8H35.6M31.4 936.8H35.6M31.4 943.9H35.6M31.4 951H35.6M31.4 958H35.6M31.4 965.1H35.6M31.4 972.2H35.6M35.6 977.8v3M46.1 977.8v1.6M56.7 977.8v3M67.2 977.8v1.6M77.7 977.8v3M88.2 977.8v1.6M98.8 977.8v3M109.3 977.8v1.6M119.8 977.8v3M130.4 977.8v1.6M140.9 977.8v3M151.4 977.8v1.6M162 977.8v3M172.5 977.8v1.6M183 977.8v3" stroke="#000" stroke-width="0.9" fill="none"/>
<text x="30.6" y="634.9" font-size="6.3" fill="#000" text-anchor="end">RAN</text>
<text x="30.6" y="641.9" font-size="6.3" fill="#000" text-anchor="end">ALDOA</text>
<text x="30.6" y="649" font-size="6.3" fill="#000" text-anchor="end">PSMB7</text>
<text x="30.6" y="656.1" font-size="6.3" fill="#000" text-anchor="end">SCD</text>
<text x="30.6" y="663.1" font-size="6.3" fill="#000" text-anchor="end">ENO1</text>
<text x="30.6" y="670.2" font-size="6.3" fill="#000" text-anchor="end">PHB2</text>
<text x="30.6" y="677.3" font-size="6.3" fill="#000" text-anchor="end">ARHGDIA</text>
<text x="30.6" y="684.4" font-size="6.3" fill="#000" text-anchor="end">TPI1</text>
<text x="30.6" y="691.5" font-size="6.3" fill="#000" text-anchor="end">SERPINH1</text>
<text x="30.6" y="698.5" font-size="6.3" fill="#000" text-anchor="end">YWHAZ</text>
<text x="30.6" y="705.6" font-size="6.3" fill="#000" text-anchor="end">HSPA9</text>
<text x="30.6" y="712.7" font-size="6.3" fill="#000" text-anchor="end">TXN</text>
<text x="30.6" y="719.8" font-size="6.3" fill="#000" text-anchor="end">SOD1</text>
<text x="30.6" y="726.8" font-size="6.3" fill="#000" text-anchor="end">BLVRB</text>
<text x="30.6" y="733.9" font-size="6.3" fill="#000" text-anchor="end">PGK1</text>
<text x="30.6" y="741" font-size="6.3" fill="#000" text-anchor="end">AKR1C3</text>
<text x="30.6" y="748.1" font-size="6.3" fill="#000" text-anchor="end">EZR</text>
<text x="30.6" y="755.1" font-size="6.3" fill="#000" text-anchor="end">TXNRD1</text>
<text x="30.6" y="762.2" font-size="6.3" fill="#000" text-anchor="end">PTMA</text>
<text x="30.6" y="769.3" font-size="6.3" fill="#000" text-anchor="end">PGD</text>
<text x="30.6" y="776.4" font-size="6.3" fill="#000" text-anchor="end">AKR1B1</text>
<text x="30.6" y="783.4" font-size="6.3" fill="#000" text-anchor="end">IMMT</text>
<text x="30.6" y="790.5" font-size="6.3" fill="#000" text-anchor="end">YWHAE</text>
<text x="30.6" y="797.6" font-size="6.3" fill="#000" text-anchor="end">LRPPRC</text>
<text x="30.6" y="804.7" font-size="6.3" fill="#000" text-anchor="end">S100A6</text>
<text x="30.6" y="811.7" font-size="6.3" fill="#000" text-anchor="end">AKR1B15</text>
<text x="30.6" y="818.8" font-size="6.3" fill="#000" text-anchor="end">AKR1C2</text>
<text x="30.6" y="825.9" font-size="6.3" fill="#000" text-anchor="end">RAB21</text>
<text x="30.6" y="833" font-size="6.3" fill="#000" text-anchor="end">GAPDH</text>
<text x="30.6" y="840" font-size="6.3" fill="#000" text-anchor="end">CD44</text>
<text x="30.6" y="847.1" font-size="6.3" fill="#000" text-anchor="end">JUP</text>
<text x="30.6" y="854.2" font-size="6.3" fill="#000" text-anchor="end">PPIA</text>
<text x="30.6" y="861.2" font-size="6.3" fill="#000" text-anchor="end">FKBP2</text>
<text x="30.6" y="868.3" font-size="6.3" fill="#000" text-anchor="end">STOM</text>
<text x="30.6" y="875.4" font-size="6.3" fill="#000" text-anchor="end">NT</text>
<text x="30.6" y="882.5" font-size="6.3" fill="#000" text-anchor="end">NME1</text>
<text x="30.6" y="889.6" font-size="6.3" fill="#000" text-anchor="end">PPIB</text>
<text x="30.6" y="896.6" font-size="6.3" fill="#000" text-anchor="end">YWHAB</text>
<text x="30.6" y="903.7" font-size="6.3" fill="#000" text-anchor="end">RDX</text>
<text x="30.6" y="910.8" font-size="6.3" fill="#000" text-anchor="end">LRPAP1</text>
<text x="30.6" y="917.9" font-size="6.3" fill="#000" text-anchor="end">ATP1B1</text>
<text x="30.6" y="924.9" font-size="6.3" fill="#000" text-anchor="end">AHCY</text>
<text x="30.6" y="932" font-size="6.3" fill="#000" text-anchor="end">NME2</text>
<text x="30.6" y="939.1" font-size="6.3" fill="#000" text-anchor="end">ALDH1A1</text>
<text x="30.6" y="946.2" font-size="6.3" fill="#000" text-anchor="end">TMSB4X</text>
<text x="30.6" y="953.2" font-size="6.3" fill="#000" text-anchor="end">LASP1</text>
<text x="30.6" y="960.3" font-size="6.3" fill="#000" text-anchor="end">ALDH3A1</text>
<text x="30.6" y="967.4" font-size="6.3" fill="#000" text-anchor="end">PNPLA8</text>
<text x="30.6" y="974.5" font-size="6.3" fill="#000" text-anchor="end">AKR1B10</text>
<text x="35.6" y="988.3" font-size="6.7" fill="#000" text-anchor="middle">0</text>
<text x="56.7" y="988.3" font-size="6.7" fill="#000" text-anchor="middle">20</text>
<text x="77.7" y="988.3" font-size="6.7" fill="#000" text-anchor="middle">40</text>
<text x="98.8" y="988.3" font-size="6.7" fill="#000" text-anchor="middle">60</text>
<text x="119.8" y="988.3" font-size="6.7" fill="#000" text-anchor="middle">80</text>
<text x="140.9" y="988.3" font-size="6.7" fill="#000" text-anchor="middle">100</text>
<text x="162" y="988.3" font-size="6.7" fill="#000" text-anchor="middle">120</text>
<text x="183" y="988.3" font-size="6.7" fill="#000" text-anchor="middle">140</text>
<text x="44.6" y="997.5" font-size="8.5" fill="#000" textLength="130.4" lengthAdjust="spacing" stroke="#000" stroke-width="0.12">% cell viability (relative to NT)</text>
<text x="58.4" y="615.6" font-size="8.8" fill="#000" font-weight="bold" textLength="14.7" lengthAdjust="spacingAndGlyphs">cell</text>
<text x="77.2" y="615.6" font-size="8.8" fill="#000" font-weight="bold" textLength="32.7" lengthAdjust="spacingAndGlyphs">viability</text>
<rect x="241.6" y="630.4" width="49.4" height="347.6" fill="#e9e192"/>
<g stroke="#1e1e1e" stroke-width="0.85"><rect x="241.6" y="635" width="64.3" height="3.8" fill="#949494"/><rect x="241.6" y="642" width="72.2" height="3.8" fill="#949494"/><rect x="241.6" y="649" width="73.6" height="3.8" fill="#949494"/><rect x="241.6" y="656" width="77.1" height="3.8" fill="#949494"/><rect x="241.6" y="663" width="80.8" height="3.8" fill="#949494"/><rect x="241.6" y="670" width="81.1" height="3.8" fill="#949494"/><rect x="241.6" y="676.9" width="81.1" height="3.8" fill="#949494"/><rect x="241.6" y="683.9" width="81.1" height="3.8" fill="#949494"/><rect x="241.6" y="690.9" width="81.4" height="3.8" fill="#949494"/><rect x="241.6" y="697.9" width="84.7" height="3.8" fill="#949494"/><rect x="241.6" y="704.9" width="84.7" height="3.8" fill="#949494"/><rect x="241.6" y="711.9" width="85" height="3.8" fill="#ffffff"/><rect x="241.6" y="718.9" width="85.5" height="3.8" fill="#ffffff"/><rect x="241.6" y="725.9" width="86.3" height="3.8" fill="#ffffff"/><rect x="241.6" y="732.9" width="86.5" height="3.8" fill="#f5605c"/><rect x="241.6" y="739.9" width="87" height="3.8" fill="#ffffff"/><rect x="241.6" y="746.8" width="87.3" height="3.8" fill="#949494"/><rect x="241.6" y="753.8" width="87.7" height="3.8" fill="#ffffff"/><rect x="241.6" y="760.8" width="88" height="3.8" fill="#ffffff"/><rect x="241.6" y="767.8" width="88.3" height="3.8" fill="#ffffff"/><rect x="241.6" y="774.8" width="88.3" height="3.8" fill="#f5605c"/><rect x="241.6" y="781.8" width="90.6" height="3.8" fill="#ffffff"/><rect x="241.6" y="788.8" width="90.9" height="3.8" fill="#ffffff"/><rect x="241.6" y="795.8" width="91.2" height="3.8" fill="#ffffff"/><rect x="241.6" y="802.8" width="92.1" height="3.8" fill="#ffffff"/><rect x="241.6" y="809.8" width="92.9" height="3.8" fill="#ffffff"/><rect x="241.6" y="816.7" width="93.3" height="3.8" fill="#ffffff"/><rect x="241.6" y="823.7" width="95.8" height="3.8" fill="#ffffff"/><rect x="241.6" y="830.7" width="96" height="3.8" fill="#ffffff"/><rect x="241.6" y="837.7" width="96.1" height="3.8" fill="#ffffff"/><rect x="241.6" y="844.7" width="96.7" height="3.8" fill="#ffffff"/><rect x="241.6" y="851.7" width="97.3" height="3.8" fill="#ffffff"/><rect x="241.6" y="858.7" width="98.8" height="3.8" fill="#2c2c2c"/><rect x="241.6" y="865.7" width="99.3" height="3.8" fill="#ffffff"/><rect x="241.6" y="872.7" width="99.8" height="3.8" fill="#ffffff"/><rect x="241.6" y="879.6" width="100.3" height="3.8" fill="#ffffff"/><rect x="241.6" y="886.6" width="100.6" height="3.8" fill="#ffffff"/><rect x="241.6" y="893.6" width="102.8" height="3.8" fill="#ffffff"/><rect x="241.6" y="900.6" width="103" height="3.8" fill="#ffffff"/><rect x="241.6" y="907.6" width="105.3" height="3.8" fill="#ffffff"/><rect x="241.6" y="914.6" width="105.6" height="3.8" fill="#ffffff"/><rect x="241.6" y="921.6" width="106.3" height="3.8" fill="#ffffff"/><rect x="241.6" y="928.6" width="107.3" height="3.8" fill="#ffffff"/><rect x="241.6" y="935.6" width="108.2" height="3.8" fill="#ffffff"/><rect x="241.6" y="942.6" width="108.7" height="3.8" fill="#ffffff"/><rect x="241.6" y="949.6" width="110.3" height="3.8" fill="#ffffff"/><rect x="241.6" y="956.5" width="112.4" height="3.8" fill="#ffffff"/><rect x="241.6" y="963.5" width="114.7" height="3.8" fill="#ffffff"/><rect x="241.6" y="970.5" width="127.5" height="3.8" fill="#949494"/></g>
<path d="M295 636.9H316.7M316.7 635.6v2.6M295 635.6v2.6M306.3 643.9H321.2M321.2 642.6v2.6M306.3 642.6v2.6M309 650.9H321.5M321.5 649.6v2.6M309 649.6v2.6M313 657.9H324.4M324.4 656.6v2.6M313 656.6v2.6M317.3 664.9H327.4M327.4 663.6v2.6M317.3 663.6v2.6M317.6 671.9H327.7M327.7 670.6v2.6M317.6 670.6v2.6M316.5 678.8H328.8M328.8 677.5v2.6M316.5 677.5v2.6M319.3 685.8H326M326 684.5v2.6M319.3 684.5v2.6M319.6 692.8H326.3M326.3 691.5v2.6M319.6 691.5v2.6M316.4 699.8H336.2M336.2 698.5v2.6M316.4 698.5v2.6M317.4 706.8H335.2M335.2 705.5v2.6M317.4 705.5v2.6M322 713.8H331.2M331.2 712.5v2.6M322 712.5v2.6M319.6 720.8H334.6M334.6 719.5v2.6M319.6 719.5v2.6M320.5 727.8H335.3M335.3 726.5v2.6M320.5 726.5v2.6M324.4 734.8H331.8M331.8 733.5v2.6M324.4 733.5v2.6M324.8 741.8H332.4M332.4 740.5v2.6M324.8 740.5v2.6M321.1 748.7H336.7M336.7 747.4v2.6M321.1 747.4v2.6M324.6 755.7H333.9M333.9 754.4v2.6M324.6 754.4v2.6M322.9 762.7H336.3M336.3 761.4v2.6M322.9 761.4v2.6M322.7 769.7H337.1M337.1 768.4v2.6M322.7 768.4v2.6M311.1 776.7H348.7M348.7 775.4v2.6M311.1 775.4v2.6M328.6 783.7H335.9M335.9 782.4v2.6M328.6 782.4v2.6M328.6 790.7H336.5M336.5 789.4v2.6M328.6 789.4v2.6M329.3 797.7H336.4M336.4 796.4v2.6M329.3 796.4v2.6M330.6 804.7H336.9M336.9 803.4v2.6M330.6 803.4v2.6M330.7 811.6H338.4M338.4 810.4v2.6M330.7 810.4v2.6M326 818.6H343.8M343.8 817.3v2.6M326 817.3v2.6M333.9 825.6H340.9M340.9 824.3v2.6M333.9 824.3v2.6M329.9 832.6H345.2M345.2 831.3v2.6M329.9 831.3v2.6M333 839.6H342.4M342.4 838.3v2.6M333 838.3v2.6M335.2 846.6H341.4M341.4 845.3v2.6M335.2 845.3v2.6M333.9 853.6H343.9M343.9 852.3v2.6M333.9 852.3v2.6M338 867.6H343.9M343.9 866.3v2.6M338 866.3v2.6M336.5 874.6H346.4M346.4 873.3v2.6M336.5 873.3v2.6M329.1 881.5H354.8M354.8 880.2v2.6M329.1 880.2v2.6M337.5 888.5H347M347 887.2v2.6M337.5 887.2v2.6M340 895.5H348.8M348.8 894.2v2.6M340 894.2v2.6M341.4 902.5H347.8M347.8 901.2v2.6M341.4 901.2v2.6M341.1 909.5H352.6M352.6 908.2v2.6M341.1 908.2v2.6M339.6 916.5H354.8M354.8 915.2v2.6M339.6 915.2v2.6M342.6 923.5H353.2M353.2 922.2v2.6M342.6 922.2v2.6M343.2 930.5H354.5M354.5 929.2v2.6M343.2 929.2v2.6M346.6 937.5H353.1M353.1 936.2v2.6M346.6 936.2v2.6M345.2 944.5H355.5M355.5 943.2v2.6M345.2 943.2v2.6M345 951.5H358.8M358.8 950.2v2.6M345 950.2v2.6M337.2 958.4H370.8M370.8 957.1v2.6M337.2 957.1v2.6M351.8 965.4H360.7M360.7 964.1v2.6M351.8 964.1v2.6M360.2 972.4H378M378 971.1v2.6M360.2 971.1v2.6" stroke="#222" stroke-width="0.65" fill="none"/>
<path d="M338.6 636.9h.01M319.3 636.9h.01M308.1 636.9h.01M301.7 636.9h.01M338.6 643.9h.01M325.5 643.9h.01M303 643.9h.01M330.9 650.9h.01M318.5 650.9h.01M307.8 650.9h.01M307.2 650.9h.01M318.1 657.9h.01M333.3 657.9h.01M312.7 657.9h.01M336.5 664.9h.01M331.2 664.9h.01M326.4 664.9h.01M340.1 671.9h.01M323.1 671.9h.01M319.7 671.9h.01M340.8 678.8h.01M322.1 678.8h.01M331.9 678.8h.01M309.8 678.8h.01M334 685.8h.01M321.5 685.8h.01M327.2 685.8h.01M316.3 685.8h.01M337 692.8h.01M322.5 692.8h.01M316.5 692.8h.01M347.3 699.8h.01M327 699.8h.01M336.3 699.8h.01M350 706.8h.01M315.6 706.8h.01M334.2 706.8h.01M324.3 706.8h.01M338.6 713.8h.01M327.2 713.8h.01M331.2 713.8h.01M320.7 713.8h.01M346.4 720.8h.01M342.5 720.8h.01M337.3 720.8h.01M328.4 720.8h.01M352.4 727.8h.01M322.3 727.8h.01M349.7 727.8h.01M323.4 727.8h.01M326.3 734.8h.01M325.8 734.8h.01M325.3 734.8h.01M335 734.8h.01M338.9 741.8h.01M330 741.8h.01M326.7 741.8h.01M317.6 748.7h.01M345.9 748.7h.01M317.8 748.7h.01M329.8 755.7h.01M339.1 755.7h.01M327.2 755.7h.01M346.4 762.7h.01M343.6 762.7h.01M331.1 762.7h.01M317.1 762.7h.01M353.5 769.7h.01M343.7 769.7h.01M323.9 769.7h.01M327 769.7h.01M345.1 776.7h.01M367.9 776.7h.01M335.9 776.7h.01M298.6 776.7h.01M345.5 783.7h.01M336 783.7h.01M335.3 783.7h.01M347.9 790.7h.01M328.4 790.7h.01M331.9 790.7h.01M335.3 790.7h.01M346.6 797.7h.01M341.2 797.7h.01M330.2 797.7h.01M330.2 797.7h.01M347.5 804.7h.01M342.8 804.7h.01M334.5 804.7h.01M347 811.6h.01M340.7 811.6h.01M340.5 811.6h.01M326.4 811.6h.01M333.1 818.6h.01M351.8 818.6h.01M329.3 818.6h.01M334.8 818.6h.01M350.1 825.6h.01M337.8 825.6h.01M332.7 825.6h.01M336.4 825.6h.01M353.3 832.6h.01M355 832.6h.01M351.2 832.6h.01M325.5 832.6h.01M355.2 839.6h.01M339.2 839.6h.01M332.6 839.6h.01M347.8 846.6h.01M335.1 846.6h.01M333.2 846.6h.01M336.6 853.6h.01M350.6 853.6h.01M337.3 853.6h.01M332.5 860.6h.01M336.5 860.6h.01M339.5 860.6h.01M341.4 860.6h.01M343.4 860.6h.01M348.4 860.6h.01M349.3 860.6h.01M339.9 867.6h.01M344.7 867.6h.01M345.1 867.6h.01M345 867.6h.01M338.2 874.6h.01M353.6 874.6h.01M350.2 874.6h.01M341 874.6h.01M387 881.5h.01M340 881.5h.01M336 881.5h.01M317.2 881.5h.01M354 888.5h.01M346.9 888.5h.01M337.8 888.5h.01M358.9 895.5h.01M347.1 895.5h.01M344.3 895.5h.01M341.6 895.5h.01M345.8 902.5h.01M347 902.5h.01M350.6 902.5h.01M344 902.5h.01M367.7 909.5h.01M356.3 909.5h.01M349.3 909.5h.01M351.7 909.5h.01M374.6 916.5h.01M342.9 916.5h.01M352.6 916.5h.01M339.5 916.5h.01M360.5 923.5h.01M358.9 923.5h.01M352.2 923.5h.01M343.6 923.5h.01M368.4 930.5h.01M346.6 930.5h.01M339.3 930.5h.01M360.8 937.5h.01M354.4 937.5h.01M351.2 937.5h.01M343 937.5h.01M342.2 944.5h.01M362.2 944.5h.01M356.8 944.5h.01M343.8 944.5h.01M376.6 951.5h.01M350.1 951.5h.01M358.4 951.5h.01M337.4 951.5h.01M384.3 958.4h.01M378.9 958.4h.01M358.4 958.4h.01M347.6 958.4h.01M347.7 965.4h.01M358 965.4h.01M350.9 965.4h.01M360.5 965.4h.01M397.8 972.4h.01M372.6 972.4h.01M375.9 972.4h.01M369.5 972.4h.01" stroke="#000" stroke-width="1.7" stroke-linecap="round" fill="none"/>
<path d="M291 628.7V978M340.4 628.7V978" stroke="#000" stroke-width="0.9" stroke-dasharray="2.4 1.8" fill="none"/>
<path d="M241.6 629.6V978H419.5M237.4 636.9H241.6M237.4 643.9H241.6M237.4 650.9H241.6M237.4 657.9H241.6M237.4 664.9H241.6M237.4 671.9H241.6M237.4 678.8H241.6M237.4 685.8H241.6M237.4 692.8H241.6M237.4 699.8H241.6M237.4 706.8H241.6M237.4 713.8H241.6M237.4 720.8H241.6M237.4 727.8H241.6M237.4 734.8H241.6M237.4 741.8H241.6M237.4 748.7H241.6M237.4 755.7H241.6M237.4 762.7H241.6M237.4 769.7H241.6M237.4 776.7H241.6M237.4 783.7H241.6M237.4 790.7H241.6M237.4 797.7H241.6M237.4 804.7H241.6M237.4 811.6H241.6M237.4 818.6H241.6M237.4 825.6H241.6M237.4 832.6H241.6M237.4 839.6H241.6M237.4 846.6H241.6M237.4 853.6H241.6M237.4 860.6H241.6M237.4 867.6H241.6M237.4 874.6H241.6M237.4 881.5H241.6M237.4 888.5H241.6M237.4 895.5H241.6M237.4 902.5H241.6M237.4 909.5H241.6M237.4 916.5H241.6M237.4 923.5H241.6M237.4 930.5H241.6M237.4 937.5H241.6M237.4 944.5H241.6M237.4 951.5H241.6M237.4 958.4H241.6M237.4 965.4H241.6M237.4 972.4H241.6M241.6 978v3M251.5 978v1.6M261.4 978v3M271.3 978v1.6M281.1 978v3M291 978v1.6M300.9 978v3M310.8 978v1.6M320.7 978v3M330.6 978v1.6M340.4 978v3M350.3 978v1.6M360.2 978v3M370.1 978v1.6M380 978v3M389.9 978v1.6M399.8 978v3M409.6 978v1.6M419.5 978v3" stroke="#000" stroke-width="0.9" fill="none"/>
<text x="236.6" y="639.1" font-size="6.3" fill="#000" text-anchor="end">SCD</text>
<text x="236.6" y="646.1" font-size="6.3" fill="#000" text-anchor="end">TPI1</text>
<text x="236.6" y="653.1" font-size="6.3" fill="#000" text-anchor="end">BLVRB</text>
<text x="236.6" y="660.1" font-size="6.3" fill="#000" text-anchor="end">PGK1</text>
<text x="236.6" y="667.1" font-size="6.3" fill="#000" text-anchor="end">AHCY</text>
<text x="236.6" y="674.1" font-size="6.3" fill="#000" text-anchor="end">SERPINH1</text>
<text x="236.6" y="681.1" font-size="6.3" fill="#000" text-anchor="end">NME2</text>
<text x="236.6" y="688.1" font-size="6.3" fill="#000" text-anchor="end">STOM</text>
<text x="236.6" y="695.1" font-size="6.3" fill="#000" text-anchor="end">PNPLA8</text>
<text x="236.6" y="702.1" font-size="6.3" fill="#000" text-anchor="end">PGD</text>
<text x="236.6" y="709" font-size="6.3" fill="#000" text-anchor="end">TXNRD1</text>
<text x="236.6" y="716" font-size="6.3" fill="#000" text-anchor="end">LASP1</text>
<text x="236.6" y="723" font-size="6.3" fill="#000" text-anchor="end">GAPDH</text>
<text x="236.6" y="730" font-size="6.3" fill="#000" text-anchor="end">RAB21</text>
<text x="236.6" y="737" font-size="6.3" fill="#000" text-anchor="end">ALDOA</text>
<text x="236.6" y="744" font-size="6.3" fill="#000" text-anchor="end">ALDH3A1</text>
<text x="236.6" y="751" font-size="6.3" fill="#000" text-anchor="end">AKR1C3</text>
<text x="236.6" y="758" font-size="6.3" fill="#000" text-anchor="end">PTMA</text>
<text x="236.6" y="765" font-size="6.3" fill="#000" text-anchor="end">IMMT</text>
<text x="236.6" y="772" font-size="6.3" fill="#000" text-anchor="end">RDX</text>
<text x="236.6" y="779" font-size="6.3" fill="#000" text-anchor="end">RAN</text>
<text x="236.6" y="785.9" font-size="6.3" fill="#000" text-anchor="end">FKBP2</text>
<text x="236.6" y="792.9" font-size="6.3" fill="#000" text-anchor="end">ATP1B1</text>
<text x="236.6" y="799.9" font-size="6.3" fill="#000" text-anchor="end">NME1</text>
<text x="236.6" y="806.9" font-size="6.3" fill="#000" text-anchor="end">ARHGDIA</text>
<text x="236.6" y="813.9" font-size="6.3" fill="#000" text-anchor="end">PPIB</text>
<text x="236.6" y="820.9" font-size="6.3" fill="#000" text-anchor="end">EZR</text>
<text x="236.6" y="827.9" font-size="6.3" fill="#000" text-anchor="end">PPIA</text>
<text x="236.6" y="834.9" font-size="6.3" fill="#000" text-anchor="end">LRPAP1</text>
<text x="236.6" y="841.9" font-size="6.3" fill="#000" text-anchor="end">YWHAB</text>
<text x="236.6" y="848.9" font-size="6.3" fill="#000" text-anchor="end">AKR1B15</text>
<text x="236.6" y="855.8" font-size="6.3" fill="#000" text-anchor="end">YWHAZ</text>
<text x="236.6" y="862.8" font-size="6.3" fill="#000" text-anchor="end">NT</text>
<text x="236.6" y="869.8" font-size="6.3" fill="#000" text-anchor="end">JUP</text>
<text x="236.6" y="876.8" font-size="6.3" fill="#000" text-anchor="end">ENO1</text>
<text x="236.6" y="883.8" font-size="6.3" fill="#000" text-anchor="end">HSPA9</text>
<text x="236.6" y="890.8" font-size="6.3" fill="#000" text-anchor="end">AKR1B1</text>
<text x="236.6" y="897.8" font-size="6.3" fill="#000" text-anchor="end">CD44</text>
<text x="236.6" y="904.8" font-size="6.3" fill="#000" text-anchor="end">PSMB7</text>
<text x="236.6" y="911.8" font-size="6.3" fill="#000" text-anchor="end">TMSB4X</text>
<text x="236.6" y="918.8" font-size="6.3" fill="#000" text-anchor="end">AKR1B10</text>
<text x="236.6" y="925.7" font-size="6.3" fill="#000" text-anchor="end">AKR1C2</text>
<text x="236.6" y="932.7" font-size="6.3" fill="#000" text-anchor="end">TXN</text>
<text x="236.6" y="939.7" font-size="6.3" fill="#000" text-anchor="end">S100A6</text>
<text x="236.6" y="946.7" font-size="6.3" fill="#000" text-anchor="end">YWHAE</text>
<text x="236.6" y="953.7" font-size="6.3" fill="#000" text-anchor="end">ALDH1A1</text>
<text x="236.6" y="960.7" font-size="6.3" fill="#000" text-anchor="end">PHB2</text>
<text x="236.6" y="967.7" font-size="6.3" fill="#000" text-anchor="end">LRPPRC</text>
<text x="236.6" y="974.7" font-size="6.3" fill="#000" text-anchor="end">SOD1</text>
<text x="241.6" y="988.5" font-size="6.7" fill="#000" text-anchor="middle">0</text>
<text x="261.4" y="988.5" font-size="6.7" fill="#000" text-anchor="middle">20</text>
<text x="281.1" y="988.5" font-size="6.7" fill="#000" text-anchor="middle">40</text>
<text x="300.9" y="988.5" font-size="6.7" fill="#000" text-anchor="middle">60</text>
<text x="320.7" y="988.5" font-size="6.7" fill="#000" text-anchor="middle">80</text>
<text x="340.4" y="988.5" font-size="6.7" fill="#000" text-anchor="middle">100</text>
<text x="360.2" y="988.5" font-size="6.7" fill="#000" text-anchor="middle">120</text>
<text x="380" y="988.5" font-size="6.7" fill="#000" text-anchor="middle">140</text>
<text x="399.8" y="988.5" font-size="6.7" fill="#000" text-anchor="middle">160</text>
<text x="419.5" y="988.5" font-size="6.7" fill="#000" text-anchor="middle">180</text>
<text x="253.7" y="997.5" font-size="8.5" fill="#000" textLength="151.6" lengthAdjust="spacing" stroke="#000" stroke-width="0.12">% ZIKV positive cells (relative to NT)</text>
<text x="247.6" y="615.6" font-size="8.8" fill="#000" font-weight="bold" textLength="12.8" lengthAdjust="spacingAndGlyphs">1st</text>
<text x="264.6" y="615.6" font-size="8.8" fill="#000" font-weight="bold" textLength="24.7" lengthAdjust="spacingAndGlyphs">round</text>
<text x="293.7" y="615.6" font-size="8.8" fill="#000" font-weight="bold" textLength="7.8" lengthAdjust="spacingAndGlyphs">of</text>
<text x="305.7" y="615.6" font-size="8.8" fill="#000" font-weight="bold" textLength="36.9" lengthAdjust="spacingAndGlyphs">infection</text>
<rect x="476" y="628.6" width="49.3" height="349.4" fill="#e9e192"/>
<rect x="476" y="885.6" width="98.6" height="4.8" fill="#000"/>
<circle cx="574.6" cy="888" r="2.1" fill="#000"/>
<g stroke="#1e1e1e" stroke-width="0.85"><rect x="476" y="633.5" width="21.5" height="3.8" fill="#f5605c"/><rect x="476" y="640.5" width="21.5" height="3.8" fill="#f5605c"/><rect x="476" y="647.5" width="40.9" height="3.8" fill="#949494"/><rect x="476" y="654.6" width="43.6" height="3.8" fill="#949494"/><rect x="476" y="661.6" width="45.1" height="3.8" fill="#949494"/><rect x="476" y="668.6" width="45.8" height="3.8" fill="#949494"/><rect x="476" y="675.6" width="48.7" height="3.8" fill="#949494"/><rect x="476" y="682.6" width="51.7" height="3.8" fill="#949494"/><rect x="476" y="689.6" width="55.8" height="3.8" fill="#949494"/><rect x="476" y="696.7" width="56.5" height="3.8" fill="#949494"/><rect x="476" y="703.7" width="56.8" height="3.8" fill="#949494"/><rect x="476" y="710.7" width="60.3" height="3.8" fill="#949494"/><rect x="476" y="717.7" width="61.5" height="3.8" fill="#949494"/><rect x="476" y="724.7" width="66" height="3.8" fill="#ffffff"/><rect x="476" y="731.7" width="67.5" height="3.8" fill="#ffffff"/><rect x="476" y="738.8" width="70" height="3.8" fill="#ffffff"/><rect x="476" y="745.8" width="70.8" height="3.8" fill="#949494"/><rect x="476" y="752.8" width="72.3" height="3.8" fill="#949494"/><rect x="476" y="759.8" width="73.8" height="3.8" fill="#ffffff"/><rect x="476" y="766.8" width="74.9" height="3.8" fill="#ffffff"/><rect x="476" y="773.8" width="75.2" height="3.8" fill="#ffffff"/><rect x="476" y="780.9" width="77.9" height="3.8" fill="#ffffff"/><rect x="476" y="787.9" width="78.6" height="3.8" fill="#ffffff"/><rect x="476" y="794.9" width="78.9" height="3.8" fill="#ffffff"/><rect x="476" y="801.9" width="79.2" height="3.8" fill="#ffffff"/><rect x="476" y="808.9" width="79.5" height="3.8" fill="#ffffff"/><rect x="476" y="815.9" width="79.9" height="3.8" fill="#ffffff"/><rect x="476" y="823" width="80.7" height="3.8" fill="#ffffff"/><rect x="476" y="830" width="80.7" height="3.8" fill="#ffffff"/><rect x="476" y="837" width="81.5" height="3.8" fill="#ffffff"/><rect x="476" y="844" width="82.1" height="3.8" fill="#ffffff"/><rect x="476" y="851" width="83.6" height="3.8" fill="#ffffff"/><rect x="476" y="858" width="86" height="3.8" fill="#ffffff"/><rect x="476" y="865.1" width="87.5" height="3.8" fill="#ffffff"/><rect x="476" y="872.1" width="88.9" height="3.8" fill="#ffffff"/><rect x="476" y="879.1" width="94.1" height="3.8" fill="#ffffff"/><rect x="476" y="893.1" width="100.6" height="3.8" fill="#ffffff"/><rect x="476" y="900.1" width="102.1" height="3.8" fill="#ffffff"/><rect x="476" y="907.2" width="104.5" height="3.8" fill="#ffffff"/><rect x="476" y="914.2" width="107.8" height="3.8" fill="#ffffff"/><rect x="476" y="921.2" width="108.7" height="3.8" fill="#ffffff"/><rect x="476" y="928.2" width="112.4" height="3.8" fill="#ffffff"/><rect x="476" y="935.2" width="113.8" height="3.8" fill="#ffffff"/><rect x="476" y="942.2" width="115.6" height="3.8" fill="#ffffff"/><rect x="476" y="949.3" width="119.8" height="3.8" fill="#ffffff"/><rect x="476" y="956.3" width="120.1" height="3.8" fill="#ffffff"/><rect x="476" y="963.3" width="120.3" height="3.8" fill="#ffffff"/><rect x="476" y="970.3" width="123.2" height="3.8" fill="#ffffff"/></g>
<path d="M494.5 635.4H500.5M500.5 634.1v2.6M494.5 634.1v2.6M496.5 642.4H498.5M498.5 641.1v2.6M496.5 641.1v2.6M507.1 649.4H526.8M526.8 648.1v2.6M507.1 648.1v2.6M513.9 656.5H525.2M525.2 655.2v2.6M513.9 655.2v2.6M512.2 663.5H529.9M529.9 662.2v2.6M512.2 662.2v2.6M509.9 670.5H533.6M533.6 669.2v2.6M509.9 669.2v2.6M507 677.5H542.5M542.5 676.2v2.6M507 676.2v2.6M524 684.5H531.3M531.3 683.2v2.6M524 683.2v2.6M515 691.5H548.6M548.6 690.2v2.6M515 690.2v2.6M520.7 698.6H544.3M544.3 697.3v2.6M520.7 697.3v2.6M521 705.6H544.6M544.6 704.3v2.6M521 704.3v2.6M531.6 712.6H541.1M541.1 711.3v2.6M531.6 711.3v2.6M532.7 719.6H542.3M542.3 718.3v2.6M532.7 718.3v2.6M534.3 726.6H549.6M549.6 725.3v2.6M534.3 725.3v2.6M538.6 733.6H548.5M548.5 732.3v2.6M538.6 732.3v2.6M525.3 740.7H566.7M566.7 739.4v2.6M525.3 739.4v2.6M539.1 747.7H554.5M554.5 746.4v2.6M539.1 746.4v2.6M542.3 754.7H554.3M554.3 753.4v2.6M542.3 753.4v2.6M548.8 761.7H550.7M550.7 760.4v2.6M548.8 760.4v2.6M531.2 768.7H570.7M570.7 767.4v2.6M531.2 767.4v2.6M550.2 775.7H552.2M552.2 774.4v2.6M550.2 774.4v2.6M543 782.8H564.7M564.7 781.5v2.6M543 781.5v2.6M536.8 789.8H572.3M572.3 788.5v2.6M536.8 788.5v2.6M547.6 796.8H562.1M562.1 795.5v2.6M547.6 795.5v2.6M551.6 803.8H558.7M558.7 802.5v2.6M551.6 802.5v2.6M549.1 810.8H561.9M561.9 809.5v2.6M549.1 809.5v2.6M550.1 817.8H561.6M561.6 816.5v2.6M550.1 816.5v2.6M553.7 824.9H559.6M559.6 823.6v2.6M553.7 823.6v2.6M544.8 831.9H568.5M568.5 830.6v2.6M544.8 830.6v2.6M553 838.9H562M562 837.6v2.6M553 837.6v2.6M541.4 845.9H574.9M574.9 844.6v2.6M541.4 844.6v2.6M557.6 852.9H561.6M561.6 851.6v2.6M557.6 851.6v2.6M555.3 859.9H568.6M568.6 858.6v2.6M555.3 858.6v2.6M558.5 867H568.4M568.4 865.7v2.6M558.5 865.7v2.6M552.1 874H577.8M577.8 872.7v2.6M552.1 872.7v2.6M554.3 881H585.8M585.8 879.7v2.6M554.3 879.7v2.6M543 895H610.1M610.1 893.7v2.6M543 893.7v2.6M575.1 902H581M581 900.7v2.6M575.1 900.7v2.6M563.8 909.1H597.3M597.3 907.8v2.6M563.8 907.8v2.6M563.1 916.1H604.5M604.5 914.8v2.6M563.1 914.8v2.6M567.9 923.1H601.4M601.4 921.8v2.6M567.9 921.8v2.6M585.4 930.1H591.4M591.4 928.8v2.6M585.4 928.8v2.6M582.6 937.1H597M597 935.8v2.6M582.6 935.8v2.6M590.6 944.1H592.5M592.5 942.8v2.6M590.6 942.8v2.6M592.8 951.2H598.8M598.8 949.9v2.6M592.8 949.9v2.6M558.6 958.2H633.6M633.6 956.9v2.6M558.6 956.9v2.6M583.5 965.2H609.1M609.1 963.9v2.6M583.5 963.9v2.6M587.4 972.2H611.1M611.1 970.9v2.6M587.4 970.9v2.6" stroke="#222" stroke-width="0.65" fill="none"/>
<path d="M500.7 635.4h.01M498.5 635.4h.01M500 635.4h.01M500.1 635.4h.01M501.8 642.4h.01M496.1 642.4h.01M496.4 642.4h.01M495.2 642.4h.01M536.2 649.4h.01M511.8 649.4h.01M506.4 649.4h.01M500.2 649.4h.01M531.2 656.5h.01M520.4 656.5h.01M516.7 656.5h.01M523.8 656.5h.01M507.2 663.5h.01M532.4 663.5h.01M532.9 663.5h.01M507.4 663.5h.01M539.3 670.5h.01M521.5 670.5h.01M511.9 670.5h.01M522.6 670.5h.01M558.5 677.5h.01M501.9 677.5h.01M524.7 677.5h.01M490.5 677.5h.01M526.9 684.5h.01M527.4 684.5h.01M533.3 684.5h.01M563.1 691.5h.01M535.1 691.5h.01M512.6 691.5h.01M541.9 698.6h.01M518.1 698.6h.01M553.1 698.6h.01M509.7 698.6h.01M514.5 705.6h.01M545.1 705.6h.01M514.8 705.6h.01M513.6 705.6h.01M540.2 712.6h.01M530.7 712.6h.01M532.7 712.6h.01M539.8 712.6h.01M546.3 719.6h.01M544.8 719.6h.01M538.6 719.6h.01M550.8 726.6h.01M534.8 726.6h.01M552.4 726.6h.01M553.6 726.6h.01M546.6 733.6h.01M550.8 733.6h.01M541.5 733.6h.01M535.8 733.6h.01M585 740.7h.01M571.1 740.7h.01M536.1 740.7h.01M552.6 740.7h.01M559.1 747.7h.01M557 747.7h.01M553.5 747.7h.01M549.8 747.7h.01M558.7 754.7h.01M556.9 754.7h.01M553.2 754.7h.01M540.8 754.7h.01M549.4 761.7h.01M549.9 761.7h.01M546.9 761.7h.01M510.7 768.7h.01M543.6 768.7h.01M563.9 768.7h.01M514.6 768.7h.01M555.8 775.7h.01M553.4 775.7h.01M549.5 775.7h.01M551.1 775.7h.01M552.9 782.8h.01M551.7 782.8h.01M558.7 782.8h.01M581.1 789.8h.01M575.5 789.8h.01M553.9 789.8h.01M569.6 789.8h.01M567.4 796.8h.01M563.7 796.8h.01M557.3 796.8h.01M552.6 796.8h.01M553.9 803.8h.01M561.3 803.8h.01M556.2 803.8h.01M549.4 803.8h.01M556.7 810.8h.01M548.2 810.8h.01M551.6 810.8h.01M567.2 817.8h.01M556.2 817.8h.01M556.7 817.8h.01M545.6 817.8h.01M564.6 824.9h.01M556.9 824.9h.01M557.9 824.9h.01M544 831.9h.01M537.5 831.9h.01M556.9 831.9h.01M551.5 831.9h.01M568.4 838.9h.01M559.7 838.9h.01M552.2 838.9h.01M553.5 838.9h.01M571.6 845.9h.01M536.6 845.9h.01M551.8 845.9h.01M527 845.9h.01M566.1 852.9h.01M563.9 852.9h.01M554.5 852.9h.01M554.3 859.9h.01M572 859.9h.01M570.9 859.9h.01M553.6 859.9h.01M558.2 867h.01M561.9 867h.01M562.1 867h.01M564.2 867h.01M560.9 874h.01M590.1 874h.01M570.2 874h.01M550.2 874h.01M563.4 881h.01M562 881h.01M597.5 881h.01M539.7 881h.01M627.9 895h.01M591.1 895h.01M557.3 895h.01M558.7 895h.01M577.1 902h.01M580.4 902h.01M577.3 902h.01M585.4 902h.01M584.9 909.1h.01M584.1 909.1h.01M560.2 909.1h.01M563.1 909.1h.01M599.7 916.1h.01M561.9 916.1h.01M604.7 916.1h.01M610.8 923.1h.01M599.2 923.1h.01M583.3 923.1h.01M583.3 923.1h.01M595.9 930.1h.01M588.8 930.1h.01M588.5 930.1h.01M590.5 930.1h.01M607.2 937.1h.01M586.8 937.1h.01M590.8 937.1h.01M575.7 937.1h.01M595.8 944.1h.01M595.4 944.1h.01M592.3 944.1h.01M588.9 944.1h.01M595.3 951.2h.01M597.8 951.2h.01M596.3 951.2h.01M666 958.2h.01M578.3 958.2h.01M641.3 958.2h.01M525.5 958.2h.01M578.8 965.2h.01M583 965.2h.01M573.1 965.2h.01M578.9 965.2h.01M616.8 972.2h.01M619.8 972.2h.01M571.1 972.2h.01" stroke="#000" stroke-width="1.7" stroke-linecap="round" fill="none"/>
<path d="M525.3 628.4V978M574.6 628.4V978" stroke="#000" stroke-width="0.9" stroke-dasharray="2.4 1.8" fill="none"/>
<path d="M476 627.8V978H653.5M471.8 635.4H476M471.8 642.4H476M471.8 649.4H476M471.8 656.5H476M471.8 663.5H476M471.8 670.5H476M471.8 677.5H476M471.8 684.5H476M471.8 691.5H476M471.8 698.6H476M471.8 705.6H476M471.8 712.6H476M471.8 719.6H476M471.8 726.6H476M471.8 733.6H476M471.8 740.7H476M471.8 747.7H476M471.8 754.7H476M471.8 761.7H476M471.8 768.7H476M471.8 775.7H476M471.8 782.8H476M471.8 789.8H476M471.8 796.8H476M471.8 803.8H476M471.8 810.8H476M471.8 817.8H476M471.8 824.9H476M471.8 831.9H476M471.8 838.9H476M471.8 845.9H476M471.8 852.9H476M471.8 859.9H476M471.8 867H476M471.8 874H476M471.8 881H476M471.8 888H476M471.8 895H476M471.8 902H476M471.8 909.1H476M471.8 916.1H476M471.8 923.1H476M471.8 930.1H476M471.8 937.1H476M471.8 944.1H476M471.8 951.2H476M471.8 958.2H476M471.8 965.2H476M471.8 972.2H476M476 978v3M485.9 978v1.6M495.7 978v3M505.6 978v1.6M515.4 978v3M525.3 978v1.6M535.2 978v3M545 978v1.6M554.9 978v3M564.7 978v1.6M574.6 978v3M584.5 978v1.6M594.3 978v3M604.2 978v1.6M614 978v3M623.9 978v1.6M633.8 978v3M643.6 978v1.6M653.5 978v3" stroke="#000" stroke-width="0.9" fill="none"/>
<text x="471" y="637.6" font-size="6.3" fill="#000" text-anchor="end">RAN</text>
<text x="471" y="644.7" font-size="6.3" fill="#000" text-anchor="end">ALDOA</text>
<text x="471" y="651.7" font-size="6.3" fill="#000" text-anchor="end">AKR1C3</text>
<text x="471" y="658.7" font-size="6.3" fill="#000" text-anchor="end">BLVRB</text>
<text x="471" y="665.7" font-size="6.3" fill="#000" text-anchor="end">SCD</text>
<text x="471" y="672.7" font-size="6.3" fill="#000" text-anchor="end">AHCY</text>
<text x="471" y="679.8" font-size="6.3" fill="#000" text-anchor="end">TPI1</text>
<text x="471" y="686.8" font-size="6.3" fill="#000" text-anchor="end">PNPLA8</text>
<text x="471" y="693.8" font-size="6.3" fill="#000" text-anchor="end">TXNRD1</text>
<text x="471" y="700.8" font-size="6.3" fill="#000" text-anchor="end">PGD</text>
<text x="471" y="707.8" font-size="6.3" fill="#000" text-anchor="end">RDX</text>
<text x="471" y="714.8" font-size="6.3" fill="#000" text-anchor="end">SOD1</text>
<text x="471" y="721.9" font-size="6.3" fill="#000" text-anchor="end">NME2</text>
<text x="471" y="728.9" font-size="6.3" fill="#000" text-anchor="end">GAPDH</text>
<text x="471" y="735.9" font-size="6.3" fill="#000" text-anchor="end">FKBP2</text>
<text x="471" y="742.9" font-size="6.3" fill="#000" text-anchor="end">TXN</text>
<text x="471" y="749.9" font-size="6.3" fill="#000" text-anchor="end">PGK1</text>
<text x="471" y="756.9" font-size="6.3" fill="#000" text-anchor="end">SERPINH1</text>
<text x="471" y="764" font-size="6.3" fill="#000" text-anchor="end">YWHAZ</text>
<text x="471" y="771" font-size="6.3" fill="#000" text-anchor="end">AKR1C2</text>
<text x="471" y="778" font-size="6.3" fill="#000" text-anchor="end">S100A6</text>
<text x="471" y="785" font-size="6.3" fill="#000" text-anchor="end">STOM</text>
<text x="471" y="792" font-size="6.3" fill="#000" text-anchor="end">PHB2</text>
<text x="471" y="799" font-size="6.3" fill="#000" text-anchor="end">RAB21</text>
<text x="471" y="806.1" font-size="6.3" fill="#000" text-anchor="end">TMSB4X</text>
<text x="471" y="813.1" font-size="6.3" fill="#000" text-anchor="end">PSMB7</text>
<text x="471" y="820.1" font-size="6.3" fill="#000" text-anchor="end">ARHGDIA</text>
<text x="471" y="827.1" font-size="6.3" fill="#000" text-anchor="end">ATP1B1</text>
<text x="471" y="834.1" font-size="6.3" fill="#000" text-anchor="end">LASP1</text>
<text x="471" y="841.1" font-size="6.3" fill="#000" text-anchor="end">ALDH1A1</text>
<text x="471" y="848.2" font-size="6.3" fill="#000" text-anchor="end">AKR1B10</text>
<text x="471" y="855.2" font-size="6.3" fill="#000" text-anchor="end">PTMA</text>
<text x="471" y="862.2" font-size="6.3" fill="#000" text-anchor="end">ALDH3A1</text>
<text x="471" y="869.2" font-size="6.3" fill="#000" text-anchor="end">NME1</text>
<text x="471" y="876.2" font-size="6.3" fill="#000" text-anchor="end">PPIB</text>
<text x="471" y="883.2" font-size="6.3" fill="#000" text-anchor="end">JUP</text>
<text x="471" y="890.3" font-size="6.3" fill="#000" text-anchor="end">NT</text>
<text x="471" y="897.3" font-size="6.3" fill="#000" text-anchor="end">HSPA9</text>
<text x="471" y="904.3" font-size="6.3" fill="#000" text-anchor="end">IMMT</text>
<text x="471" y="911.3" font-size="6.3" fill="#000" text-anchor="end">CD44</text>
<text x="471" y="918.3" font-size="6.3" fill="#000" text-anchor="end">YWHAB</text>
<text x="471" y="925.3" font-size="6.3" fill="#000" text-anchor="end">LRPPRC</text>
<text x="471" y="932.4" font-size="6.3" fill="#000" text-anchor="end">EZR</text>
<text x="471" y="939.4" font-size="6.3" fill="#000" text-anchor="end">PPIA</text>
<text x="471" y="946.4" font-size="6.3" fill="#000" text-anchor="end">AKR1B15</text>
<text x="471" y="953.4" font-size="6.3" fill="#000" text-anchor="end">YWHAE</text>
<text x="471" y="960.4" font-size="6.3" fill="#000" text-anchor="end">LRPAP1</text>
<text x="471" y="967.4" font-size="6.3" fill="#000" text-anchor="end">ENO1</text>
<text x="471" y="974.5" font-size="6.3" fill="#000" text-anchor="end">AKR1B1</text>
<text x="476" y="988.5" font-size="6.7" fill="#000" text-anchor="middle">0</text>
<text x="495.7" y="988.5" font-size="6.7" fill="#000" text-anchor="middle">20</text>
<text x="515.4" y="988.5" font-size="6.7" fill="#000" text-anchor="middle">40</text>
<text x="535.2" y="988.5" font-size="6.7" fill="#000" text-anchor="middle">60</text>
<text x="554.9" y="988.5" font-size="6.7" fill="#000" text-anchor="middle">80</text>
<text x="574.6" y="988.5" font-size="6.7" fill="#000" text-anchor="middle">100</text>
<text x="594.3" y="988.5" font-size="6.7" fill="#000" text-anchor="middle">120</text>
<text x="614" y="988.5" font-size="6.7" fill="#000" text-anchor="middle">140</text>
<text x="633.8" y="988.5" font-size="6.7" fill="#000" text-anchor="middle">160</text>
<text x="653.5" y="988.5" font-size="6.7" fill="#000" text-anchor="middle">180</text>
<text x="494.2" y="997.5" font-size="8.5" fill="#000" textLength="151.8" lengthAdjust="spacing" stroke="#000" stroke-width="0.12">% ZIKV positive cells (relative to NT)</text>
<text x="481.9" y="615.6" font-size="8.8" fill="#000" font-weight="bold" textLength="15.4" lengthAdjust="spacingAndGlyphs">2nd</text>
<text x="501.5" y="615.6" font-size="8.8" fill="#000" font-weight="bold" textLength="24.7" lengthAdjust="spacingAndGlyphs">round</text>
<text x="530.6" y="615.6" font-size="8.8" fill="#000" font-weight="bold" textLength="7.8" lengthAdjust="spacingAndGlyphs">of</text>
<text x="542.6" y="615.6" font-size="8.8" fill="#000" font-weight="bold" textLength="37.4" lengthAdjust="spacingAndGlyphs">infection</text></g>
</svg>
</body></html>
